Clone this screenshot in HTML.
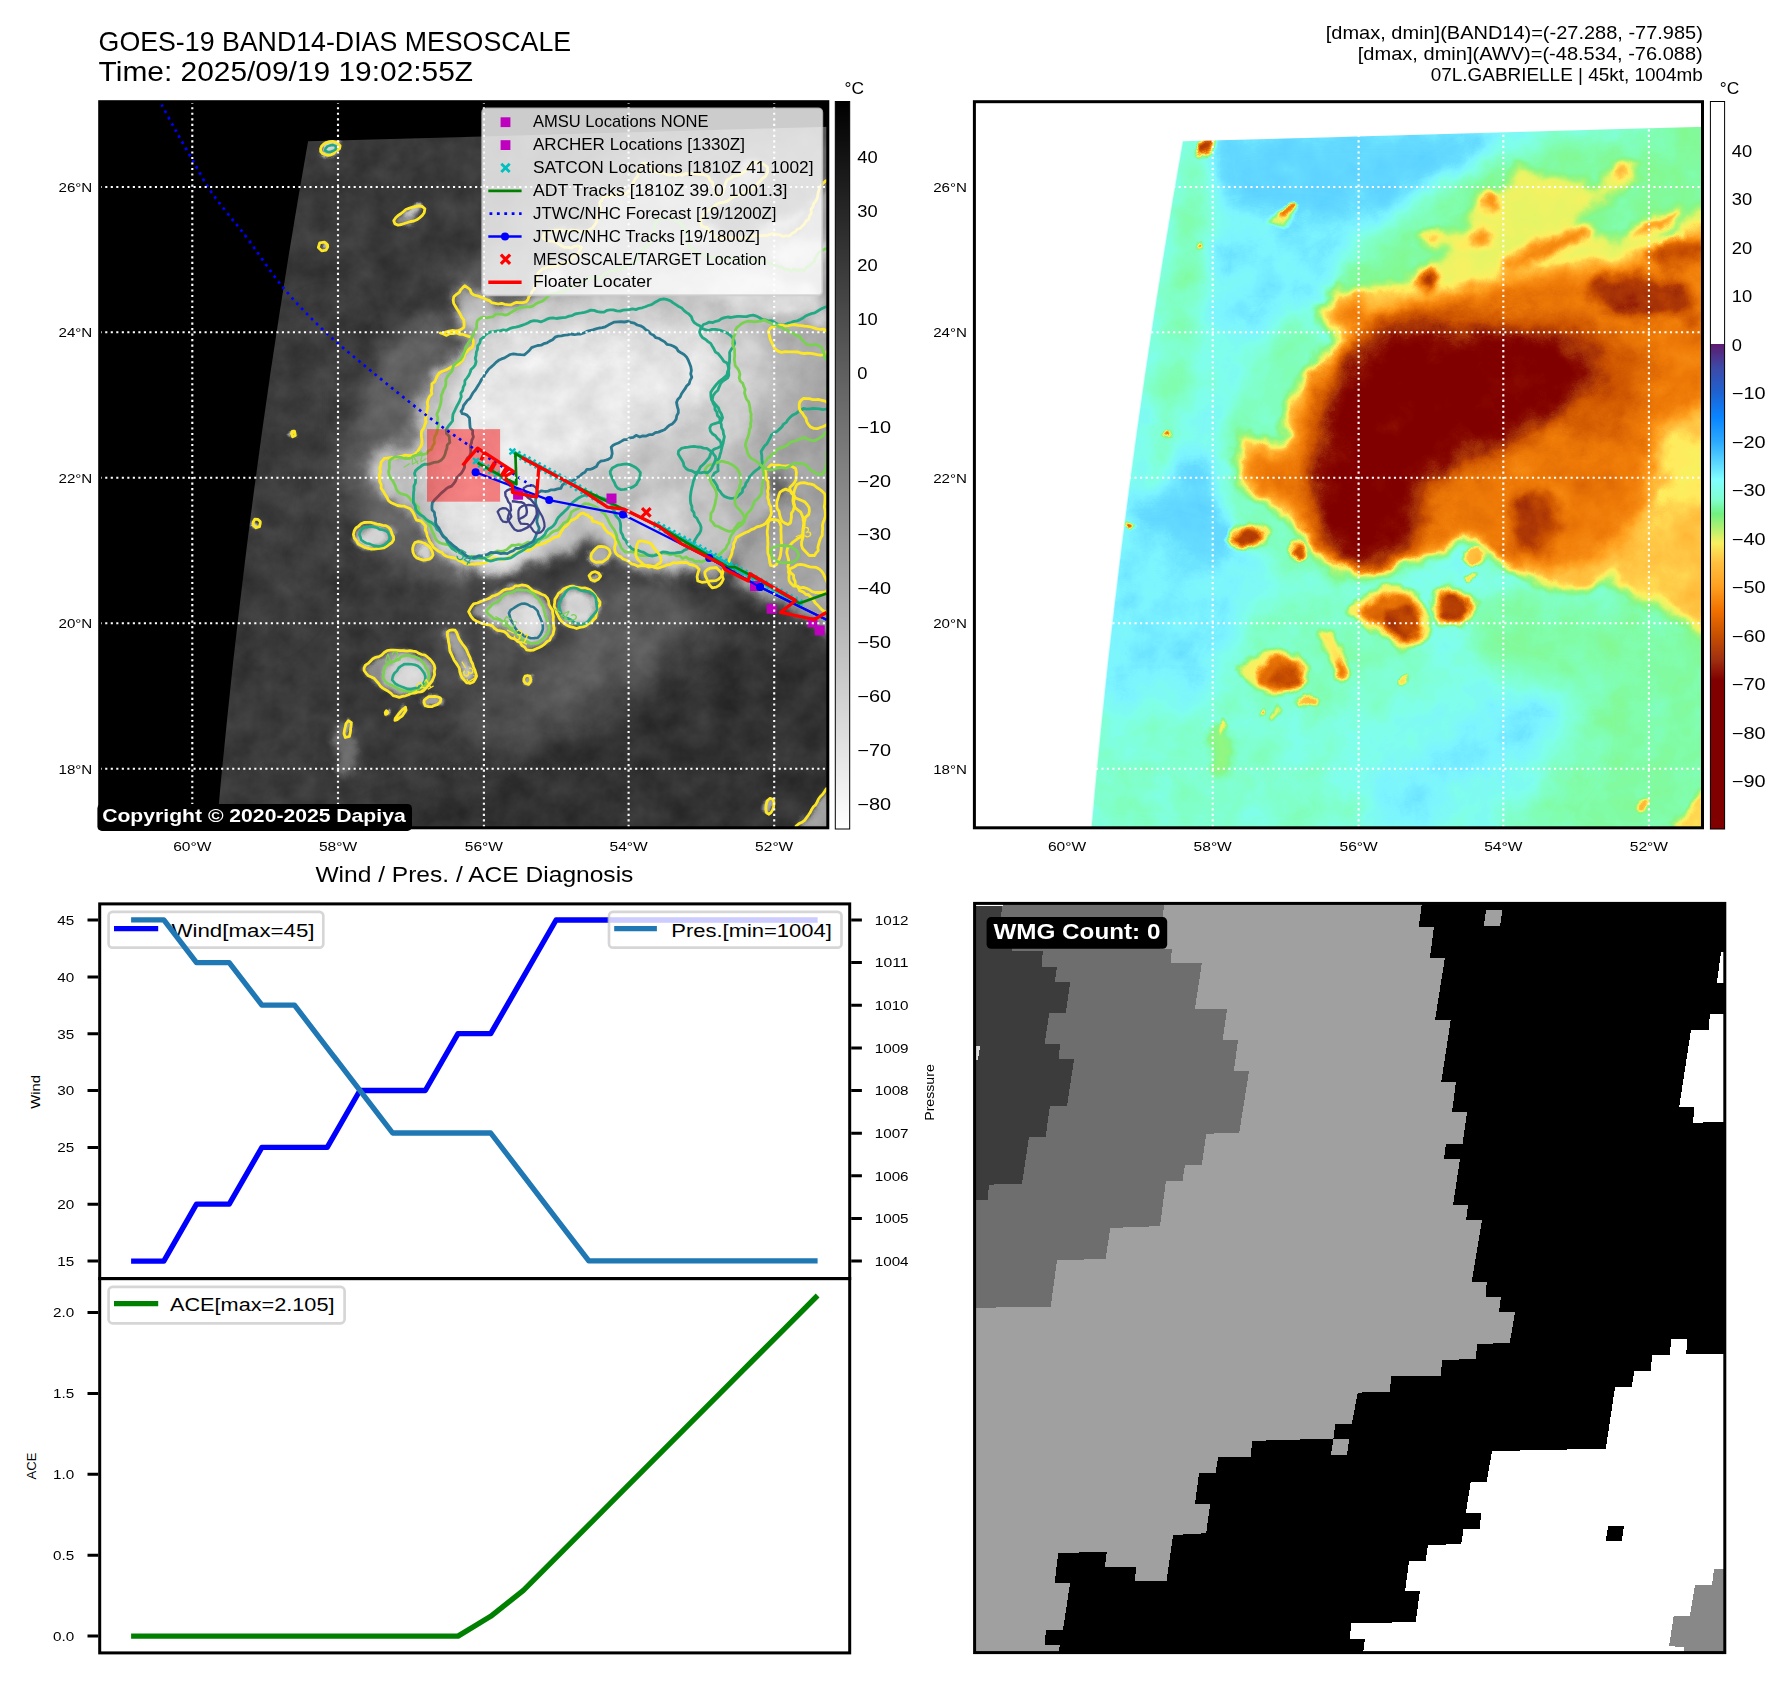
<!DOCTYPE html>
<html><head><meta charset="utf-8"><title>GOES-19 BAND14-DIAS MESOSCALE</title>
<style>html,body{margin:0;padding:0;background:#fff;}svg{display:block}text{font-family:"Liberation Sans",sans-serif;}</style></head>
<body>
<svg width="1792" height="1690" viewBox="0 0 1792 1690">
<defs>
<clipPath id="cpL"><rect x="99.7" y="101.7" width="728.1" height="726.1"/></clipPath>
<clipPath id="sw"><polygon points="308.1,141.3 298.0,199.3 288.4,257.3 279.2,315.3 270.4,373.3 262.1,431.3 254.2,489.3 246.7,547.3 239.7,605.3 233.0,663.3 226.9,721.3 221.1,779.3 215.8,837.3 212.8,840.0 840.0,840.0 840.0,126.4"/></clipPath>
<filter id="b08" filterUnits="userSpaceOnUse" x="0" y="0" width="950" height="950" color-interpolation-filters="sRGB"><feGaussianBlur stdDeviation="0.8"/></filter>
<filter id="b1" filterUnits="userSpaceOnUse" x="0" y="0" width="950" height="950" color-interpolation-filters="sRGB"><feGaussianBlur stdDeviation="1"/></filter>
<filter id="b15" filterUnits="userSpaceOnUse" x="0" y="0" width="950" height="950" color-interpolation-filters="sRGB"><feGaussianBlur stdDeviation="1.5"/></filter>
<filter id="b2" filterUnits="userSpaceOnUse" x="0" y="0" width="950" height="950" color-interpolation-filters="sRGB"><feGaussianBlur stdDeviation="2"/></filter>
<filter id="b25" filterUnits="userSpaceOnUse" x="0" y="0" width="950" height="950" color-interpolation-filters="sRGB"><feGaussianBlur stdDeviation="2.5"/></filter>
<filter id="b3" filterUnits="userSpaceOnUse" x="0" y="0" width="950" height="950" color-interpolation-filters="sRGB"><feGaussianBlur stdDeviation="3"/></filter>
<filter id="b4" filterUnits="userSpaceOnUse" x="0" y="0" width="950" height="950" color-interpolation-filters="sRGB"><feGaussianBlur stdDeviation="4"/></filter>
<filter id="b5" filterUnits="userSpaceOnUse" x="0" y="0" width="950" height="950" color-interpolation-filters="sRGB"><feGaussianBlur stdDeviation="5"/></filter>
<filter id="b6" filterUnits="userSpaceOnUse" x="0" y="0" width="950" height="950" color-interpolation-filters="sRGB"><feGaussianBlur stdDeviation="6"/></filter>
<filter id="b8" filterUnits="userSpaceOnUse" x="0" y="0" width="950" height="950" color-interpolation-filters="sRGB"><feGaussianBlur stdDeviation="8"/></filter>
<filter id="b10" filterUnits="userSpaceOnUse" x="0" y="0" width="950" height="950" color-interpolation-filters="sRGB"><feGaussianBlur stdDeviation="10"/></filter>
<filter id="b12" filterUnits="userSpaceOnUse" x="0" y="0" width="950" height="950" color-interpolation-filters="sRGB"><feGaussianBlur stdDeviation="12"/></filter>
<filter id="b14" filterUnits="userSpaceOnUse" x="0" y="0" width="950" height="950" color-interpolation-filters="sRGB"><feGaussianBlur stdDeviation="14"/></filter>
<filter id="b16" filterUnits="userSpaceOnUse" x="0" y="0" width="950" height="950" color-interpolation-filters="sRGB"><feGaussianBlur stdDeviation="16"/></filter>
<filter id="b20" filterUnits="userSpaceOnUse" x="0" y="0" width="950" height="950" color-interpolation-filters="sRGB"><feGaussianBlur stdDeviation="20"/></filter>
<filter id="b25x" filterUnits="userSpaceOnUse" x="0" y="0" width="950" height="950" color-interpolation-filters="sRGB"><feGaussianBlur stdDeviation="25"/></filter>
<filter id="b30" filterUnits="userSpaceOnUse" x="0" y="0" width="950" height="950" color-interpolation-filters="sRGB"><feGaussianBlur stdDeviation="30"/></filter>
<filter id="b40" filterUnits="userSpaceOnUse" x="0" y="0" width="950" height="950" color-interpolation-filters="sRGB"><feGaussianBlur stdDeviation="40"/></filter>
<filter id="cmap" filterUnits="userSpaceOnUse" x="0" y="0" width="950" height="950" color-interpolation-filters="sRGB"><feComponentTransfer><feFuncR type="table" tableValues="0.345 0.346 0.347 0.348 0.349 0.349 0.350 0.351 0.352 0.353 0.376 0.400 0.445 0.490 0.496 0.502 0.502 0.502 0.505 0.511 0.518 0.558 0.598 0.639 0.692 0.760 0.827 0.894 0.933 0.971 1.000 1.000 1.000 1.000 1.000 1.000 0.980 0.961 0.941 0.894 0.847 0.800 0.714 0.627 0.540 0.502 0.502 0.502 0.502 0.502 0.502"/><feFuncG type="table" tableValues="0.800 0.802 0.803 0.805 0.807 0.809 0.810 0.812 0.814 0.816 0.839 0.863 0.912 0.961 0.980 1.000 1.000 1.000 0.995 0.984 0.973 0.970 0.968 0.966 0.964 0.963 0.962 0.961 0.954 0.947 0.924 0.854 0.784 0.732 0.680 0.627 0.580 0.533 0.486 0.434 0.382 0.329 0.251 0.173 0.047 0.000 0.000 0.000 0.000 0.000 0.000"/><feFuncB type="table" tableValues="1.000 1.000 1.000 1.000 1.000 1.000 1.000 1.000 1.000 1.000 1.000 1.000 1.000 1.000 0.959 0.918 0.839 0.761 0.685 0.613 0.541 0.519 0.496 0.474 0.454 0.436 0.418 0.400 0.391 0.383 0.365 0.320 0.275 0.225 0.175 0.125 0.094 0.063 0.031 0.021 0.010 0.000 0.016 0.031 0.006 0.000 0.000 0.000 0.000 0.000 0.000"/></feComponentTransfer></filter>
<filter id="rough" filterUnits="userSpaceOnUse" x="0" y="0" width="950" height="950" color-interpolation-filters="sRGB"><feTurbulence type="fractalNoise" baseFrequency="0.045" numOctaves="3" seed="7" result="n"/><feDisplacementMap in="SourceGraphic" in2="n" scale="14" xChannelSelector="R" yChannelSelector="G"/></filter>
<filter id="noise" filterUnits="userSpaceOnUse" x="0" y="0" width="950" height="950" color-interpolation-filters="sRGB"><feTurbulence type="fractalNoise" baseFrequency="0.035" numOctaves="4" seed="11" result="t"/><feColorMatrix in="t" type="matrix" values="1 0 0 0 0  1 0 0 0 0  1 0 0 0 0  0 0 0 0 1" result="g"/><feComposite in="SourceGraphic" in2="g" operator="arithmetic" k1="0" k2="1" k3="0.13" k4="-0.065"/></filter>
<filter id="noiseR" filterUnits="userSpaceOnUse" x="0" y="0" width="950" height="950" color-interpolation-filters="sRGB"><feTurbulence type="fractalNoise" baseFrequency="0.03" numOctaves="4" seed="5" result="t"/><feColorMatrix in="t" type="matrix" values="1 0 0 0 0  1 0 0 0 0  1 0 0 0 0  0 0 0 0 1" result="g"/><feComposite in="SourceGraphic" in2="g" operator="arithmetic" k1="0" k2="1" k3="0.07" k4="-0.035"/></filter>
<linearGradient id="cbL" x1="0" y1="0" x2="0" y2="1"><stop offset="0" stop-color="#000"/><stop offset="1" stop-color="#fff"/></linearGradient>
<linearGradient id="cbR" x1="0" y1="0" x2="0" y2="1"><stop offset="0" stop-color="#ffffff"/><stop offset="0.3327" stop-color="#ffffff"/><stop offset="0.3328" stop-color="#5e1a6e"/><stop offset="0.3667" stop-color="#3c4aa8"/><stop offset="0.4" stop-color="#1e62d0"/><stop offset="0.4333" stop-color="#0a84ff"/><stop offset="0.4667" stop-color="#2aa8ff"/><stop offset="0.5" stop-color="#60dcff"/><stop offset="0.52" stop-color="#80ffff"/><stop offset="0.5467" stop-color="#80ffd0"/><stop offset="0.5667" stop-color="#70f080"/><stop offset="0.5867" stop-color="#b0f070"/><stop offset="0.6067" stop-color="#f8f060"/><stop offset="0.6333" stop-color="#ffc040"/><stop offset="0.6667" stop-color="#ffa020"/><stop offset="0.7" stop-color="#f07000"/><stop offset="0.7333" stop-color="#c85000"/><stop offset="0.7667" stop-color="#a03010"/><stop offset="0.795" stop-color="#800000"/><stop offset="1" stop-color="#800000"/></linearGradient>
<g id="cloudsL">
<path d="M405.0 325.0C392.5 332.0 384.2 354.5 375.0 372.0C365.8 389.5 355.0 410.3 350.0 430.0C345.0 449.7 342.5 472.0 345.0 490.0C347.5 508.0 355.8 525.0 365.0 538.0C374.2 551.0 386.7 561.0 400.0 568.0C413.3 575.0 433.3 581.3 445.0 580.0C456.7 578.7 469.2 601.7 470.0 560.0C470.8 518.3 460.8 369.2 450.0 330.0C439.2 290.8 417.5 318.0 405.0 325.0Z" fill="#616161" filter="url(#b10)"/>
<path d="M470.0 305.0C412.5 294.2 485.0 259.2 500.0 240.0C515.0 220.8 536.7 205.0 560.0 190.0C583.3 175.0 610.0 159.2 640.0 150.0C670.0 140.8 705.8 139.2 740.0 135.0C774.2 130.8 827.5 96.7 845.0 125.0C862.5 153.3 907.5 275.0 845.0 305.0C782.5 335.0 527.5 315.8 470.0 305.0Z" fill="#616161" filter="url(#b14)"/>
<path d="M732.0 565.0C734.2 554.0 748.3 534.5 758.0 522.0C767.7 509.5 776.3 497.8 790.0 490.0C803.7 482.2 831.7 452.0 840.0 475.0C848.3 498.0 846.7 604.8 840.0 628.0C833.3 651.2 811.7 618.7 800.0 614.0C788.3 609.3 779.2 604.3 770.0 600.0C760.8 595.7 751.3 593.8 745.0 588.0C738.7 582.2 729.8 576.0 732.0 565.0Z" fill="#a3a3a3" filter="url(#b6)"/>
<path d="M776.0 420.0C787.3 412.3 829.3 402.7 840.0 416.0C850.7 429.3 848.0 487.0 840.0 500.0C832.0 513.0 803.3 500.3 792.0 494.0C780.7 487.7 774.7 474.3 772.0 462.0C769.3 449.7 764.7 427.7 776.0 420.0Z" fill="#999999" filter="url(#b6)"/>
<path d="M534.0 280.0C535.0 275.2 534.5 274.2 540.0 271.0C545.5 267.8 560.3 265.0 567.0 261.0C573.7 257.0 580.8 249.7 580.0 247.0C579.2 244.3 568.0 246.8 562.0 245.0C556.0 243.2 542.5 238.2 544.0 236.0C545.5 233.8 563.2 233.3 571.0 232.0C578.8 230.7 585.8 233.5 591.0 228.0C596.2 222.5 595.8 204.8 602.0 199.0C608.2 193.2 621.2 198.8 628.0 193.0C634.8 187.2 638.7 167.3 643.0 164.0C647.3 160.7 646.2 170.8 654.0 173.0C661.8 175.2 680.8 176.0 690.0 177.0C699.2 178.0 704.3 176.0 709.0 179.0C713.7 182.0 713.5 195.3 718.0 195.0C722.5 194.7 729.8 182.2 736.0 177.0C742.2 171.8 750.3 164.7 755.0 164.0C759.7 163.3 765.7 168.3 764.0 173.0C762.3 177.7 754.2 185.8 745.0 192.0C735.8 198.2 716.5 204.0 709.0 210.0C701.5 216.0 697.0 223.2 700.0 228.0C703.0 232.8 716.3 237.7 727.0 239.0C737.7 240.3 751.8 237.2 764.0 236.0C776.2 234.8 788.2 237.5 800.0 232.0C811.8 226.5 829.2 198.3 835.0 203.0C840.8 207.7 840.8 250.2 835.0 260.0C829.2 269.8 812.5 260.0 800.0 262.0C787.5 264.0 773.3 269.3 760.0 272.0C746.7 274.7 733.3 276.3 720.0 278.0C706.7 279.7 693.3 280.3 680.0 282.0C666.7 283.7 653.5 285.3 640.0 288.0C626.5 290.7 611.8 294.7 599.0 298.0C586.2 301.3 573.8 307.7 563.0 308.0C552.2 308.3 538.8 304.7 534.0 300.0C529.2 295.3 533.0 284.8 534.0 280.0Z" fill="#8f8f8f" filter="url(#b4)"/>
<path d="M382.0 459.0C379.5 465.0 380.5 482.7 385.0 491.0C389.5 499.3 403.0 503.7 409.0 509.0C415.0 514.3 417.0 516.8 421.0 523.0C425.0 529.2 427.8 540.5 433.0 546.0C438.2 551.5 444.5 552.8 452.0 556.0C459.5 559.2 468.2 565.0 478.0 565.0C487.8 565.0 500.0 559.5 511.0 556.0C522.0 552.5 535.3 548.3 544.0 544.0C552.7 539.7 556.7 535.5 563.0 530.0C569.3 524.5 576.5 513.3 582.0 511.0C587.5 508.7 591.3 512.0 596.0 516.0C600.7 520.0 606.7 528.7 610.0 535.0C613.3 541.3 612.8 549.7 616.0 554.0C619.2 558.3 622.8 559.2 629.0 561.0C635.2 562.8 645.0 564.3 653.0 565.0C661.0 565.7 669.8 564.5 677.0 565.0C684.2 565.5 692.2 565.5 696.0 568.0C699.8 570.5 696.2 578.5 700.0 580.0C703.8 581.5 714.7 579.0 719.0 577.0C723.3 575.0 722.8 574.3 726.0 568.0C729.2 561.7 733.2 545.3 738.0 539.0C742.8 532.7 749.5 533.5 755.0 530.0C760.5 526.5 769.0 524.3 771.0 518.0C773.0 511.7 767.0 500.3 767.0 492.0C767.0 483.7 766.3 471.5 771.0 468.0C775.7 464.5 791.8 467.0 795.0 471.0C798.2 475.0 787.7 485.3 790.0 492.0C792.3 498.7 806.7 503.8 809.0 511.0C811.3 518.2 807.2 527.8 804.0 535.0C800.8 542.2 791.5 546.2 790.0 554.0C788.5 561.8 791.8 575.8 795.0 582.0C798.2 588.2 802.3 591.0 809.0 591.0C815.7 591.0 830.7 647.2 835.0 582.0C839.3 516.8 840.8 258.7 835.0 200.0C829.2 141.3 811.8 224.0 800.0 230.0C788.2 236.0 776.2 234.5 764.0 236.0C751.8 237.5 737.7 240.3 727.0 239.0C716.3 237.7 703.0 232.8 700.0 228.0C697.0 223.2 701.5 216.0 709.0 210.0C716.5 204.0 735.8 198.2 745.0 192.0C754.2 185.8 762.3 177.7 764.0 173.0C765.7 168.3 759.7 163.3 755.0 164.0C750.3 164.7 742.2 171.8 736.0 177.0C729.8 182.2 722.5 194.7 718.0 195.0C713.5 195.3 713.7 182.0 709.0 179.0C704.3 176.0 699.2 178.0 690.0 177.0C680.8 176.0 661.8 175.2 654.0 173.0C646.2 170.8 647.3 160.7 643.0 164.0C638.7 167.3 634.8 187.2 628.0 193.0C621.2 198.8 608.2 193.2 602.0 199.0C595.8 204.8 596.2 222.5 591.0 228.0C585.8 233.5 578.8 230.7 571.0 232.0C563.2 233.3 545.5 233.8 544.0 236.0C542.5 238.2 556.0 243.2 562.0 245.0C568.0 246.8 579.2 244.3 580.0 247.0C580.8 249.7 573.7 257.0 567.0 261.0C560.3 265.0 546.2 264.7 540.0 271.0C533.8 277.3 535.5 293.2 530.0 299.0C524.5 304.8 514.5 306.0 507.0 306.0C499.5 306.0 492.3 302.3 485.0 299.0C477.7 295.7 468.2 285.2 463.0 286.0C457.8 286.8 454.0 297.0 454.0 304.0C454.0 311.0 465.3 323.2 463.0 328.0C460.7 332.8 438.5 331.5 440.0 333.0C441.5 334.5 468.8 332.5 472.0 337.0C475.2 341.5 465.3 352.5 459.0 360.0C452.7 367.5 439.3 370.8 434.0 382.0C428.7 393.2 429.2 415.8 427.0 427.0C424.8 438.2 425.5 444.3 421.0 449.0C416.5 453.7 406.5 453.3 400.0 455.0C393.5 456.7 384.5 453.0 382.0 459.0Z" fill="#a4a4a4" filter="url(#b4)"/>
<path d="M374.0 480.0C380.5 487.2 401.8 497.7 410.0 504.0C418.2 510.3 417.0 510.3 423.0 518.0C429.0 525.7 439.5 543.0 446.0 550.0C452.5 557.0 456.5 557.3 462.0 560.0C467.5 562.7 471.7 565.5 479.0 566.0C486.3 566.5 494.2 565.2 506.0 563.0C517.8 560.8 539.0 555.8 550.0 553.0C561.0 550.2 565.3 548.8 572.0 546.0C578.7 543.2 584.5 536.7 590.0 536.0C595.5 535.3 599.2 538.0 605.0 542.0C610.8 546.0 616.8 555.7 625.0 560.0C633.2 564.3 642.3 567.2 654.0 568.0C665.7 568.8 681.5 568.3 695.0 565.0C708.5 561.7 723.8 555.8 735.0 548.0C746.2 540.2 756.0 527.3 762.0 518.0C768.0 508.7 769.9 500.4 771.2 492.4C772.5 484.4 768.8 475.7 770.0 470.0C771.2 464.3 776.5 462.5 778.2 458.3C779.9 454.1 778.0 451.7 780.0 445.0C782.0 438.3 786.8 423.5 790.0 418.0C793.2 412.5 796.1 440.3 799.2 412.2C802.3 384.1 815.0 274.3 808.5 249.6C802.0 224.9 788.1 258.8 760.0 264.0C731.9 269.2 666.8 276.7 640.0 281.0C613.2 285.3 611.8 286.5 599.0 290.0C586.2 293.5 578.7 297.7 563.0 302.0C547.3 306.3 517.2 314.8 505.0 316.0C492.8 317.2 493.7 311.8 490.0 309.0C486.3 306.2 486.5 300.2 483.0 299.0C479.5 297.8 472.8 299.7 469.0 302.0C465.2 304.3 460.8 309.5 460.0 313.0C459.2 316.5 461.3 320.8 464.0 323.0C466.7 325.2 472.7 324.0 476.0 326.0C479.3 328.0 491.3 324.8 484.0 335.0C476.7 345.2 443.0 372.0 432.0 387.0C421.0 402.0 420.0 415.5 418.0 425.0C416.0 434.5 422.5 439.2 420.0 444.0C417.5 448.8 409.3 452.8 403.0 454.0C396.7 455.2 387.3 449.8 382.0 451.0C376.7 452.2 372.3 456.2 371.0 461.0C369.7 465.8 367.5 472.8 374.0 480.0Z" fill="#b2b2b2" filter="url(#b8)"/>
<path d="M374.0 480.0C380.5 487.2 401.8 497.7 410.0 504.0C418.2 510.3 417.0 510.3 423.0 518.0C429.0 525.7 439.5 543.0 446.0 550.0C452.5 557.0 456.5 557.3 462.0 560.0C467.5 562.7 471.7 565.5 479.0 566.0C486.3 566.5 494.2 565.2 506.0 563.0C517.8 560.8 539.0 555.8 550.0 553.0C561.0 550.2 565.3 548.8 572.0 546.0C578.7 543.2 584.5 536.7 590.0 536.0C595.5 535.3 599.2 538.0 605.0 542.0C610.8 546.0 616.8 555.7 625.0 560.0C633.2 564.3 642.3 567.2 654.0 568.0C665.7 568.8 681.5 568.3 695.0 565.0C708.5 561.7 727.6 551.7 735.0 548.0C742.4 544.3 741.0 559.0 739.5 543.0C738.0 527.0 724.2 472.5 726.0 452.0C727.8 431.5 744.0 440.3 750.0 420.0C756.0 399.7 759.5 356.2 762.0 330.0C764.5 303.8 785.2 270.7 764.9 262.5C744.6 254.3 667.6 276.4 640.0 281.0C612.4 285.6 611.8 286.5 599.0 290.0C586.2 293.5 578.7 297.7 563.0 302.0C547.3 306.3 517.2 314.8 505.0 316.0C492.8 317.2 493.7 311.8 490.0 309.0C486.3 306.2 486.5 300.2 483.0 299.0C479.5 297.8 472.8 299.7 469.0 302.0C465.2 304.3 460.8 309.5 460.0 313.0C459.2 316.5 461.3 320.8 464.0 323.0C466.7 325.2 472.7 324.0 476.0 326.0C479.3 328.0 491.3 324.8 484.0 335.0C476.7 345.2 443.0 372.0 432.0 387.0C421.0 402.0 420.0 415.5 418.0 425.0C416.0 434.5 422.5 439.2 420.0 444.0C417.5 448.8 409.3 452.8 403.0 454.0C396.7 455.2 387.3 449.8 382.0 451.0C376.7 452.2 372.3 456.2 371.0 461.0C369.7 465.8 367.5 472.8 374.0 480.0Z" fill="#c3c3c3" filter="url(#b8)"/>
<path d="M700.0 442.0C706.5 445.0 722.5 437.0 732.0 432.0C741.5 427.0 750.7 419.8 757.0 412.0C763.3 404.2 768.5 395.3 770.0 385.0C771.5 374.7 770.2 358.7 766.0 350.0C761.8 341.3 751.0 335.6 745.0 333.0C739.0 330.4 736.2 336.0 730.2 334.3C724.2 332.6 717.9 326.5 708.9 322.8C699.9 319.1 688.1 314.6 676.1 312.2C664.1 309.8 660.9 308.6 637.0 308.1C613.1 307.6 554.8 307.6 532.7 309.0C510.6 310.4 512.6 312.5 504.3 316.7C496.0 320.9 489.8 326.7 482.8 334.1C475.8 341.5 467.2 353.8 462.4 360.9C457.6 368.0 457.1 368.8 453.9 376.9C450.7 385.0 446.7 398.4 443.4 409.3C440.1 420.2 436.3 431.2 434.2 442.2C432.1 453.1 431.0 464.2 431.0 475.0C431.0 485.8 432.4 497.1 434.0 507.0C435.6 516.9 437.5 525.9 440.5 534.1C443.5 542.3 447.2 550.3 452.1 556.2C457.0 562.1 462.3 567.1 469.9 569.6C477.4 572.1 488.4 572.7 497.4 571.4C506.4 570.1 516.0 566.4 524.0 561.7C532.0 557.0 539.5 552.4 545.7 543.3C552.0 534.2 558.5 517.2 561.5 507.2C564.5 497.2 545.5 495.8 563.6 483.1C581.8 470.4 648.8 442.6 670.4 431.0C692.0 419.4 688.4 412.0 693.3 413.8C698.2 415.6 693.5 439.0 700.0 442.0Z" fill="#d1d1d1" filter="url(#b10)"/>
<path d="M686.0 522.0C686.0 526.6 685.1 531.7 683.4 535.9C681.8 540.1 679.2 544.1 676.2 547.0C673.3 549.9 669.5 552.2 665.8 553.2C662.1 554.2 657.9 554.2 654.2 553.2C650.5 552.2 646.7 549.9 643.8 547.0C640.8 544.1 638.2 540.1 636.6 535.9C634.9 531.7 634.0 526.6 634.0 522.0C634.0 517.4 634.9 512.3 636.6 508.1C638.2 503.9 640.8 499.9 643.8 497.0C646.7 494.1 650.5 491.8 654.2 490.8C657.9 489.8 662.1 489.8 665.8 490.8C669.5 491.8 673.3 494.1 676.2 497.0C679.2 499.9 681.8 503.9 683.4 508.1C685.1 512.3 686.0 517.4 686.0 522.0Z" fill="#d5d5d5" filter="url(#b5)"/>
<path d="M821.7 301.9C821.4 304.9 819.0 308.0 815.2 310.3C811.4 312.7 805.5 314.8 799.0 316.0C792.5 317.2 784.2 317.8 776.3 317.7C768.3 317.5 759.2 316.6 751.5 315.1C743.7 313.6 735.7 311.2 729.6 308.7C723.5 306.1 718.1 302.9 714.9 299.8C711.7 296.7 710.0 293.2 710.3 290.1C710.6 287.1 713.0 284.0 716.8 281.7C720.6 279.3 726.5 277.2 733.0 276.0C739.5 274.8 747.8 274.2 755.7 274.3C763.7 274.5 772.8 275.4 780.5 276.9C788.3 278.4 796.3 280.8 802.4 283.3C808.5 285.9 813.9 289.1 817.1 292.2C820.3 295.3 822.0 298.8 821.7 301.9Z" fill="#d9d9d9" filter="url(#b5)"/>
<path d="M829.7 248.1C830.0 250.0 829.3 252.2 827.8 254.1C826.3 256.0 823.7 258.0 820.7 259.6C817.7 261.2 813.8 262.7 809.9 263.7C806.1 264.6 801.6 265.3 797.6 265.4C793.6 265.6 789.4 265.2 786.1 264.5C782.8 263.8 779.8 262.5 777.8 261.1C775.8 259.7 774.5 257.8 774.3 255.9C774.0 254.0 774.7 251.8 776.2 249.9C777.7 248.0 780.3 246.0 783.3 244.4C786.3 242.8 790.2 241.3 794.1 240.3C797.9 239.4 802.4 238.7 806.4 238.6C810.4 238.4 814.6 238.8 817.9 239.5C821.2 240.2 824.2 241.5 826.2 242.9C828.2 244.3 829.5 246.2 829.7 248.1Z" fill="#d5d5d5" filter="url(#b5)"/>
<path d="M565.7 279.8C565.7 281.6 565.3 283.6 564.5 285.2C563.8 286.9 562.5 288.4 561.2 289.6C559.8 290.7 558.1 291.6 556.4 292.0C554.7 292.4 552.7 292.4 551.0 292.0C549.3 291.6 547.6 290.7 546.2 289.6C544.9 288.4 543.6 286.9 542.9 285.2C542.1 283.6 541.7 281.6 541.7 279.8C541.7 278.0 542.1 276.0 542.9 274.4C543.6 272.7 544.9 271.2 546.2 270.0C547.6 268.9 549.3 268.0 551.0 267.6C552.7 267.2 554.7 267.2 556.4 267.6C558.1 268.0 559.8 268.9 561.2 270.0C562.5 271.2 563.8 272.7 564.5 274.4C565.3 276.0 565.7 278.0 565.7 279.8Z" fill="#dcdcdc" filter="url(#b5)"/>
<path d="M830.0 317.0C830.0 318.0 829.6 319.1 829.0 320.0C828.4 320.9 827.4 321.8 826.2 322.5C825.1 323.1 823.6 323.6 822.2 323.8C820.8 324.0 819.2 324.0 817.8 323.8C816.4 323.6 814.9 323.1 813.8 322.5C812.6 321.8 811.6 320.9 811.0 320.0C810.4 319.1 810.0 318.0 810.0 317.0C810.0 316.0 810.4 314.9 811.0 314.0C811.6 313.1 812.6 312.2 813.8 311.5C814.9 310.9 816.4 310.4 817.8 310.2C819.2 310.0 820.8 310.0 822.2 310.2C823.6 310.4 825.1 310.9 826.2 311.5C827.4 312.2 828.4 313.1 829.0 314.0C829.6 314.9 830.0 316.0 830.0 317.0Z" fill="#d5d5d5" filter="url(#b5)"/>
<path d="M626.0 203.0C626.0 204.2 625.6 205.4 625.0 206.5C624.4 207.5 623.4 208.5 622.2 209.3C621.1 210.0 619.6 210.5 618.2 210.8C616.8 211.1 615.2 211.1 613.8 210.8C612.4 210.5 610.9 210.0 609.8 209.3C608.6 208.5 607.6 207.5 607.0 206.5C606.4 205.4 606.0 204.2 606.0 203.0C606.0 201.8 606.4 200.6 607.0 199.5C607.6 198.5 608.6 197.5 609.8 196.7C610.9 196.0 612.4 195.5 613.8 195.2C615.2 194.9 616.8 194.9 618.2 195.2C619.6 195.5 621.1 196.0 622.2 196.7C623.4 197.5 624.4 198.5 625.0 199.5C625.6 200.6 626.0 201.8 626.0 203.0Z" fill="#bdbdbd" filter="url(#b5)"/>
<path d="M618.6 234.6C618.9 235.8 618.7 237.1 618.2 238.3C617.7 239.5 616.7 240.9 615.4 241.9C614.2 243.0 612.5 244.1 610.8 244.8C609.1 245.5 607.1 246.1 605.2 246.3C603.4 246.5 601.4 246.5 599.8 246.1C598.2 245.8 596.6 245.2 595.6 244.4C594.5 243.6 593.7 242.5 593.4 241.4C593.1 240.2 593.3 238.9 593.8 237.7C594.3 236.5 595.3 235.1 596.6 234.1C597.8 233.0 599.5 231.9 601.2 231.2C602.9 230.5 604.9 229.9 606.8 229.7C608.6 229.5 610.6 229.5 612.2 229.9C613.8 230.2 615.4 230.8 616.4 231.6C617.5 232.4 618.3 233.5 618.6 234.6Z" fill="#bdbdbd" filter="url(#b5)"/>
<path d="M563.0 238.0C563.0 238.7 562.7 239.5 562.3 240.2C561.9 240.8 561.2 241.5 560.4 241.9C559.6 242.4 558.5 242.7 557.6 242.9C556.6 243.0 555.4 243.0 554.4 242.9C553.5 242.7 552.4 242.4 551.6 241.9C550.8 241.5 550.1 240.8 549.7 240.2C549.3 239.5 549.0 238.7 549.0 238.0C549.0 237.3 549.3 236.5 549.7 235.8C550.1 235.2 550.8 234.5 551.6 234.1C552.4 233.6 553.5 233.3 554.4 233.1C555.4 233.0 556.6 233.0 557.6 233.1C558.5 233.3 559.6 233.6 560.4 234.1C561.2 234.5 561.9 235.2 562.3 235.8C562.7 236.5 563.0 237.3 563.0 238.0Z" fill="#b8b8b8" filter="url(#b5)"/>
<path d="M758.5 167.2C758.8 167.8 758.6 168.7 757.9 169.7C757.2 170.6 756.0 171.8 754.5 173.0C753.1 174.1 751.1 175.4 749.1 176.5C747.1 177.6 744.7 178.7 742.6 179.5C740.5 180.3 738.3 181.0 736.4 181.4C734.6 181.8 732.9 182.0 731.8 181.9C730.6 181.8 729.8 181.4 729.5 180.8C729.2 180.2 729.4 179.3 730.1 178.3C730.8 177.4 732.0 176.2 733.5 175.0C734.9 173.9 736.9 172.6 738.9 171.5C740.9 170.4 743.3 169.3 745.4 168.5C747.5 167.7 749.7 167.0 751.6 166.6C753.4 166.2 755.1 166.0 756.2 166.1C757.4 166.2 758.2 166.6 758.5 167.2Z" fill="#bdbdbd" filter="url(#b5)"/>
<path d="M717.2 227.3C717.7 228.5 717.4 230.3 716.1 232.1C714.9 234.0 712.7 236.3 709.9 238.5C707.2 240.6 703.5 243.1 699.8 245.1C696.0 247.2 691.6 249.2 687.7 250.8C683.7 252.3 679.4 253.6 676.0 254.3C672.6 255.0 669.4 255.2 667.2 255.0C665.0 254.7 663.4 253.9 662.8 252.7C662.3 251.5 662.6 249.7 663.9 247.9C665.1 246.0 667.3 243.7 670.1 241.5C672.8 239.4 676.5 236.9 680.2 234.9C684.0 232.8 688.4 230.8 692.3 229.2C696.3 227.7 700.6 226.4 704.0 225.7C707.4 225.0 710.6 224.8 712.8 225.0C715.0 225.3 716.6 226.1 717.2 227.3Z" fill="#bdbdbd" filter="url(#b5)"/>
<path d="M672.5 245.0C673.1 246.0 672.9 247.6 672.0 249.3C671.1 251.0 669.4 253.2 667.2 255.3C665.0 257.4 662.0 259.8 658.9 261.9C655.9 263.9 652.2 266.0 648.9 267.6C645.6 269.3 642.0 270.7 639.1 271.5C636.2 272.4 633.4 272.8 631.4 272.7C629.5 272.6 628.1 272.0 627.5 271.0C626.9 270.0 627.1 268.4 628.0 266.7C628.9 265.0 630.6 262.8 632.8 260.7C635.0 258.6 638.0 256.2 641.1 254.1C644.1 252.1 647.8 250.0 651.1 248.4C654.4 246.7 658.0 245.3 660.9 244.5C663.8 243.6 666.6 243.2 668.6 243.3C670.5 243.4 671.9 244.0 672.5 245.0Z" fill="#bdbdbd" filter="url(#b5)"/>
<path d="M807.2 212.3C807.6 213.2 807.1 214.7 805.8 216.3C804.5 218.0 802.1 220.0 799.3 222.1C796.5 224.1 792.7 226.4 788.9 228.4C785.2 230.4 780.8 232.4 776.8 234.0C772.9 235.6 768.7 237.0 765.4 237.9C762.0 238.7 758.9 239.2 756.8 239.2C754.7 239.1 753.2 238.6 752.8 237.7C752.4 236.8 752.9 235.3 754.2 233.7C755.5 232.0 757.9 230.0 760.7 227.9C763.5 225.9 767.3 223.6 771.1 221.6C774.8 219.6 779.2 217.6 783.2 216.0C787.1 214.4 791.3 213.0 794.6 212.1C798.0 211.3 801.1 210.8 803.2 210.8C805.3 210.9 806.8 211.4 807.2 212.3Z" fill="#b8b8b8" filter="url(#b5)"/>
<path d="M540.8 539.8C545.9 532.6 550.0 521.3 551.9 512.9C553.8 504.5 550.7 495.2 552.0 489.4C553.3 483.6 540.3 488.8 559.6 478.2C578.9 467.6 645.4 437.6 667.7 425.6C690.0 413.6 684.6 414.5 693.4 406.2C702.2 397.9 715.2 385.3 720.6 375.8C726.0 366.3 728.8 355.8 725.8 349.2C722.8 342.6 711.8 340.1 702.6 336.3C693.4 332.5 689.2 328.7 670.8 326.1C652.4 323.6 615.9 321.5 592.1 321.0C568.3 320.5 542.9 321.5 527.9 323.1C512.9 324.7 509.6 326.6 502.1 330.5C494.6 334.4 490.2 338.1 483.1 346.2C476.0 354.3 466.6 363.2 459.4 379.4C452.2 395.6 443.8 427.3 440.1 443.3C436.4 459.3 436.0 460.6 437.0 475.4C438.0 490.2 442.9 519.4 446.2 532.3C449.5 545.1 452.5 547.2 456.9 552.5C461.3 557.8 466.5 562.0 472.6 564.2C478.8 566.5 485.7 567.3 493.8 566.0C501.9 564.7 513.5 560.7 521.3 556.3C529.1 551.9 535.7 547.0 540.8 539.8Z" fill="#dbdbdb" filter="url(#b8)"/>
<path d="M465.7 382.4C459.5 396.8 450.6 429.2 447.0 444.6C443.4 460.0 443.0 460.8 444.0 475.0C445.0 489.2 449.8 517.7 452.8 529.9C455.9 542.1 458.4 543.3 462.3 548.0C466.2 552.7 470.9 556.3 476.1 558.1C481.3 559.9 486.7 560.3 493.6 559.0C500.5 557.7 510.5 554.4 517.5 550.4C524.5 546.4 531.5 540.5 535.4 535.2C539.3 529.9 540.0 525.5 541.0 518.5C542.0 511.5 538.8 500.7 541.1 493.1C543.5 485.5 534.6 485.0 555.1 472.7C575.6 460.4 642.1 431.4 664.4 419.4C686.7 407.4 681.4 407.4 689.0 400.7C696.6 394.0 705.9 386.1 710.3 379.4C714.7 372.7 717.9 365.4 715.5 360.5C713.1 355.6 704.1 353.2 695.8 349.8C687.4 346.4 683.4 342.5 665.4 340.0C647.4 337.5 611.3 335.5 588.0 335.0C564.7 334.5 539.9 335.6 525.5 337.0C511.1 338.4 508.3 340.2 501.4 343.7C494.5 347.2 490.1 351.7 484.2 358.1C478.2 364.6 471.9 368.0 465.7 382.4Z" fill="#e2e2e2" filter="url(#b8)"/>
<path d="M479.2 389.4C473.6 402.5 465.1 433.0 461.8 447.3C458.5 461.6 459.1 465.7 459.1 475.0C459.1 484.3 460.5 494.7 461.8 503.0C463.1 511.3 465.0 518.8 467.0 524.6C469.0 530.4 471.6 534.8 474.0 537.9C476.4 541.0 478.4 542.3 481.3 543.3C484.2 544.3 486.5 544.8 491.3 543.8C496.1 542.8 504.7 540.1 509.9 537.2C515.1 534.3 519.8 530.0 522.5 526.5C525.2 523.0 525.3 522.4 526.0 516.1C526.7 509.8 523.5 497.9 526.8 488.7C530.1 479.5 524.0 474.7 545.6 461.0C567.2 447.3 634.2 418.5 656.5 406.6C678.8 394.7 672.2 395.8 679.1 389.4C686.0 383.0 700.7 373.8 697.9 368.0C695.1 362.2 674.1 357.5 662.3 354.7C650.4 351.9 649.2 351.5 626.8 351.0C604.4 350.5 547.4 350.8 527.7 351.9C508.0 352.9 514.0 354.5 508.6 357.3C503.2 360.1 500.0 363.1 495.1 368.5C490.2 373.9 484.8 376.3 479.2 389.4Z" fill="#e7e7e7" filter="url(#b8)"/>
<path d="M473.0 612.0C473.0 608.5 479.5 604.3 484.0 601.0C488.5 597.7 494.7 594.7 500.0 592.0C505.3 589.3 510.5 585.7 516.0 585.0C521.5 584.3 528.0 585.7 533.0 588.0C538.0 590.3 543.0 595.0 546.0 599.0C549.0 603.0 549.3 607.2 551.0 612.0C552.7 616.8 556.8 622.8 556.0 628.0C555.2 633.2 550.3 639.3 546.0 643.0C541.7 646.7 535.2 650.3 530.0 650.0C524.8 649.7 520.0 644.3 515.0 641.0C510.0 637.7 505.2 633.2 500.0 630.0C494.8 626.8 488.5 625.0 484.0 622.0C479.5 619.0 473.0 615.5 473.0 612.0Z" fill="#999999" filter="url(#b2)"/>
<path d="M486.0 612.0C485.7 608.0 495.0 603.3 500.0 600.0C505.0 596.7 510.8 593.0 516.0 592.0C521.2 591.0 526.8 592.0 531.0 594.0C535.2 596.0 538.5 599.7 541.0 604.0C543.5 608.3 545.3 615.0 546.0 620.0C546.7 625.0 547.3 630.2 545.0 634.0C542.7 637.8 536.7 642.7 532.0 643.0C527.3 643.3 522.0 639.2 517.0 636.0C512.0 632.8 507.2 628.0 502.0 624.0C496.8 620.0 486.3 616.0 486.0 612.0Z" fill="#c7c7c7" filter="url(#b2)"/>
<path d="M508.0 612.0C509.3 608.3 517.3 604.7 522.0 604.0C526.7 603.3 532.5 605.0 536.0 608.0C539.5 611.0 542.7 617.3 543.0 622.0C543.3 626.7 540.8 633.7 538.0 636.0C535.2 638.3 530.0 637.7 526.0 636.0C522.0 634.3 517.0 630.0 514.0 626.0C511.0 622.0 506.7 615.7 508.0 612.0Z" fill="#d5d5d5" filter="url(#b2)"/>
<path d="M364.0 668.0C364.2 664.7 370.7 662.7 375.0 660.0C379.3 657.3 384.5 653.7 390.0 652.0C395.5 650.3 402.3 649.5 408.0 650.0C413.7 650.5 419.7 652.0 424.0 655.0C428.3 658.0 433.0 663.2 434.0 668.0C435.0 672.8 433.0 679.7 430.0 684.0C427.0 688.3 421.3 691.8 416.0 694.0C410.7 696.2 403.3 697.7 398.0 697.0C392.7 696.3 388.0 692.8 384.0 690.0C380.0 687.2 377.3 683.7 374.0 680.0C370.7 676.3 363.8 671.3 364.0 668.0Z" fill="#949494" filter="url(#b2)"/>
<path d="M382.0 676.0C381.8 671.7 387.7 665.3 392.0 662.0C396.3 658.7 403.0 656.0 408.0 656.0C413.0 656.0 418.5 659.0 422.0 662.0C425.5 665.0 428.7 670.0 429.0 674.0C429.3 678.0 427.5 683.0 424.0 686.0C420.5 689.0 413.2 691.7 408.0 692.0C402.8 692.3 397.3 690.7 393.0 688.0C388.7 685.3 382.2 680.3 382.0 676.0Z" fill="#c7c7c7" filter="url(#b2)"/>
<path d="M394.0 680.0C392.7 676.3 399.7 668.0 404.0 666.0C408.3 664.0 416.7 665.7 420.0 668.0C423.3 670.3 425.3 676.7 424.0 680.0C422.7 683.3 417.0 688.0 412.0 688.0C407.0 688.0 395.3 683.7 394.0 680.0Z" fill="#d5d5d5" filter="url(#b2)"/>
<path d="M341.1 145.7C341.4 146.7 341.3 148.0 340.9 149.1C340.5 150.2 339.7 151.4 338.6 152.4C337.6 153.4 336.2 154.3 334.8 154.9C333.3 155.6 331.6 156.0 330.0 156.2C328.5 156.4 326.8 156.3 325.4 155.9C324.0 155.6 322.7 155.0 321.8 154.2C320.8 153.4 320.2 152.4 319.9 151.3C319.6 150.3 319.7 149.0 320.1 147.9C320.5 146.8 321.3 145.6 322.4 144.6C323.4 143.6 324.8 142.7 326.2 142.1C327.7 141.4 329.4 141.0 331.0 140.8C332.5 140.6 334.2 140.7 335.6 141.1C337.0 141.4 338.3 142.0 339.2 142.8C340.2 143.6 340.8 144.6 341.1 145.7Z" fill="#9e9e9e" filter="url(#b15)"/>
<path d="M338.7 146.3C338.9 147.1 338.8 148.0 338.5 148.8C338.2 149.7 337.5 150.6 336.7 151.3C335.9 152.0 334.8 152.7 333.7 153.2C332.6 153.7 331.3 154.0 330.1 154.2C328.9 154.3 327.6 154.3 326.5 154.0C325.4 153.8 324.4 153.3 323.7 152.8C323.0 152.2 322.5 151.5 322.3 150.7C322.1 149.9 322.2 149.0 322.5 148.2C322.8 147.3 323.5 146.4 324.3 145.7C325.1 145.0 326.2 144.3 327.3 143.8C328.4 143.3 329.7 143.0 330.9 142.8C332.1 142.7 333.4 142.7 334.5 143.0C335.6 143.2 336.6 143.7 337.3 144.2C338.0 144.8 338.5 145.5 338.7 146.3Z" fill="#d5d5d5" filter="url(#b15)"/>
<path d="M423.5 209.2C423.9 210.0 423.7 211.1 423.2 212.3C422.6 213.4 421.4 214.8 420.0 216.0C418.6 217.3 416.7 218.7 414.7 219.8C412.7 220.9 410.4 222.0 408.2 222.8C406.1 223.6 403.8 224.2 401.9 224.5C400.1 224.7 398.3 224.7 397.0 224.5C395.8 224.2 394.9 223.5 394.5 222.8C394.1 222.0 394.3 220.9 394.8 219.7C395.4 218.6 396.6 217.2 398.0 216.0C399.4 214.7 401.3 213.3 403.3 212.2C405.3 211.1 407.6 210.0 409.8 209.2C411.9 208.4 414.2 207.8 416.1 207.5C417.9 207.3 419.7 207.3 421.0 207.5C422.2 207.8 423.1 208.5 423.5 209.2Z" fill="#8c8c8c" filter="url(#b2)"/>
<path d="M423.0 206.4C423.2 206.9 423.1 207.6 422.7 208.4C422.3 209.1 421.5 210.1 420.5 210.9C419.6 211.8 418.2 212.7 416.9 213.5C415.5 214.3 413.9 215.0 412.4 215.6C411.0 216.1 409.4 216.5 408.1 216.7C406.8 216.9 405.6 216.9 404.8 216.8C403.9 216.6 403.3 216.2 403.0 215.6C402.8 215.1 402.9 214.4 403.3 213.6C403.7 212.9 404.5 211.9 405.5 211.1C406.4 210.2 407.8 209.3 409.1 208.5C410.5 207.7 412.1 207.0 413.6 206.4C415.0 205.9 416.6 205.5 417.9 205.3C419.2 205.1 420.4 205.1 421.2 205.2C422.1 205.4 422.7 205.8 423.0 206.4Z" fill="#c2c2c2" filter="url(#b15)"/>
<path d="M327.0 246.5C327.0 246.9 326.9 247.4 326.7 247.8C326.4 248.2 326.1 248.6 325.7 248.8C325.3 249.1 324.8 249.3 324.3 249.4C323.8 249.5 323.2 249.5 322.7 249.4C322.2 249.3 321.7 249.1 321.3 248.8C320.9 248.6 320.6 248.2 320.3 247.8C320.1 247.4 320.0 246.9 320.0 246.5C320.0 246.1 320.1 245.6 320.3 245.2C320.6 244.8 320.9 244.4 321.3 244.2C321.7 243.9 322.2 243.7 322.7 243.6C323.2 243.5 323.8 243.5 324.3 243.6C324.8 243.7 325.3 243.9 325.7 244.2C326.1 244.4 326.4 244.8 326.7 245.2C326.9 245.6 327.0 246.1 327.0 246.5Z" fill="#b8b8b8" filter="url(#b1)"/>
<path d="M296.5 432.8C296.5 433.4 296.4 434.0 296.2 434.5C296.0 435.1 295.7 435.6 295.4 435.9C295.0 436.3 294.6 436.6 294.2 436.7C293.7 436.8 293.3 436.8 292.8 436.7C292.4 436.6 292.0 436.3 291.6 435.9C291.3 435.6 291.0 435.1 290.8 434.5C290.6 434.0 290.5 433.4 290.5 432.8C290.5 432.2 290.6 431.6 290.8 431.1C291.0 430.5 291.3 430.0 291.6 429.7C292.0 429.3 292.4 429.0 292.8 428.9C293.3 428.8 293.7 428.8 294.2 428.9C294.6 429.0 295.0 429.3 295.4 429.7C295.7 430.0 296.0 430.5 296.2 431.1C296.4 431.6 296.5 432.2 296.5 432.8Z" fill="#c7c7c7" filter="url(#b1)"/>
<path d="M260.0 523.0C260.0 523.6 259.9 524.2 259.7 524.7C259.4 525.3 259.1 525.8 258.7 526.1C258.3 526.5 257.8 526.8 257.3 526.9C256.8 527.0 256.2 527.0 255.7 526.9C255.2 526.8 254.7 526.5 254.3 526.1C253.9 525.8 253.6 525.3 253.3 524.7C253.1 524.2 253.0 523.6 253.0 523.0C253.0 522.4 253.1 521.8 253.3 521.3C253.6 520.7 253.9 520.2 254.3 519.9C254.7 519.5 255.2 519.2 255.7 519.1C256.2 519.0 256.8 519.0 257.3 519.1C257.8 519.2 258.3 519.5 258.7 519.9C259.1 520.2 259.4 520.7 259.7 521.3C259.9 521.8 260.0 522.4 260.0 523.0Z" fill="#cccccc" filter="url(#b1)"/>
<path d="M394.4 536.7C394.3 538.6 393.4 540.6 392.0 542.2C390.6 543.8 388.4 545.2 386.0 546.2C383.7 547.2 380.7 547.8 377.8 548.0C375.0 548.2 371.7 547.9 369.0 547.2C366.2 546.6 363.3 545.4 361.2 544.0C359.0 542.7 357.2 540.8 356.1 539.0C355.0 537.3 354.4 535.1 354.6 533.3C354.7 531.4 355.6 529.4 357.0 527.8C358.4 526.2 360.6 524.8 363.0 523.8C365.3 522.8 368.3 522.2 371.2 522.0C374.0 521.8 377.3 522.1 380.0 522.8C382.8 523.4 385.7 524.6 387.8 526.0C390.0 527.3 391.8 529.2 392.9 531.0C394.0 532.7 394.6 534.9 394.4 536.7Z" fill="#9e9e9e" filter="url(#b2)"/>
<path d="M389.4 537.3C389.3 538.6 388.7 540.0 387.6 541.1C386.6 542.2 385.0 543.2 383.2 543.8C381.4 544.5 379.2 544.9 377.1 545.0C374.9 545.1 372.5 544.9 370.4 544.5C368.3 544.0 366.2 543.2 364.6 542.2C363.0 541.2 361.5 540.0 360.7 538.7C359.9 537.5 359.4 536.0 359.6 534.7C359.7 533.4 360.3 532.0 361.4 530.9C362.4 529.8 364.0 528.8 365.8 528.2C367.6 527.5 369.8 527.1 371.9 527.0C374.1 526.9 376.5 527.1 378.6 527.5C380.7 528.0 382.8 528.8 384.4 529.8C386.0 530.8 387.5 532.0 388.3 533.3C389.1 534.5 389.6 536.0 389.4 537.3Z" fill="#d5d5d5" filter="url(#b2)"/>
<path d="M432.0 557.3C431.3 558.3 430.3 559.1 429.1 559.5C428.0 560.0 426.5 560.2 425.0 560.1C423.6 559.9 421.9 559.5 420.5 558.8C419.1 558.1 417.6 557.1 416.5 556.0C415.4 554.9 414.4 553.5 413.8 552.2C413.2 550.9 412.9 549.4 412.9 548.2C412.9 546.9 413.3 545.6 414.0 544.7C414.7 543.7 415.7 542.9 416.9 542.5C418.0 542.0 419.5 541.8 421.0 541.9C422.4 542.1 424.1 542.5 425.5 543.2C426.9 543.9 428.4 544.9 429.5 546.0C430.6 547.1 431.6 548.5 432.2 549.8C432.8 551.1 433.1 552.6 433.1 553.8C433.1 555.1 432.7 556.4 432.0 557.3Z" fill="#9e9e9e" filter="url(#b15)"/>
<path d="M429.7 556.0C429.3 556.6 428.7 557.1 427.9 557.4C427.2 557.7 426.2 557.8 425.3 557.7C424.4 557.6 423.4 557.3 422.5 556.9C421.6 556.5 420.6 555.8 419.9 555.1C419.2 554.4 418.6 553.5 418.2 552.7C417.8 551.9 417.6 550.9 417.6 550.2C417.6 549.4 417.9 548.6 418.3 548.0C418.7 547.4 419.3 546.9 420.1 546.6C420.8 546.3 421.8 546.2 422.7 546.3C423.6 546.4 424.6 546.7 425.5 547.1C426.4 547.5 427.4 548.2 428.1 548.9C428.8 549.6 429.4 550.5 429.8 551.3C430.2 552.1 430.4 553.1 430.4 553.8C430.4 554.6 430.1 555.4 429.7 556.0Z" fill="#d2d2d2" filter="url(#b15)"/>
<path d="M600.0 606.0C600.0 609.0 599.2 612.4 597.8 615.1C596.4 617.8 594.2 620.5 591.7 622.4C589.2 624.3 586.0 625.8 582.9 626.5C579.8 627.1 576.2 627.1 573.1 626.5C570.0 625.8 566.8 624.3 564.3 622.4C561.8 620.5 559.6 617.8 558.2 615.1C556.8 612.4 556.0 609.0 556.0 606.0C556.0 603.0 556.8 599.6 558.2 596.9C559.6 594.2 561.8 591.5 564.3 589.6C566.8 587.7 570.0 586.2 573.1 585.5C576.2 584.9 579.8 584.9 582.9 585.5C586.0 586.2 589.2 587.7 591.7 589.6C594.2 591.5 596.4 594.2 597.8 596.9C599.2 599.6 600.0 603.0 600.0 606.0Z" fill="#9e9e9e" filter="url(#b2)"/>
<path d="M594.5 606.0C594.5 608.2 593.9 610.7 592.9 612.7C591.9 614.7 590.3 616.7 588.5 618.1C586.7 619.5 584.3 620.6 582.1 621.1C579.8 621.6 577.2 621.6 574.9 621.1C572.7 620.6 570.3 619.5 568.5 618.1C566.7 616.7 565.1 614.7 564.1 612.7C563.1 610.7 562.5 608.2 562.5 606.0C562.5 603.8 563.1 601.3 564.1 599.3C565.1 597.3 566.7 595.3 568.5 593.9C570.3 592.5 572.7 591.4 574.9 590.9C577.2 590.4 579.8 590.4 582.1 590.9C584.3 591.4 586.7 592.5 588.5 593.9C590.3 595.3 591.9 597.3 592.9 599.3C593.9 601.3 594.5 603.8 594.5 606.0Z" fill="#d5d5d5" filter="url(#b25)"/>
<path d="M609.0 550.0C609.6 551.0 609.9 552.3 609.8 553.6C609.7 554.8 609.3 556.2 608.6 557.5C607.9 558.7 606.7 560.0 605.5 561.0C604.3 562.0 602.8 562.9 601.3 563.5C599.8 564.0 598.1 564.3 596.7 564.3C595.2 564.3 593.8 564.0 592.7 563.5C591.5 562.9 590.6 562.0 590.0 561.0C589.4 560.0 589.1 558.7 589.2 557.4C589.3 556.2 589.7 554.8 590.4 553.5C591.1 552.3 592.3 551.0 593.5 550.0C594.7 549.0 596.2 548.1 597.7 547.5C599.2 547.0 600.9 546.7 602.3 546.7C603.8 546.7 605.2 547.0 606.3 547.5C607.5 548.1 608.4 549.0 609.0 550.0Z" fill="#a8a8a8" filter="url(#b15)"/>
<path d="M599.5 576.0C599.5 576.5 599.3 577.1 599.1 577.5C598.8 578.0 598.3 578.4 597.8 578.7C597.3 579.1 596.6 579.3 596.0 579.4C595.4 579.5 594.6 579.5 594.0 579.4C593.4 579.3 592.7 579.1 592.2 578.7C591.7 578.4 591.2 578.0 590.9 577.5C590.7 577.1 590.5 576.5 590.5 576.0C590.5 575.5 590.7 574.9 590.9 574.5C591.2 574.0 591.7 573.6 592.2 573.3C592.7 572.9 593.4 572.7 594.0 572.6C594.6 572.5 595.4 572.5 596.0 572.6C596.6 572.7 597.3 572.9 597.8 573.3C598.3 573.6 598.8 574.0 599.1 574.5C599.3 574.9 599.5 575.5 599.5 576.0Z" fill="#9e9e9e" filter="url(#b1)"/>
<path d="M447.0 632.0C448.2 629.5 453.2 627.7 456.0 630.0C458.8 632.3 461.7 640.7 464.0 646.0C466.3 651.3 468.0 657.0 470.0 662.0C472.0 667.0 476.0 672.5 476.0 676.0C476.0 679.5 472.3 683.0 470.0 683.0C467.7 683.0 464.5 679.8 462.0 676.0C459.5 672.2 457.2 665.2 455.0 660.0C452.8 654.8 450.3 649.7 449.0 645.0C447.7 640.3 445.8 634.5 447.0 632.0Z" fill="#999999" filter="url(#b2)"/>
<path d="M462.0 660.0C463.3 659.7 468.2 665.0 470.0 668.0C471.8 671.0 473.5 676.3 473.0 678.0C472.5 679.7 468.8 679.3 467.0 678.0C465.2 676.7 462.8 673.0 462.0 670.0C461.2 667.0 460.7 660.3 462.0 660.0Z" fill="#c7c7c7" filter="url(#b2)"/>
<path d="M440.9 698.9C441.0 699.7 440.8 700.6 440.4 701.4C440.0 702.2 439.2 703.1 438.3 703.8C437.4 704.4 436.1 705.0 434.9 705.4C433.7 705.8 432.2 706.1 431.0 706.1C429.7 706.2 428.3 706.0 427.2 705.7C426.1 705.4 425.1 704.9 424.4 704.3C423.7 703.7 423.3 702.8 423.1 702.1C423.0 701.3 423.2 700.4 423.6 699.6C424.0 698.8 424.8 697.9 425.7 697.2C426.6 696.6 427.9 696.0 429.1 695.6C430.3 695.2 431.8 694.9 433.0 694.9C434.3 694.8 435.7 695.0 436.8 695.3C437.9 695.6 438.9 696.1 439.6 696.7C440.3 697.3 440.7 698.2 440.9 698.9Z" fill="#a8a8a8" filter="url(#b15)"/>
<path d="M405.8 707.1C406.1 707.3 406.2 707.8 406.0 708.5C405.9 709.1 405.6 710.0 405.1 711.0C404.6 711.9 403.9 713.0 403.2 714.0C402.4 715.1 401.5 716.2 400.6 717.1C399.7 718.0 398.7 718.9 397.9 719.6C397.1 720.2 396.2 720.7 395.6 720.9C395.0 721.1 394.5 721.1 394.2 720.9C393.9 720.7 393.8 720.2 394.0 719.5C394.1 718.9 394.4 718.0 394.9 717.0C395.4 716.1 396.1 715.0 396.8 714.0C397.6 712.9 398.5 711.8 399.4 710.9C400.3 710.0 401.3 709.1 402.1 708.4C402.9 707.8 403.8 707.3 404.4 707.1C405.0 706.9 405.5 706.9 405.8 707.1Z" fill="#8f8f8f" filter="url(#b1)"/>
<path d="M388.9 713.0C388.9 713.4 388.8 713.9 388.7 714.3C388.5 714.7 388.2 715.1 388.0 715.3C387.7 715.6 387.3 715.8 387.0 715.9C386.6 716.0 386.2 716.0 385.8 715.9C385.5 715.8 385.1 715.6 384.8 715.3C384.6 715.1 384.3 714.7 384.1 714.3C384.0 713.9 383.9 713.4 383.9 713.0C383.9 712.6 384.0 712.1 384.1 711.7C384.3 711.3 384.6 710.9 384.8 710.7C385.1 710.4 385.5 710.2 385.8 710.1C386.2 710.0 386.6 710.0 387.0 710.1C387.3 710.2 387.7 710.4 388.0 710.7C388.2 710.9 388.5 711.3 388.7 711.7C388.8 712.1 388.9 712.6 388.9 713.0Z" fill="#b2b2b2" filter="url(#b08)"/>
<path d="M532.0 679.5C532.0 680.2 531.8 681.0 531.6 681.7C531.3 682.3 530.8 683.0 530.3 683.4C529.8 683.9 529.1 684.2 528.5 684.4C527.9 684.5 527.1 684.5 526.5 684.4C525.9 684.2 525.2 683.9 524.7 683.4C524.2 683.0 523.7 682.3 523.4 681.7C523.2 681.0 523.0 680.2 523.0 679.5C523.0 678.8 523.2 678.0 523.4 677.3C523.7 676.7 524.2 676.0 524.7 675.6C525.2 675.1 525.9 674.8 526.5 674.6C527.1 674.5 527.9 674.5 528.5 674.6C529.1 674.8 529.8 675.1 530.3 675.6C530.8 676.0 531.3 676.7 531.6 677.3C531.8 678.0 532.0 678.8 532.0 679.5Z" fill="#9e9e9e" filter="url(#b1)"/>
<path d="M340.0 728.0C343.0 726.7 347.2 727.2 350.0 730.0C352.8 732.8 356.0 739.2 357.0 745.0C358.0 750.8 357.3 759.5 356.0 765.0C354.7 770.5 351.7 777.2 349.0 778.0C346.3 778.8 342.2 774.7 340.0 770.0C337.8 765.3 337.3 755.3 336.0 750.0C334.7 744.7 331.3 741.7 332.0 738.0C332.7 734.3 337.0 729.3 340.0 728.0Z" fill="#6b6b6b" filter="url(#b3)"/>
<path d="M350.5 729.4C350.3 730.6 350.0 731.8 349.6 732.8C349.3 733.8 348.9 734.8 348.4 735.4C348.0 736.1 347.6 736.6 347.2 736.8C346.8 737.0 346.4 736.9 346.1 736.6C345.8 736.3 345.5 735.6 345.4 734.9C345.2 734.1 345.2 733.1 345.2 732.0C345.2 731.0 345.3 729.7 345.5 728.6C345.7 727.4 346.0 726.2 346.4 725.2C346.7 724.2 347.1 723.2 347.6 722.6C348.0 721.9 348.4 721.4 348.8 721.2C349.2 721.0 349.6 721.1 349.9 721.4C350.2 721.7 350.5 722.4 350.6 723.1C350.8 723.9 350.8 724.9 350.8 726.0C350.8 727.0 350.7 728.3 350.5 729.4Z" fill="#999999" filter="url(#b1)"/>
<path d="M774.4 807.3C774.2 808.4 773.8 809.6 773.4 810.6C772.9 811.6 772.3 812.5 771.7 813.1C771.1 813.8 770.3 814.2 769.6 814.4C769.0 814.5 768.2 814.4 767.7 814.0C767.1 813.6 766.5 813.0 766.2 812.2C765.8 811.4 765.5 810.3 765.4 809.2C765.3 808.1 765.4 806.9 765.6 805.7C765.8 804.6 766.2 803.4 766.6 802.4C767.1 801.4 767.7 800.5 768.3 799.9C768.9 799.2 769.7 798.8 770.4 798.6C771.0 798.5 771.8 798.6 772.3 799.0C772.9 799.4 773.5 800.0 773.8 800.8C774.2 801.6 774.5 802.7 774.6 803.8C774.7 804.9 774.6 806.1 774.4 807.3Z" fill="#a8a8a8" filter="url(#b15)"/>
<path d="M798.0 829.0C793.7 826.7 803.2 821.5 806.0 818.0C808.8 814.5 812.3 811.8 815.0 808.0C817.7 804.2 819.8 798.3 822.0 795.0C824.2 791.7 826.3 787.2 828.0 788.0C829.7 788.8 831.3 792.7 832.0 800.0C832.7 807.3 837.7 827.2 832.0 832.0C826.3 836.8 802.3 831.3 798.0 829.0Z" fill="#9e9e9e" filter="url(#b25)"/>
</g>
<g id="cloudsR">
<path d="M405.0 325.0C392.5 332.0 384.2 354.5 375.0 372.0C365.8 389.5 355.0 410.3 350.0 430.0C345.0 449.7 342.5 472.0 345.0 490.0C347.5 508.0 355.8 525.0 365.0 538.0C374.2 551.0 386.7 561.0 400.0 568.0C413.3 575.0 433.3 581.3 445.0 580.0C456.7 578.7 469.2 601.7 470.0 560.0C470.8 518.3 460.8 369.2 450.0 330.0C439.2 290.8 417.5 318.0 405.0 325.0Z" fill="#585858" filter="url(#b10)"/>
<path d="M470.0 305.0C412.5 294.2 485.0 259.2 500.0 240.0C515.0 220.8 536.7 205.0 560.0 190.0C583.3 175.0 610.0 159.2 640.0 150.0C670.0 140.8 705.8 139.2 740.0 135.0C774.2 130.8 827.5 96.7 845.0 125.0C862.5 153.3 907.5 275.0 845.0 305.0C782.5 335.0 527.5 315.8 470.0 305.0Z" fill="#616161" filter="url(#b14)"/>
<path d="M732.0 565.0C734.2 554.0 748.3 534.5 758.0 522.0C767.7 509.5 776.3 497.8 790.0 490.0C803.7 482.2 831.7 452.0 840.0 475.0C848.3 498.0 846.7 604.8 840.0 628.0C833.3 651.2 811.7 618.7 800.0 614.0C788.3 609.3 779.2 604.3 770.0 600.0C760.8 595.7 751.3 593.8 745.0 588.0C738.7 582.2 729.8 576.0 732.0 565.0Z" fill="#a3a3a3" filter="url(#b6)"/>
<path d="M776.0 420.0C787.3 412.3 829.3 402.7 840.0 416.0C850.7 429.3 848.0 487.0 840.0 500.0C832.0 513.0 803.3 500.3 792.0 494.0C780.7 487.7 774.7 474.3 772.0 462.0C769.3 449.7 764.7 427.7 776.0 420.0Z" fill="#999999" filter="url(#b6)"/>
<path d="M534.0 280.0C535.0 275.2 534.5 274.2 540.0 271.0C545.5 267.8 560.3 265.0 567.0 261.0C573.7 257.0 580.8 249.7 580.0 247.0C579.2 244.3 568.0 246.8 562.0 245.0C556.0 243.2 542.5 238.2 544.0 236.0C545.5 233.8 563.2 233.3 571.0 232.0C578.8 230.7 585.8 233.5 591.0 228.0C596.2 222.5 595.8 204.8 602.0 199.0C608.2 193.2 621.2 198.8 628.0 193.0C634.8 187.2 638.7 167.3 643.0 164.0C647.3 160.7 646.2 170.8 654.0 173.0C661.8 175.2 680.8 176.0 690.0 177.0C699.2 178.0 704.3 176.0 709.0 179.0C713.7 182.0 713.5 195.3 718.0 195.0C722.5 194.7 729.8 182.2 736.0 177.0C742.2 171.8 750.3 164.7 755.0 164.0C759.7 163.3 765.7 168.3 764.0 173.0C762.3 177.7 754.2 185.8 745.0 192.0C735.8 198.2 716.5 204.0 709.0 210.0C701.5 216.0 697.0 223.2 700.0 228.0C703.0 232.8 716.3 237.7 727.0 239.0C737.7 240.3 751.8 237.2 764.0 236.0C776.2 234.8 788.2 237.5 800.0 232.0C811.8 226.5 829.2 198.3 835.0 203.0C840.8 207.7 840.8 250.2 835.0 260.0C829.2 269.8 812.5 260.0 800.0 262.0C787.5 264.0 773.3 269.3 760.0 272.0C746.7 274.7 733.3 276.3 720.0 278.0C706.7 279.7 693.3 280.3 680.0 282.0C666.7 283.7 653.5 285.3 640.0 288.0C626.5 290.7 611.8 294.7 599.0 298.0C586.2 301.3 573.8 307.7 563.0 308.0C552.2 308.3 538.8 304.7 534.0 300.0C529.2 295.3 533.0 284.8 534.0 280.0Z" fill="#8f8f8f" filter="url(#b4)"/>
<path d="M363.0 480.0C361.2 473.7 360.8 460.7 361.0 454.0C361.2 447.3 361.8 443.2 364.0 440.0C366.2 436.8 369.8 434.7 374.0 435.0C378.2 435.3 384.2 440.2 389.0 442.0C393.8 443.8 399.2 446.2 403.0 446.0C406.8 445.8 411.0 444.5 412.0 441.0C413.0 437.5 409.7 429.7 409.0 425.0C408.3 420.3 407.0 416.7 408.0 413.0C409.0 409.3 412.8 406.8 415.0 403.0C417.2 399.2 419.0 393.8 421.0 390.0C423.0 386.2 424.2 383.3 427.0 380.0C429.8 376.7 434.7 374.2 438.0 370.0C441.3 365.8 443.7 359.2 447.0 355.0C450.3 350.8 455.0 347.5 458.0 345.0C461.0 342.5 464.5 342.2 465.0 340.0C465.5 337.8 462.7 334.0 461.0 332.0C459.3 330.0 457.8 330.2 455.0 328.0C452.2 325.8 446.2 322.3 444.0 319.0C441.8 315.7 440.7 310.0 442.0 308.0C443.3 306.0 449.2 308.8 452.0 307.0C454.8 305.2 458.0 300.0 459.0 297.0C460.0 294.0 457.0 290.8 458.0 289.0C459.0 287.2 463.2 285.2 465.0 286.0C466.8 286.8 466.0 293.5 469.0 294.0C472.0 294.5 477.5 290.7 483.0 289.0C488.5 287.3 495.5 284.2 502.0 284.0C508.5 283.8 516.7 287.8 522.0 288.0C527.3 288.2 527.2 284.3 534.0 285.0C540.8 285.7 552.2 292.8 563.0 292.0C573.8 291.2 586.2 283.7 599.0 280.0C611.8 276.3 626.5 272.8 640.0 270.0C653.5 267.2 666.7 264.8 680.0 263.0C693.3 261.2 706.7 260.7 720.0 259.0C733.3 257.3 746.7 256.0 760.0 253.0C773.3 250.0 787.5 244.7 800.0 241.0C812.5 237.3 829.2 200.3 835.0 231.0C840.8 261.7 841.7 391.8 835.0 425.0C828.3 458.2 804.2 426.7 795.0 430.0C785.8 433.3 781.7 438.3 780.0 445.0C778.3 451.7 781.7 463.8 785.0 470.0C788.3 476.2 800.5 477.0 800.0 482.0C799.5 487.0 788.0 490.8 782.0 500.0C776.0 509.2 771.7 524.8 764.0 537.0C756.3 549.2 745.2 563.8 736.0 573.0C726.8 582.2 719.7 590.3 709.0 592.0C698.3 593.7 682.8 586.2 672.0 583.0C661.2 579.8 652.0 576.7 644.0 573.0C636.0 569.3 629.2 567.0 624.0 561.0C618.8 555.0 619.3 540.5 613.0 537.0C606.7 533.5 592.3 539.0 586.0 540.0C579.7 541.0 579.0 540.8 575.0 543.0C571.0 545.2 568.5 551.5 562.0 553.0C555.5 554.5 541.2 551.0 536.0 552.0C530.8 553.0 536.0 556.7 531.0 559.0C526.0 561.3 514.7 564.5 506.0 566.0C497.3 567.5 486.2 568.2 479.0 568.0C471.8 567.8 468.0 566.8 463.0 565.0C458.0 563.2 453.5 560.5 449.0 557.0C444.5 553.5 440.8 549.3 436.0 544.0C431.2 538.7 425.3 530.5 420.0 525.0C414.7 519.5 409.3 515.2 404.0 511.0C398.7 506.8 393.3 503.2 388.0 500.0C382.7 496.8 376.2 495.3 372.0 492.0C367.8 488.7 364.8 486.3 363.0 480.0Z" fill="#a4a4a4" filter="url(#b4)"/>
<path d="M374.0 480.0C370.7 474.7 369.7 465.8 371.0 461.0C372.3 456.2 376.7 452.2 382.0 451.0C387.3 449.8 396.7 455.2 403.0 454.0C409.3 452.8 417.5 448.8 420.0 444.0C422.5 439.2 416.8 431.8 418.0 425.0C419.2 418.2 424.7 409.3 427.0 403.0C429.3 396.7 428.7 392.0 432.0 387.0C435.3 382.0 442.2 377.8 447.0 373.0C451.8 368.2 456.2 362.8 461.0 358.0C465.8 353.2 472.2 347.8 476.0 344.0C479.8 340.2 484.0 338.0 484.0 335.0C484.0 332.0 479.3 328.0 476.0 326.0C472.7 324.0 466.7 325.2 464.0 323.0C461.3 320.8 459.2 316.5 460.0 313.0C460.8 309.5 465.2 304.3 469.0 302.0C472.8 299.7 479.5 297.8 483.0 299.0C486.5 300.2 486.3 306.2 490.0 309.0C493.7 311.8 497.7 316.0 505.0 316.0C512.3 316.0 524.3 311.3 534.0 309.0C543.7 306.7 552.2 305.2 563.0 302.0C573.8 298.8 586.2 293.5 599.0 290.0C611.8 286.5 626.5 283.7 640.0 281.0C653.5 278.3 666.7 275.8 680.0 274.0C693.3 272.2 706.7 271.7 720.0 270.0C733.3 268.3 746.7 267.0 760.0 264.0C773.3 261.0 787.5 255.7 800.0 252.0C812.5 248.3 829.2 219.0 835.0 242.0C840.8 265.0 842.5 360.7 835.0 390.0C827.5 419.3 799.2 408.8 790.0 418.0C780.8 427.2 782.5 434.3 780.0 445.0C777.5 455.7 778.0 469.8 775.0 482.0C772.0 494.2 768.7 507.0 762.0 518.0C755.3 529.0 746.2 540.2 735.0 548.0C723.8 555.8 708.5 561.7 695.0 565.0C681.5 568.3 665.7 568.8 654.0 568.0C642.3 567.2 633.2 564.3 625.0 560.0C616.8 555.7 610.8 546.0 605.0 542.0C599.2 538.0 595.5 535.3 590.0 536.0C584.5 536.7 578.7 543.2 572.0 546.0C565.3 548.8 557.5 551.0 550.0 553.0C542.5 555.0 534.3 556.3 527.0 558.0C519.7 559.7 514.0 561.7 506.0 563.0C498.0 564.3 486.3 566.5 479.0 566.0C471.7 565.5 467.5 562.7 462.0 560.0C456.5 557.3 450.5 554.0 446.0 550.0C441.5 546.0 438.8 541.3 435.0 536.0C431.2 530.7 427.2 523.3 423.0 518.0C418.8 512.7 415.3 508.2 410.0 504.0C404.7 499.8 397.0 497.0 391.0 493.0C385.0 489.0 377.3 485.3 374.0 480.0Z" fill="#c3c3c3" filter="url(#b8)"/>
<path d="M700.0 442.0C706.5 445.0 722.5 437.0 732.0 432.0C741.5 427.0 750.7 419.8 757.0 412.0C763.3 404.2 768.5 395.3 770.0 385.0C771.5 374.7 770.2 358.7 766.0 350.0C761.8 341.3 751.0 335.6 745.0 333.0C739.0 330.4 736.2 336.0 730.2 334.3C724.2 332.6 717.9 326.5 708.9 322.8C699.9 319.1 688.1 314.6 676.1 312.2C664.1 309.8 660.9 308.6 637.0 308.1C613.1 307.6 554.8 307.6 532.7 309.0C510.6 310.4 512.6 312.5 504.3 316.7C496.0 320.9 489.8 326.7 482.8 334.1C475.8 341.5 467.2 353.8 462.4 360.9C457.6 368.0 457.1 368.8 453.9 376.9C450.7 385.0 446.7 398.4 443.4 409.3C440.1 420.2 436.3 431.2 434.2 442.2C432.1 453.1 431.0 464.2 431.0 475.0C431.0 485.8 432.4 497.1 434.0 507.0C435.6 516.9 437.5 525.9 440.5 534.1C443.5 542.3 447.2 550.3 452.1 556.2C457.0 562.1 462.3 567.1 469.9 569.6C477.4 572.1 488.4 572.7 497.4 571.4C506.4 570.1 516.0 566.4 524.0 561.7C532.0 557.0 539.5 552.4 545.7 543.3C552.0 534.2 558.5 517.2 561.5 507.2C564.5 497.2 545.5 495.8 563.6 483.1C581.8 470.4 648.8 442.6 670.4 431.0C692.0 419.4 688.4 412.0 693.3 413.8C698.2 415.6 693.5 439.0 700.0 442.0Z" fill="#d1d1d1" filter="url(#b10)"/>
<path d="M686.0 522.0C686.0 526.6 685.1 531.7 683.4 535.9C681.8 540.1 679.2 544.1 676.2 547.0C673.3 549.9 669.5 552.2 665.8 553.2C662.1 554.2 657.9 554.2 654.2 553.2C650.5 552.2 646.7 549.9 643.8 547.0C640.8 544.1 638.2 540.1 636.6 535.9C634.9 531.7 634.0 526.6 634.0 522.0C634.0 517.4 634.9 512.3 636.6 508.1C638.2 503.9 640.8 499.9 643.8 497.0C646.7 494.1 650.5 491.8 654.2 490.8C657.9 489.8 662.1 489.8 665.8 490.8C669.5 491.8 673.3 494.1 676.2 497.0C679.2 499.9 681.8 503.9 683.4 508.1C685.1 512.3 686.0 517.4 686.0 522.0Z" fill="#d5d5d5" filter="url(#b5)"/>
<path d="M821.7 301.9C821.4 304.9 819.0 308.0 815.2 310.3C811.4 312.7 805.5 314.8 799.0 316.0C792.5 317.2 784.2 317.8 776.3 317.7C768.3 317.5 759.2 316.6 751.5 315.1C743.7 313.6 735.7 311.2 729.6 308.7C723.5 306.1 718.1 302.9 714.9 299.8C711.7 296.7 710.0 293.2 710.3 290.1C710.6 287.1 713.0 284.0 716.8 281.7C720.6 279.3 726.5 277.2 733.0 276.0C739.5 274.8 747.8 274.2 755.7 274.3C763.7 274.5 772.8 275.4 780.5 276.9C788.3 278.4 796.3 280.8 802.4 283.3C808.5 285.9 813.9 289.1 817.1 292.2C820.3 295.3 822.0 298.8 821.7 301.9Z" fill="#d9d9d9" filter="url(#b5)"/>
<path d="M829.7 248.1C830.0 250.0 829.3 252.2 827.8 254.1C826.3 256.0 823.7 258.0 820.7 259.6C817.7 261.2 813.8 262.7 809.9 263.7C806.1 264.6 801.6 265.3 797.6 265.4C793.6 265.6 789.4 265.2 786.1 264.5C782.8 263.8 779.8 262.5 777.8 261.1C775.8 259.7 774.5 257.8 774.3 255.9C774.0 254.0 774.7 251.8 776.2 249.9C777.7 248.0 780.3 246.0 783.3 244.4C786.3 242.8 790.2 241.3 794.1 240.3C797.9 239.4 802.4 238.7 806.4 238.6C810.4 238.4 814.6 238.8 817.9 239.5C821.2 240.2 824.2 241.5 826.2 242.9C828.2 244.3 829.5 246.2 829.7 248.1Z" fill="#d5d5d5" filter="url(#b5)"/>
<path d="M565.7 279.8C565.7 281.6 565.3 283.6 564.5 285.2C563.8 286.9 562.5 288.4 561.2 289.6C559.8 290.7 558.1 291.6 556.4 292.0C554.7 292.4 552.7 292.4 551.0 292.0C549.3 291.6 547.6 290.7 546.2 289.6C544.9 288.4 543.6 286.9 542.9 285.2C542.1 283.6 541.7 281.6 541.7 279.8C541.7 278.0 542.1 276.0 542.9 274.4C543.6 272.7 544.9 271.2 546.2 270.0C547.6 268.9 549.3 268.0 551.0 267.6C552.7 267.2 554.7 267.2 556.4 267.6C558.1 268.0 559.8 268.9 561.2 270.0C562.5 271.2 563.8 272.7 564.5 274.4C565.3 276.0 565.7 278.0 565.7 279.8Z" fill="#dcdcdc" filter="url(#b5)"/>
<path d="M830.0 317.0C830.0 318.0 829.6 319.1 829.0 320.0C828.4 320.9 827.4 321.8 826.2 322.5C825.1 323.1 823.6 323.6 822.2 323.8C820.8 324.0 819.2 324.0 817.8 323.8C816.4 323.6 814.9 323.1 813.8 322.5C812.6 321.8 811.6 320.9 811.0 320.0C810.4 319.1 810.0 318.0 810.0 317.0C810.0 316.0 810.4 314.9 811.0 314.0C811.6 313.1 812.6 312.2 813.8 311.5C814.9 310.9 816.4 310.4 817.8 310.2C819.2 310.0 820.8 310.0 822.2 310.2C823.6 310.4 825.1 310.9 826.2 311.5C827.4 312.2 828.4 313.1 829.0 314.0C829.6 314.9 830.0 316.0 830.0 317.0Z" fill="#d5d5d5" filter="url(#b5)"/>
<path d="M626.0 203.0C626.0 204.2 625.6 205.4 625.0 206.5C624.4 207.5 623.4 208.5 622.2 209.3C621.1 210.0 619.6 210.5 618.2 210.8C616.8 211.1 615.2 211.1 613.8 210.8C612.4 210.5 610.9 210.0 609.8 209.3C608.6 208.5 607.6 207.5 607.0 206.5C606.4 205.4 606.0 204.2 606.0 203.0C606.0 201.8 606.4 200.6 607.0 199.5C607.6 198.5 608.6 197.5 609.8 196.7C610.9 196.0 612.4 195.5 613.8 195.2C615.2 194.9 616.8 194.9 618.2 195.2C619.6 195.5 621.1 196.0 622.2 196.7C623.4 197.5 624.4 198.5 625.0 199.5C625.6 200.6 626.0 201.8 626.0 203.0Z" fill="#bdbdbd" filter="url(#b5)"/>
<path d="M618.6 234.6C618.9 235.8 618.7 237.1 618.2 238.3C617.7 239.5 616.7 240.9 615.4 241.9C614.2 243.0 612.5 244.1 610.8 244.8C609.1 245.5 607.1 246.1 605.2 246.3C603.4 246.5 601.4 246.5 599.8 246.1C598.2 245.8 596.6 245.2 595.6 244.4C594.5 243.6 593.7 242.5 593.4 241.4C593.1 240.2 593.3 238.9 593.8 237.7C594.3 236.5 595.3 235.1 596.6 234.1C597.8 233.0 599.5 231.9 601.2 231.2C602.9 230.5 604.9 229.9 606.8 229.7C608.6 229.5 610.6 229.5 612.2 229.9C613.8 230.2 615.4 230.8 616.4 231.6C617.5 232.4 618.3 233.5 618.6 234.6Z" fill="#bdbdbd" filter="url(#b5)"/>
<path d="M563.0 238.0C563.0 238.7 562.7 239.5 562.3 240.2C561.9 240.8 561.2 241.5 560.4 241.9C559.6 242.4 558.5 242.7 557.6 242.9C556.6 243.0 555.4 243.0 554.4 242.9C553.5 242.7 552.4 242.4 551.6 241.9C550.8 241.5 550.1 240.8 549.7 240.2C549.3 239.5 549.0 238.7 549.0 238.0C549.0 237.3 549.3 236.5 549.7 235.8C550.1 235.2 550.8 234.5 551.6 234.1C552.4 233.6 553.5 233.3 554.4 233.1C555.4 233.0 556.6 233.0 557.6 233.1C558.5 233.3 559.6 233.6 560.4 234.1C561.2 234.5 561.9 235.2 562.3 235.8C562.7 236.5 563.0 237.3 563.0 238.0Z" fill="#b8b8b8" filter="url(#b5)"/>
<path d="M758.5 167.2C758.8 167.8 758.6 168.7 757.9 169.7C757.2 170.6 756.0 171.8 754.5 173.0C753.1 174.1 751.1 175.4 749.1 176.5C747.1 177.6 744.7 178.7 742.6 179.5C740.5 180.3 738.3 181.0 736.4 181.4C734.6 181.8 732.9 182.0 731.8 181.9C730.6 181.8 729.8 181.4 729.5 180.8C729.2 180.2 729.4 179.3 730.1 178.3C730.8 177.4 732.0 176.2 733.5 175.0C734.9 173.9 736.9 172.6 738.9 171.5C740.9 170.4 743.3 169.3 745.4 168.5C747.5 167.7 749.7 167.0 751.6 166.6C753.4 166.2 755.1 166.0 756.2 166.1C757.4 166.2 758.2 166.6 758.5 167.2Z" fill="#bdbdbd" filter="url(#b5)"/>
<path d="M717.2 227.3C717.7 228.5 717.4 230.3 716.1 232.1C714.9 234.0 712.7 236.3 709.9 238.5C707.2 240.6 703.5 243.1 699.8 245.1C696.0 247.2 691.6 249.2 687.7 250.8C683.7 252.3 679.4 253.6 676.0 254.3C672.6 255.0 669.4 255.2 667.2 255.0C665.0 254.7 663.4 253.9 662.8 252.7C662.3 251.5 662.6 249.7 663.9 247.9C665.1 246.0 667.3 243.7 670.1 241.5C672.8 239.4 676.5 236.9 680.2 234.9C684.0 232.8 688.4 230.8 692.3 229.2C696.3 227.7 700.6 226.4 704.0 225.7C707.4 225.0 710.6 224.8 712.8 225.0C715.0 225.3 716.6 226.1 717.2 227.3Z" fill="#bdbdbd" filter="url(#b5)"/>
<path d="M672.5 245.0C673.1 246.0 672.9 247.6 672.0 249.3C671.1 251.0 669.4 253.2 667.2 255.3C665.0 257.4 662.0 259.8 658.9 261.9C655.9 263.9 652.2 266.0 648.9 267.6C645.6 269.3 642.0 270.7 639.1 271.5C636.2 272.4 633.4 272.8 631.4 272.7C629.5 272.6 628.1 272.0 627.5 271.0C626.9 270.0 627.1 268.4 628.0 266.7C628.9 265.0 630.6 262.8 632.8 260.7C635.0 258.6 638.0 256.2 641.1 254.1C644.1 252.1 647.8 250.0 651.1 248.4C654.4 246.7 658.0 245.3 660.9 244.5C663.8 243.6 666.6 243.2 668.6 243.3C670.5 243.4 671.9 244.0 672.5 245.0Z" fill="#bdbdbd" filter="url(#b5)"/>
<path d="M807.2 212.3C807.6 213.2 807.1 214.7 805.8 216.3C804.5 218.0 802.1 220.0 799.3 222.1C796.5 224.1 792.7 226.4 788.9 228.4C785.2 230.4 780.8 232.4 776.8 234.0C772.9 235.6 768.7 237.0 765.4 237.9C762.0 238.7 758.9 239.2 756.8 239.2C754.7 239.1 753.2 238.6 752.8 237.7C752.4 236.8 752.9 235.3 754.2 233.7C755.5 232.0 757.9 230.0 760.7 227.9C763.5 225.9 767.3 223.6 771.1 221.6C774.8 219.6 779.2 217.6 783.2 216.0C787.1 214.4 791.3 213.0 794.6 212.1C798.0 211.3 801.1 210.8 803.2 210.8C805.3 210.9 806.8 211.4 807.2 212.3Z" fill="#b8b8b8" filter="url(#b5)"/>
<path d="M540.8 539.8C545.9 532.6 550.0 521.3 551.9 512.9C553.8 504.5 550.7 495.2 552.0 489.4C553.3 483.6 540.3 488.8 559.6 478.2C578.9 467.6 645.4 437.6 667.7 425.6C690.0 413.6 684.6 414.5 693.4 406.2C702.2 397.9 715.2 385.3 720.6 375.8C726.0 366.3 728.8 355.8 725.8 349.2C722.8 342.6 711.8 340.1 702.6 336.3C693.4 332.5 689.2 328.7 670.8 326.1C652.4 323.6 615.9 321.5 592.1 321.0C568.3 320.5 542.9 321.5 527.9 323.1C512.9 324.7 509.6 326.6 502.1 330.5C494.6 334.4 490.2 338.1 483.1 346.2C476.0 354.3 466.6 363.2 459.4 379.4C452.2 395.6 443.8 427.3 440.1 443.3C436.4 459.3 436.0 460.6 437.0 475.4C438.0 490.2 442.9 519.4 446.2 532.3C449.5 545.1 452.5 547.2 456.9 552.5C461.3 557.8 466.5 562.0 472.6 564.2C478.8 566.5 485.7 567.3 493.8 566.0C501.9 564.7 513.5 560.7 521.3 556.3C529.1 551.9 535.7 547.0 540.8 539.8Z" fill="#dbdbdb" filter="url(#b8)"/>
<path d="M465.7 382.4C459.5 396.8 450.6 429.2 447.0 444.6C443.4 460.0 443.0 460.8 444.0 475.0C445.0 489.2 449.8 517.7 452.8 529.9C455.9 542.1 458.4 543.3 462.3 548.0C466.2 552.7 470.9 556.3 476.1 558.1C481.3 559.9 486.7 560.3 493.6 559.0C500.5 557.7 510.5 554.4 517.5 550.4C524.5 546.4 531.5 540.5 535.4 535.2C539.3 529.9 540.0 525.5 541.0 518.5C542.0 511.5 538.8 500.7 541.1 493.1C543.5 485.5 534.6 485.0 555.1 472.7C575.6 460.4 642.1 431.4 664.4 419.4C686.7 407.4 681.4 407.4 689.0 400.7C696.6 394.0 705.9 386.1 710.3 379.4C714.7 372.7 717.9 365.4 715.5 360.5C713.1 355.6 704.1 353.2 695.8 349.8C687.4 346.4 683.4 342.5 665.4 340.0C647.4 337.5 611.3 335.5 588.0 335.0C564.7 334.5 539.9 335.6 525.5 337.0C511.1 338.4 508.3 340.2 501.4 343.7C494.5 347.2 490.1 351.7 484.2 358.1C478.2 364.6 471.9 368.0 465.7 382.4Z" fill="#e2e2e2" filter="url(#b8)"/>
<path d="M479.2 389.4C473.6 402.5 465.1 433.0 461.8 447.3C458.5 461.6 459.1 465.7 459.1 475.0C459.1 484.3 460.5 494.7 461.8 503.0C463.1 511.3 465.0 518.8 467.0 524.6C469.0 530.4 471.6 534.8 474.0 537.9C476.4 541.0 478.4 542.3 481.3 543.3C484.2 544.3 486.5 544.8 491.3 543.8C496.1 542.8 504.7 540.1 509.9 537.2C515.1 534.3 519.8 530.0 522.5 526.5C525.2 523.0 525.3 522.4 526.0 516.1C526.7 509.8 523.5 497.9 526.8 488.7C530.1 479.5 524.0 474.7 545.6 461.0C567.2 447.3 634.2 418.5 656.5 406.6C678.8 394.7 672.2 395.8 679.1 389.4C686.0 383.0 700.7 373.8 697.9 368.0C695.1 362.2 674.1 357.5 662.3 354.7C650.4 351.9 649.2 351.5 626.8 351.0C604.4 350.5 547.4 350.8 527.7 351.9C508.0 352.9 514.0 354.5 508.6 357.3C503.2 360.1 500.0 363.1 495.1 368.5C490.2 373.9 484.8 376.3 479.2 389.4Z" fill="#e7e7e7" filter="url(#b8)"/>
<path d="M473.0 612.0C473.0 608.5 479.5 604.3 484.0 601.0C488.5 597.7 494.7 594.7 500.0 592.0C505.3 589.3 510.5 585.7 516.0 585.0C521.5 584.3 528.0 585.7 533.0 588.0C538.0 590.3 543.0 595.0 546.0 599.0C549.0 603.0 549.3 607.2 551.0 612.0C552.7 616.8 556.8 622.8 556.0 628.0C555.2 633.2 550.3 639.3 546.0 643.0C541.7 646.7 535.2 650.3 530.0 650.0C524.8 649.7 520.0 644.3 515.0 641.0C510.0 637.7 505.2 633.2 500.0 630.0C494.8 626.8 488.5 625.0 484.0 622.0C479.5 619.0 473.0 615.5 473.0 612.0Z" fill="#999999" filter="url(#b2)"/>
<path d="M486.0 612.0C485.7 608.0 495.0 603.3 500.0 600.0C505.0 596.7 510.8 593.0 516.0 592.0C521.2 591.0 526.8 592.0 531.0 594.0C535.2 596.0 538.5 599.7 541.0 604.0C543.5 608.3 545.3 615.0 546.0 620.0C546.7 625.0 547.3 630.2 545.0 634.0C542.7 637.8 536.7 642.7 532.0 643.0C527.3 643.3 522.0 639.2 517.0 636.0C512.0 632.8 507.2 628.0 502.0 624.0C496.8 620.0 486.3 616.0 486.0 612.0Z" fill="#c7c7c7" filter="url(#b2)"/>
<path d="M508.0 612.0C509.3 608.3 517.3 604.7 522.0 604.0C526.7 603.3 532.5 605.0 536.0 608.0C539.5 611.0 542.7 617.3 543.0 622.0C543.3 626.7 540.8 633.7 538.0 636.0C535.2 638.3 530.0 637.7 526.0 636.0C522.0 634.3 517.0 630.0 514.0 626.0C511.0 622.0 506.7 615.7 508.0 612.0Z" fill="#d5d5d5" filter="url(#b2)"/>
<path d="M364.0 668.0C364.2 664.7 370.7 662.7 375.0 660.0C379.3 657.3 384.5 653.7 390.0 652.0C395.5 650.3 402.3 649.5 408.0 650.0C413.7 650.5 419.7 652.0 424.0 655.0C428.3 658.0 433.0 663.2 434.0 668.0C435.0 672.8 433.0 679.7 430.0 684.0C427.0 688.3 421.3 691.8 416.0 694.0C410.7 696.2 403.3 697.7 398.0 697.0C392.7 696.3 388.0 692.8 384.0 690.0C380.0 687.2 377.3 683.7 374.0 680.0C370.7 676.3 363.8 671.3 364.0 668.0Z" fill="#949494" filter="url(#b2)"/>
<path d="M382.0 676.0C381.8 671.7 387.7 665.3 392.0 662.0C396.3 658.7 403.0 656.0 408.0 656.0C413.0 656.0 418.5 659.0 422.0 662.0C425.5 665.0 428.7 670.0 429.0 674.0C429.3 678.0 427.5 683.0 424.0 686.0C420.5 689.0 413.2 691.7 408.0 692.0C402.8 692.3 397.3 690.7 393.0 688.0C388.7 685.3 382.2 680.3 382.0 676.0Z" fill="#c7c7c7" filter="url(#b2)"/>
<path d="M394.0 680.0C392.7 676.3 399.7 668.0 404.0 666.0C408.3 664.0 416.7 665.7 420.0 668.0C423.3 670.3 425.3 676.7 424.0 680.0C422.7 683.3 417.0 688.0 412.0 688.0C407.0 688.0 395.3 683.7 394.0 680.0Z" fill="#d5d5d5" filter="url(#b2)"/>
<path d="M341.1 145.7C341.4 146.7 341.3 148.0 340.9 149.1C340.5 150.2 339.7 151.4 338.6 152.4C337.6 153.4 336.2 154.3 334.8 154.9C333.3 155.6 331.6 156.0 330.0 156.2C328.5 156.4 326.8 156.3 325.4 155.9C324.0 155.6 322.7 155.0 321.8 154.2C320.8 153.4 320.2 152.4 319.9 151.3C319.6 150.3 319.7 149.0 320.1 147.9C320.5 146.8 321.3 145.6 322.4 144.6C323.4 143.6 324.8 142.7 326.2 142.1C327.7 141.4 329.4 141.0 331.0 140.8C332.5 140.6 334.2 140.7 335.6 141.1C337.0 141.4 338.3 142.0 339.2 142.8C340.2 143.6 340.8 144.6 341.1 145.7Z" fill="#9e9e9e" filter="url(#b15)"/>
<path d="M338.7 146.3C338.9 147.1 338.8 148.0 338.5 148.8C338.2 149.7 337.5 150.6 336.7 151.3C335.9 152.0 334.8 152.7 333.7 153.2C332.6 153.7 331.3 154.0 330.1 154.2C328.9 154.3 327.6 154.3 326.5 154.0C325.4 153.8 324.4 153.3 323.7 152.8C323.0 152.2 322.5 151.5 322.3 150.7C322.1 149.9 322.2 149.0 322.5 148.2C322.8 147.3 323.5 146.4 324.3 145.7C325.1 145.0 326.2 144.3 327.3 143.8C328.4 143.3 329.7 143.0 330.9 142.8C332.1 142.7 333.4 142.7 334.5 143.0C335.6 143.2 336.6 143.7 337.3 144.2C338.0 144.8 338.5 145.5 338.7 146.3Z" fill="#d5d5d5" filter="url(#b15)"/>
<path d="M423.5 209.2C423.9 210.0 423.7 211.1 423.2 212.3C422.6 213.4 421.4 214.8 420.0 216.0C418.6 217.3 416.7 218.7 414.7 219.8C412.7 220.9 410.4 222.0 408.2 222.8C406.1 223.6 403.8 224.2 401.9 224.5C400.1 224.7 398.3 224.7 397.0 224.5C395.8 224.2 394.9 223.5 394.5 222.8C394.1 222.0 394.3 220.9 394.8 219.7C395.4 218.6 396.6 217.2 398.0 216.0C399.4 214.7 401.3 213.3 403.3 212.2C405.3 211.1 407.6 210.0 409.8 209.2C411.9 208.4 414.2 207.8 416.1 207.5C417.9 207.3 419.7 207.3 421.0 207.5C422.2 207.8 423.1 208.5 423.5 209.2Z" fill="#8c8c8c" filter="url(#b2)"/>
<path d="M423.0 206.4C423.2 206.9 423.1 207.6 422.7 208.4C422.3 209.1 421.5 210.1 420.5 210.9C419.6 211.8 418.2 212.7 416.9 213.5C415.5 214.3 413.9 215.0 412.4 215.6C411.0 216.1 409.4 216.5 408.1 216.7C406.8 216.9 405.6 216.9 404.8 216.8C403.9 216.6 403.3 216.2 403.0 215.6C402.8 215.1 402.9 214.4 403.3 213.6C403.7 212.9 404.5 211.9 405.5 211.1C406.4 210.2 407.8 209.3 409.1 208.5C410.5 207.7 412.1 207.0 413.6 206.4C415.0 205.9 416.6 205.5 417.9 205.3C419.2 205.1 420.4 205.1 421.2 205.2C422.1 205.4 422.7 205.8 423.0 206.4Z" fill="#c2c2c2" filter="url(#b15)"/>
<path d="M327.0 246.5C327.0 246.9 326.9 247.4 326.7 247.8C326.4 248.2 326.1 248.6 325.7 248.8C325.3 249.1 324.8 249.3 324.3 249.4C323.8 249.5 323.2 249.5 322.7 249.4C322.2 249.3 321.7 249.1 321.3 248.8C320.9 248.6 320.6 248.2 320.3 247.8C320.1 247.4 320.0 246.9 320.0 246.5C320.0 246.1 320.1 245.6 320.3 245.2C320.6 244.8 320.9 244.4 321.3 244.2C321.7 243.9 322.2 243.7 322.7 243.6C323.2 243.5 323.8 243.5 324.3 243.6C324.8 243.7 325.3 243.9 325.7 244.2C326.1 244.4 326.4 244.8 326.7 245.2C326.9 245.6 327.0 246.1 327.0 246.5Z" fill="#b8b8b8" filter="url(#b1)"/>
<path d="M296.5 432.8C296.5 433.4 296.4 434.0 296.2 434.5C296.0 435.1 295.7 435.6 295.4 435.9C295.0 436.3 294.6 436.6 294.2 436.7C293.7 436.8 293.3 436.8 292.8 436.7C292.4 436.6 292.0 436.3 291.6 435.9C291.3 435.6 291.0 435.1 290.8 434.5C290.6 434.0 290.5 433.4 290.5 432.8C290.5 432.2 290.6 431.6 290.8 431.1C291.0 430.5 291.3 430.0 291.6 429.7C292.0 429.3 292.4 429.0 292.8 428.9C293.3 428.8 293.7 428.8 294.2 428.9C294.6 429.0 295.0 429.3 295.4 429.7C295.7 430.0 296.0 430.5 296.2 431.1C296.4 431.6 296.5 432.2 296.5 432.8Z" fill="#c7c7c7" filter="url(#b1)"/>
<path d="M260.0 523.0C260.0 523.6 259.9 524.2 259.7 524.7C259.4 525.3 259.1 525.8 258.7 526.1C258.3 526.5 257.8 526.8 257.3 526.9C256.8 527.0 256.2 527.0 255.7 526.9C255.2 526.8 254.7 526.5 254.3 526.1C253.9 525.8 253.6 525.3 253.3 524.7C253.1 524.2 253.0 523.6 253.0 523.0C253.0 522.4 253.1 521.8 253.3 521.3C253.6 520.7 253.9 520.2 254.3 519.9C254.7 519.5 255.2 519.2 255.7 519.1C256.2 519.0 256.8 519.0 257.3 519.1C257.8 519.2 258.3 519.5 258.7 519.9C259.1 520.2 259.4 520.7 259.7 521.3C259.9 521.8 260.0 522.4 260.0 523.0Z" fill="#cccccc" filter="url(#b1)"/>
<path d="M394.4 536.7C394.3 538.6 393.4 540.6 392.0 542.2C390.6 543.8 388.4 545.2 386.0 546.2C383.7 547.2 380.7 547.8 377.8 548.0C375.0 548.2 371.7 547.9 369.0 547.2C366.2 546.6 363.3 545.4 361.2 544.0C359.0 542.7 357.2 540.8 356.1 539.0C355.0 537.3 354.4 535.1 354.6 533.3C354.7 531.4 355.6 529.4 357.0 527.8C358.4 526.2 360.6 524.8 363.0 523.8C365.3 522.8 368.3 522.2 371.2 522.0C374.0 521.8 377.3 522.1 380.0 522.8C382.8 523.4 385.7 524.6 387.8 526.0C390.0 527.3 391.8 529.2 392.9 531.0C394.0 532.7 394.6 534.9 394.4 536.7Z" fill="#9e9e9e" filter="url(#b2)"/>
<path d="M389.4 537.3C389.3 538.6 388.7 540.0 387.6 541.1C386.6 542.2 385.0 543.2 383.2 543.8C381.4 544.5 379.2 544.9 377.1 545.0C374.9 545.1 372.5 544.9 370.4 544.5C368.3 544.0 366.2 543.2 364.6 542.2C363.0 541.2 361.5 540.0 360.7 538.7C359.9 537.5 359.4 536.0 359.6 534.7C359.7 533.4 360.3 532.0 361.4 530.9C362.4 529.8 364.0 528.8 365.8 528.2C367.6 527.5 369.8 527.1 371.9 527.0C374.1 526.9 376.5 527.1 378.6 527.5C380.7 528.0 382.8 528.8 384.4 529.8C386.0 530.8 387.5 532.0 388.3 533.3C389.1 534.5 389.6 536.0 389.4 537.3Z" fill="#d5d5d5" filter="url(#b2)"/>
<path d="M432.0 557.3C431.3 558.3 430.3 559.1 429.1 559.5C428.0 560.0 426.5 560.2 425.0 560.1C423.6 559.9 421.9 559.5 420.5 558.8C419.1 558.1 417.6 557.1 416.5 556.0C415.4 554.9 414.4 553.5 413.8 552.2C413.2 550.9 412.9 549.4 412.9 548.2C412.9 546.9 413.3 545.6 414.0 544.7C414.7 543.7 415.7 542.9 416.9 542.5C418.0 542.0 419.5 541.8 421.0 541.9C422.4 542.1 424.1 542.5 425.5 543.2C426.9 543.9 428.4 544.9 429.5 546.0C430.6 547.1 431.6 548.5 432.2 549.8C432.8 551.1 433.1 552.6 433.1 553.8C433.1 555.1 432.7 556.4 432.0 557.3Z" fill="#9e9e9e" filter="url(#b15)"/>
<path d="M429.7 556.0C429.3 556.6 428.7 557.1 427.9 557.4C427.2 557.7 426.2 557.8 425.3 557.7C424.4 557.6 423.4 557.3 422.5 556.9C421.6 556.5 420.6 555.8 419.9 555.1C419.2 554.4 418.6 553.5 418.2 552.7C417.8 551.9 417.6 550.9 417.6 550.2C417.6 549.4 417.9 548.6 418.3 548.0C418.7 547.4 419.3 546.9 420.1 546.6C420.8 546.3 421.8 546.2 422.7 546.3C423.6 546.4 424.6 546.7 425.5 547.1C426.4 547.5 427.4 548.2 428.1 548.9C428.8 549.6 429.4 550.5 429.8 551.3C430.2 552.1 430.4 553.1 430.4 553.8C430.4 554.6 430.1 555.4 429.7 556.0Z" fill="#d2d2d2" filter="url(#b15)"/>
<path d="M600.0 606.0C600.0 609.0 599.2 612.4 597.8 615.1C596.4 617.8 594.2 620.5 591.7 622.4C589.2 624.3 586.0 625.8 582.9 626.5C579.8 627.1 576.2 627.1 573.1 626.5C570.0 625.8 566.8 624.3 564.3 622.4C561.8 620.5 559.6 617.8 558.2 615.1C556.8 612.4 556.0 609.0 556.0 606.0C556.0 603.0 556.8 599.6 558.2 596.9C559.6 594.2 561.8 591.5 564.3 589.6C566.8 587.7 570.0 586.2 573.1 585.5C576.2 584.9 579.8 584.9 582.9 585.5C586.0 586.2 589.2 587.7 591.7 589.6C594.2 591.5 596.4 594.2 597.8 596.9C599.2 599.6 600.0 603.0 600.0 606.0Z" fill="#9e9e9e" filter="url(#b2)"/>
<path d="M594.5 606.0C594.5 608.2 593.9 610.7 592.9 612.7C591.9 614.7 590.3 616.7 588.5 618.1C586.7 619.5 584.3 620.6 582.1 621.1C579.8 621.6 577.2 621.6 574.9 621.1C572.7 620.6 570.3 619.5 568.5 618.1C566.7 616.7 565.1 614.7 564.1 612.7C563.1 610.7 562.5 608.2 562.5 606.0C562.5 603.8 563.1 601.3 564.1 599.3C565.1 597.3 566.7 595.3 568.5 593.9C570.3 592.5 572.7 591.4 574.9 590.9C577.2 590.4 579.8 590.4 582.1 590.9C584.3 591.4 586.7 592.5 588.5 593.9C590.3 595.3 591.9 597.3 592.9 599.3C593.9 601.3 594.5 603.8 594.5 606.0Z" fill="#d5d5d5" filter="url(#b25)"/>
<path d="M609.0 550.0C609.6 551.0 609.9 552.3 609.8 553.6C609.7 554.8 609.3 556.2 608.6 557.5C607.9 558.7 606.7 560.0 605.5 561.0C604.3 562.0 602.8 562.9 601.3 563.5C599.8 564.0 598.1 564.3 596.7 564.3C595.2 564.3 593.8 564.0 592.7 563.5C591.5 562.9 590.6 562.0 590.0 561.0C589.4 560.0 589.1 558.7 589.2 557.4C589.3 556.2 589.7 554.8 590.4 553.5C591.1 552.3 592.3 551.0 593.5 550.0C594.7 549.0 596.2 548.1 597.7 547.5C599.2 547.0 600.9 546.7 602.3 546.7C603.8 546.7 605.2 547.0 606.3 547.5C607.5 548.1 608.4 549.0 609.0 550.0Z" fill="#a8a8a8" filter="url(#b15)"/>
<path d="M599.5 576.0C599.5 576.5 599.3 577.1 599.1 577.5C598.8 578.0 598.3 578.4 597.8 578.7C597.3 579.1 596.6 579.3 596.0 579.4C595.4 579.5 594.6 579.5 594.0 579.4C593.4 579.3 592.7 579.1 592.2 578.7C591.7 578.4 591.2 578.0 590.9 577.5C590.7 577.1 590.5 576.5 590.5 576.0C590.5 575.5 590.7 574.9 590.9 574.5C591.2 574.0 591.7 573.6 592.2 573.3C592.7 572.9 593.4 572.7 594.0 572.6C594.6 572.5 595.4 572.5 596.0 572.6C596.6 572.7 597.3 572.9 597.8 573.3C598.3 573.6 598.8 574.0 599.1 574.5C599.3 574.9 599.5 575.5 599.5 576.0Z" fill="#9e9e9e" filter="url(#b1)"/>
<path d="M447.0 632.0C448.2 629.5 453.2 627.7 456.0 630.0C458.8 632.3 461.7 640.7 464.0 646.0C466.3 651.3 468.0 657.0 470.0 662.0C472.0 667.0 476.0 672.5 476.0 676.0C476.0 679.5 472.3 683.0 470.0 683.0C467.7 683.0 464.5 679.8 462.0 676.0C459.5 672.2 457.2 665.2 455.0 660.0C452.8 654.8 450.3 649.7 449.0 645.0C447.7 640.3 445.8 634.5 447.0 632.0Z" fill="#999999" filter="url(#b2)"/>
<path d="M462.0 660.0C463.3 659.7 468.2 665.0 470.0 668.0C471.8 671.0 473.5 676.3 473.0 678.0C472.5 679.7 468.8 679.3 467.0 678.0C465.2 676.7 462.8 673.0 462.0 670.0C461.2 667.0 460.7 660.3 462.0 660.0Z" fill="#c7c7c7" filter="url(#b2)"/>
<path d="M440.9 698.9C441.0 699.7 440.8 700.6 440.4 701.4C440.0 702.2 439.2 703.1 438.3 703.8C437.4 704.4 436.1 705.0 434.9 705.4C433.7 705.8 432.2 706.1 431.0 706.1C429.7 706.2 428.3 706.0 427.2 705.7C426.1 705.4 425.1 704.9 424.4 704.3C423.7 703.7 423.3 702.8 423.1 702.1C423.0 701.3 423.2 700.4 423.6 699.6C424.0 698.8 424.8 697.9 425.7 697.2C426.6 696.6 427.9 696.0 429.1 695.6C430.3 695.2 431.8 694.9 433.0 694.9C434.3 694.8 435.7 695.0 436.8 695.3C437.9 695.6 438.9 696.1 439.6 696.7C440.3 697.3 440.7 698.2 440.9 698.9Z" fill="#a8a8a8" filter="url(#b15)"/>
<path d="M405.8 707.1C406.1 707.3 406.2 707.8 406.0 708.5C405.9 709.1 405.6 710.0 405.1 711.0C404.6 711.9 403.9 713.0 403.2 714.0C402.4 715.1 401.5 716.2 400.6 717.1C399.7 718.0 398.7 718.9 397.9 719.6C397.1 720.2 396.2 720.7 395.6 720.9C395.0 721.1 394.5 721.1 394.2 720.9C393.9 720.7 393.8 720.2 394.0 719.5C394.1 718.9 394.4 718.0 394.9 717.0C395.4 716.1 396.1 715.0 396.8 714.0C397.6 712.9 398.5 711.8 399.4 710.9C400.3 710.0 401.3 709.1 402.1 708.4C402.9 707.8 403.8 707.3 404.4 707.1C405.0 706.9 405.5 706.9 405.8 707.1Z" fill="#8f8f8f" filter="url(#b1)"/>
<path d="M388.9 713.0C388.9 713.4 388.8 713.9 388.7 714.3C388.5 714.7 388.2 715.1 388.0 715.3C387.7 715.6 387.3 715.8 387.0 715.9C386.6 716.0 386.2 716.0 385.8 715.9C385.5 715.8 385.1 715.6 384.8 715.3C384.6 715.1 384.3 714.7 384.1 714.3C384.0 713.9 383.9 713.4 383.9 713.0C383.9 712.6 384.0 712.1 384.1 711.7C384.3 711.3 384.6 710.9 384.8 710.7C385.1 710.4 385.5 710.2 385.8 710.1C386.2 710.0 386.6 710.0 387.0 710.1C387.3 710.2 387.7 710.4 388.0 710.7C388.2 710.9 388.5 711.3 388.7 711.7C388.8 712.1 388.9 712.6 388.9 713.0Z" fill="#b2b2b2" filter="url(#b08)"/>
<path d="M532.0 679.5C532.0 680.2 531.8 681.0 531.6 681.7C531.3 682.3 530.8 683.0 530.3 683.4C529.8 683.9 529.1 684.2 528.5 684.4C527.9 684.5 527.1 684.5 526.5 684.4C525.9 684.2 525.2 683.9 524.7 683.4C524.2 683.0 523.7 682.3 523.4 681.7C523.2 681.0 523.0 680.2 523.0 679.5C523.0 678.8 523.2 678.0 523.4 677.3C523.7 676.7 524.2 676.0 524.7 675.6C525.2 675.1 525.9 674.8 526.5 674.6C527.1 674.5 527.9 674.5 528.5 674.6C529.1 674.8 529.8 675.1 530.3 675.6C530.8 676.0 531.3 676.7 531.6 677.3C531.8 678.0 532.0 678.8 532.0 679.5Z" fill="#9e9e9e" filter="url(#b1)"/>
<path d="M340.0 728.0C343.0 726.7 347.2 727.2 350.0 730.0C352.8 732.8 356.0 739.2 357.0 745.0C358.0 750.8 357.3 759.5 356.0 765.0C354.7 770.5 351.7 777.2 349.0 778.0C346.3 778.8 342.2 774.7 340.0 770.0C337.8 765.3 337.3 755.3 336.0 750.0C334.7 744.7 331.3 741.7 332.0 738.0C332.7 734.3 337.0 729.3 340.0 728.0Z" fill="#6b6b6b" filter="url(#b3)"/>
<path d="M350.5 729.4C350.3 730.6 350.0 731.8 349.6 732.8C349.3 733.8 348.9 734.8 348.4 735.4C348.0 736.1 347.6 736.6 347.2 736.8C346.8 737.0 346.4 736.9 346.1 736.6C345.8 736.3 345.5 735.6 345.4 734.9C345.2 734.1 345.2 733.1 345.2 732.0C345.2 731.0 345.3 729.7 345.5 728.6C345.7 727.4 346.0 726.2 346.4 725.2C346.7 724.2 347.1 723.2 347.6 722.6C348.0 721.9 348.4 721.4 348.8 721.2C349.2 721.0 349.6 721.1 349.9 721.4C350.2 721.7 350.5 722.4 350.6 723.1C350.8 723.9 350.8 724.9 350.8 726.0C350.8 727.0 350.7 728.3 350.5 729.4Z" fill="#999999" filter="url(#b1)"/>
<path d="M774.4 807.3C774.2 808.4 773.8 809.6 773.4 810.6C772.9 811.6 772.3 812.5 771.7 813.1C771.1 813.8 770.3 814.2 769.6 814.4C769.0 814.5 768.2 814.4 767.7 814.0C767.1 813.6 766.5 813.0 766.2 812.2C765.8 811.4 765.5 810.3 765.4 809.2C765.3 808.1 765.4 806.9 765.6 805.7C765.8 804.6 766.2 803.4 766.6 802.4C767.1 801.4 767.7 800.5 768.3 799.9C768.9 799.2 769.7 798.8 770.4 798.6C771.0 798.5 771.8 798.6 772.3 799.0C772.9 799.4 773.5 800.0 773.8 800.8C774.2 801.6 774.5 802.7 774.6 803.8C774.7 804.9 774.6 806.1 774.4 807.3Z" fill="#a8a8a8" filter="url(#b15)"/>
<path d="M798.0 829.0C793.7 826.7 803.2 821.5 806.0 818.0C808.8 814.5 812.3 811.8 815.0 808.0C817.7 804.2 819.8 798.3 822.0 795.0C824.2 791.7 826.3 787.2 828.0 788.0C829.7 788.8 831.3 792.7 832.0 800.0C832.7 807.3 837.7 827.2 832.0 832.0C826.3 836.8 802.3 831.3 798.0 829.0Z" fill="#9e9e9e" filter="url(#b25)"/>
</g>
</defs>
<rect x="0" y="0" width="1792" height="1690" fill="#fff"/>
<rect x="99.7" y="101.7" width="728.1" height="726.1" fill="#000"/>
<g clip-path="url(#cpL)">
<g clip-path="url(#sw)">
<g filter="url(#noise)">
<rect x="90" y="90" width="760" height="760" fill="#3a3a3a"/>
<path d="M590.0 690.0C621.7 676.7 657.5 664.2 700.0 655.0C742.5 645.8 820.8 603.3 845.0 635.0C869.2 666.7 922.5 810.0 845.0 845.0C767.5 880.0 447.5 854.2 380.0 845.0C312.5 835.8 418.3 808.3 440.0 790.0C461.7 771.7 485.0 751.7 510.0 735.0C535.0 718.3 558.3 703.3 590.0 690.0Z" fill="#323232" filter="url(#b16)"/>
<path d="M450.0 585.0C464.2 575.0 495.0 592.2 520.0 590.0C545.0 587.8 575.0 571.0 600.0 572.0C625.0 573.0 649.2 589.3 670.0 596.0C690.8 602.7 720.0 604.3 725.0 612.0C730.0 619.7 708.8 633.3 700.0 642.0C691.2 650.7 682.0 654.3 672.0 664.0C662.0 673.7 652.0 689.8 640.0 700.0C628.0 710.2 616.7 717.5 600.0 725.0C583.3 732.5 558.3 739.2 540.0 745.0C521.7 750.8 504.2 765.0 490.0 760.0C475.8 755.0 464.2 733.3 455.0 715.0C445.8 696.7 435.8 671.7 435.0 650.0C434.2 628.3 435.8 595.0 450.0 585.0Z" fill="#4c4c4c" filter="url(#b12)"/>
<path d="M610.0 585.0C627.5 578.0 670.3 588.8 680.0 598.0C689.7 607.2 678.0 626.3 668.0 640.0C658.0 653.7 637.2 668.0 620.0 680.0C602.8 692.0 579.2 709.5 565.0 712.0C550.8 714.5 533.3 707.0 535.0 695.0C536.7 683.0 562.5 658.3 575.0 640.0C587.5 621.7 592.5 592.0 610.0 585.0Z" fill="#5c5c5c" filter="url(#b10)"/>
<path d="M300.0 330.0C312.5 305.0 338.3 298.3 345.0 330.0C351.7 361.7 349.2 471.7 340.0 520.0C330.8 568.3 305.0 603.3 290.0 620.0C275.0 636.7 253.3 643.3 250.0 620.0C246.7 596.7 261.7 528.3 270.0 480.0C278.3 431.7 287.5 355.0 300.0 330.0Z" fill="#3e3e3e" filter="url(#b16)"/>
<g filter="url(#rough)"><use href="#cloudsL"/></g>
</g>
</g>
<g>
<path d="M383.4 459.6L381.1 462.1L380.7 465.3L379.7 468.5L380.5 471.7L379.3 475.0L379.8 478.2L379.7 481.6L381.2 484.7L381.1 488.2L383.2 491.1L384.9 494.2L386.9 497.1L388.5 500.7L391.3 502.8L394.4 504.1L397.4 505.5L400.8 506.0L404.4 506.2L407.3 507.5L410.4 508.8L412.4 511.4L414.0 514.3L415.2 517.5L416.7 520.2L421.1 521.0L423.4 523.5L425.7 526.1L425.3 529.9L426.7 532.8L427.2 536.0L428.6 538.9L429.8 541.9L431.8 544.4L433.4 547.3L436.0 549.3L438.6 551.3L441.7 552.4L444.1 555.1L447.0 556.5L450.1 557.2L453.3 557.8L456.5 558.5L459.0 560.7L462.1 561.7L464.8 563.5L468.1 564.1L471.4 564.1L474.7 564.0L477.8 563.6L480.9 563.6L483.9 562.9L486.8 561.9L489.6 560.2L492.3 558.5L495.5 558.1L499.1 559.0L502.8 559.7L505.8 558.7L508.7 557.3L511.7 556.0L514.6 554.6L517.4 552.9L520.0 550.6L523.2 550.2L526.7 550.4L529.9 550.0L532.5 547.8L535.1 545.7L538.2 545.0L541.3 544.2L544.4 543.2L547.1 541.5L550.0 540.3L552.5 538.2L555.5 536.9L559.0 536.1L560.4 532.8L562.3 530.1L563.9 527.3L566.8 525.6L568.8 523.1L570.7 520.6L574.0 519.2L576.9 517.6L578.8 515.1L581.2 513.5L583.9 513.2L585.9 514.9L587.7 515.0L589.2 516.9L591.8 518.1L592.7 521.4L596.2 521.9L599.2 523.3L602.6 524.6L604.0 527.6L605.8 530.1L608.0 532.5L611.6 534.3L614.0 537.0L615.8 540.1L615.7 543.6L614.6 547.0L614.7 550.3L615.8 553.2L618.0 555.4L620.7 556.7L623.1 559.0L626.1 560.0L628.9 561.6L631.7 563.8L634.9 564.6L637.9 566.3L641.4 565.4L644.6 565.9L647.9 565.5L651.0 566.0L654.2 567.5L657.5 568.2L660.8 567.1L664.0 566.2L667.1 564.8L670.3 564.3L673.6 562.6L676.8 563.0L680.1 562.5L683.3 562.5L686.6 562.4L689.7 564.4L693.1 565.0L696.5 566.5L699.2 569.5L697.8 573.4L697.1 576.7L697.8 580.9L701.9 582.3L705.5 581.9L708.8 581.2L712.0 580.8L715.5 580.7L718.5 579.3L721.1 576.7L722.6 573.6L723.0 570.4L725.6 568.1L726.9 565.2L729.0 562.6L729.3 559.3L730.8 556.4L731.9 553.4L732.3 550.2L733.7 547.2L733.6 543.7L735.2 540.8L736.4 537.4L739.7 535.6L742.7 534.0L745.6 532.5L748.7 531.4L751.3 529.6L754.2 528.6L756.8 526.8L760.1 526.1L763.1 525.0L765.8 523.3L767.4 520.8L769.1 518.6L770.4 516.1L771.5 513.0L770.9 509.8L770.8 506.6L769.1 503.7L768.6 500.5L767.6 497.4L768.1 494.2L767.5 491.1L768.4 487.9L768.0 484.7L768.0 481.5L765.7 478.1L766.0 474.8L765.4 470.9L768.2 467.8L771.1 464.6L775.3 465.2L778.7 465.1L781.9 466.0L785.2 466.2L788.7 465.6L792.1 466.5L795.6 468.5L796.4 472.6L796.1 476.2L795.9 479.8L794.4 482.7L792.4 485.1L789.8 487.6L790.3 490.7L791.6 493.4L793.8 495.3L795.6 498.0L798.7 499.3L801.7 500.5L804.8 501.9L807.1 504.5L809.1 507.5L809.4 511.2L808.6 514.6L805.3 517.3L805.0 520.0L803.8 522.6L804.2 525.9L803.1 528.7L803.0 532.1L802.5 535.2L800.3 537.3L797.4 538.8L795.0 540.7L792.3 542.7L789.9 545.4L787.4 548.4L786.7 552.6L787.7 556.5L788.6 559.8L788.9 563.1L787.9 566.6L789.0 569.7L790.7 572.7L793.6 575.2L793.7 578.5L795.2 581.3L795.2 585.0L798.1 586.9L799.6 590.7L803.1 591.8L806.0 594.5L808.3 594.4L809.5 595.8L811.7 597.7L813.6 600.2L815.3 602.9L817.7 605.2L819.9 607.7L822.2 610.0L824.8 611.6L827.2 612.5L827.6 609.8L828.9 607.7L827.8 604.3L829.4 601.7L828.9 598.4L831.2 595.7L830.7 592.5L831.4 589.4L831.6 586.2L832.1 583.0L832.4 579.9L832.9 576.8L834.5 573.6L836.5 570.5L838.1 567.4L838.0 564.2L836.0 560.9L836.3 557.7L838.1 554.6L839.8 551.4L839.5 548.2L839.0 545.0L838.7 541.8L838.6 538.6L837.6 535.3L838.5 532.1L838.0 528.9L837.4 525.7L837.1 522.5L837.2 519.3L837.8 516.1L837.1 512.9L836.6 509.7L837.1 506.5L837.5 503.3L838.2 500.1L838.2 496.9L837.6 493.7L836.9 490.5L836.6 487.3L838.5 484.1L838.7 480.9L838.5 477.7L837.4 474.5L838.3 471.3L840.2 468.1L841.6 465.0L840.9 461.7L839.7 458.5L840.3 455.3L842.0 452.2L841.3 448.9L840.4 445.7L839.5 442.5L840.6 439.3L840.4 436.1L840.3 432.9L838.8 429.7L838.6 426.5L838.2 423.3L838.5 420.1L837.8 416.9L836.9 413.7L835.8 410.5L834.2 407.3L834.1 404.1L836.2 400.9L836.8 397.7L836.7 394.5L835.6 391.3L836.0 388.1L836.1 384.9L836.3 381.7L836.7 378.5L836.0 375.3L836.0 372.1L834.9 368.9L836.0 365.7L834.8 362.5L835.9 359.3L835.3 356.1L836.7 352.9L836.9 349.7L838.6 346.5L839.5 343.3L839.3 340.1L839.5 336.9L838.6 333.7L839.9 330.5L839.1 327.3L839.4 324.1L838.3 320.9L838.9 317.7L839.4 314.5L840.9 311.3L840.0 308.1L839.5 304.9L839.3 301.7L841.2 298.5L842.3 295.3L842.3 292.1L841.3 288.9L841.3 285.7L840.7 282.5L840.0 279.3L837.7 276.1L836.3 273.0L836.0 269.8L836.8 266.5L837.4 263.3L837.9 260.1L837.9 256.9L837.8 253.7L837.9 250.5L837.2 247.3L837.1 244.1L837.0 240.9L836.7 237.8L837.7 234.5L838.0 231.3L838.7 228.1L839.0 224.8L838.8 221.7L839.0 218.4L839.2 215.1L838.7 212.0L837.9 208.8L837.0 205.7L837.7 202.4L837.5 199.1L836.8 195.9L835.1 192.9L834.9 189.7L833.7 186.6L832.0 183.7L830.0 181.4L828.2 180.4L825.5 180.9L823.2 183.2L821.1 185.8L819.4 188.6L818.4 191.7L817.8 194.9L817.3 198.2L815.8 201.0L813.7 203.6L812.9 206.8L811.0 209.4L811.4 213.1L809.6 215.8L808.9 219.0L805.9 221.1L804.6 224.0L802.2 226.1L800.3 228.4L797.3 229.1L795.2 231.8L792.3 233.3L789.5 235.9L786.2 235.8L783.0 236.5L779.6 234.8L776.3 234.3L773.1 233.7L769.9 234.4L766.8 235.4L763.6 235.5L760.4 235.9L757.0 234.8L753.9 236.1L750.7 236.2L747.7 237.8L744.5 237.7L741.3 237.6L738.1 237.8L735.0 238.2L731.8 237.9L728.8 237.5L725.7 237.1L722.2 238.7L719.0 238.4L715.9 237.2L713.0 235.7L710.8 232.7L708.6 230.3L706.9 227.7L704.4 227.1L701.9 226.4L701.0 224.3L700.6 221.5L701.9 218.8L702.9 215.6L704.5 212.7L707.5 211.1L710.2 209.4L713.1 208.0L715.2 205.2L717.9 203.4L721.1 202.7L724.4 202.1L727.4 201.2L730.1 199.2L732.8 197.4L735.5 195.8L738.7 195.0L741.5 193.5L744.4 192.2L747.4 190.9L750.8 190.0L753.7 188.5L755.9 186.0L757.9 183.3L760.2 181.0L762.4 178.5L765.5 176.3L767.6 172.3L767.5 167.2L763.6 164.3L759.7 163.1L755.9 162.4L752.2 162.8L749.8 165.7L747.7 168.3L745.7 171.0L743.0 172.7L740.1 174.2L737.1 175.6L733.3 176.2L730.6 178.3L727.2 179.8L725.7 182.8L724.8 186.1L723.9 189.5L722.9 193.1L720.1 195.3L716.3 195.6L714.9 192.1L715.0 188.7L712.9 186.0L712.7 182.6L710.0 180.5L708.6 176.7L705.1 175.1L701.6 174.2L698.3 174.3L695.1 173.9L692.2 173.1L689.0 173.8L685.8 173.5L682.4 175.4L679.3 174.2L675.9 175.7L672.8 174.6L669.6 175.2L666.4 174.6L663.4 173.1L660.2 173.0L657.1 172.3L654.3 171.5L651.9 170.2L650.2 168.0L648.8 165.4L645.6 163.2L642.2 163.7L641.0 167.1L638.4 169.5L638.3 172.9L637.8 176.1L635.4 178.6L634.0 181.5L632.2 184.1L631.4 187.2L630.0 190.1L627.7 192.1L625.4 194.1L622.1 193.5L619.3 194.4L616.1 194.0L613.0 195.9L609.7 195.5L606.6 196.6L603.3 197.2L601.7 200.3L599.7 202.7L600.4 206.3L600.0 209.3L600.1 212.5L598.3 215.4L596.7 218.3L596.8 221.7L594.8 224.7L592.9 227.6L589.8 229.4L586.9 230.9L583.8 231.5L580.6 231.6L577.3 230.6L574.1 230.3L570.8 230.2L567.7 231.3L564.4 230.7L561.2 230.1L557.9 230.1L554.7 230.4L551.5 231.4L548.2 231.9L544.5 233.5L542.7 237.9L546.3 240.3L549.6 241.1L553.0 241.2L556.1 242.0L558.8 244.0L561.7 245.7L564.8 247.4L568.1 247.3L571.4 248.2L574.6 246.1L577.8 245.8L581.6 247.2L579.5 250.9L578.1 254.1L574.9 255.7L572.5 257.8L570.1 260.0L567.4 262.0L564.3 263.1L561.0 263.5L558.2 265.5L555.1 266.3L552.0 267.2L548.6 266.6L545.8 268.0L542.6 268.8L540.2 271.0L538.0 273.3L537.3 276.5L536.5 279.5L536.3 282.7L534.4 285.6L534.5 288.9L532.0 291.6L531.0 294.4L528.9 296.4L528.1 299.4L526.1 301.9L522.9 302.6L519.7 302.6L516.6 302.4L513.7 303.4L510.7 304.9L507.6 304.7L504.5 304.3L501.7 303.3L498.3 304.0L495.1 303.3L491.9 302.7L489.4 300.6L486.3 299.6L483.6 298.0L480.4 296.9L477.3 295.8L473.9 295.0L471.3 293.1L470.0 289.5L467.5 287.6L464.7 285.8L462.3 288.1L460.6 289.9L459.4 292.3L456.5 294.3L453.8 296.8L453.2 300.0L453.7 303.4L455.4 306.3L457.0 308.9L458.7 311.5L460.3 314.2L461.6 317.2L463.7 319.8L464.1 323.4L464.1 327.1L461.4 329.3L458.5 330.7L455.3 331.0L452.1 330.5L448.9 331.2L445.8 332.1L442.8 333.5L440.4 333.0L443.4 333.9L446.6 335.4L449.9 333.5L453.1 333.7L456.3 332.8L459.4 334.3L462.6 334.2L465.7 335.4L468.5 336.4L471.2 337.2L473.3 339.8L473.4 343.6L472.4 347.0L469.4 349.0L467.1 351.4L464.7 353.6L464.0 357.1L462.6 360.2L460.2 362.6L457.5 364.7L454.2 365.9L451.1 367.1L448.3 368.7L445.5 370.2L442.3 371.3L439.3 372.9L437.4 375.7L436.0 378.7L434.8 381.7L431.9 383.9L431.9 387.3L431.4 390.5L431.8 393.8L429.4 396.7L428.0 399.8L427.3 402.9L427.9 406.2L427.3 409.4L426.6 412.5L426.2 415.7L425.5 418.8L426.0 422.1L424.8 425.1L423.8 428.1L421.7 431.0L421.3 434.3L421.6 437.5L422.0 440.6L421.9 443.6L421.1 446.2L419.4 448.5L417.7 451.4L415.1 453.9L412.0 455.4L408.7 455.7L405.3 455.0L402.4 456.3L399.1 456.5L395.8 457.9L392.5 457.5L389.4 457.8L386.9 458.2L384.3 458.4Z" fill="none" stroke="#fde725" stroke-width="2.8" stroke-linejoin="round"/>
<path d="M389.5 461.0L389.3 464.7L389.4 468.1L388.6 471.4L389.0 474.7L390.3 477.9L392.8 480.7L394.1 483.5L395.4 486.1L396.2 489.0L397.8 491.6L400.3 493.5L403.4 494.4L406.6 495.2L409.1 497.4L411.1 500.3L413.9 502.0L415.8 504.7L418.1 506.9L418.4 510.8L420.2 513.3L422.0 515.9L424.0 518.3L426.4 520.6L428.4 523.1L430.1 525.8L431.3 528.8L432.4 531.8L434.0 534.6L435.1 537.7L436.8 540.5L439.4 542.6L442.5 543.7L445.7 544.3L448.7 544.9L451.0 547.5L453.6 549.4L456.4 551.1L459.9 551.4L462.0 554.3L464.8 555.8L467.8 556.9L471.3 556.4L474.2 556.6L476.9 557.9L479.9 558.3L483.0 558.9L486.0 557.8L488.8 556.0L491.5 554.3L494.2 552.5L497.1 551.0L500.6 551.4L503.8 550.8L506.8 549.7L509.4 547.3L512.0 545.2L515.4 545.3L518.5 544.5L522.1 545.2L525.0 543.9L527.8 542.2L531.4 542.6L534.7 542.3L538.2 542.2L540.6 539.6L543.5 538.3L546.5 537.1L549.1 535.1L551.4 532.7L554.1 531.0L557.6 530.1L559.8 527.7L562.0 525.3L564.0 522.7L567.3 521.3L569.0 518.5L570.3 515.3L571.4 512.1L574.1 510.3L577.2 509.0L579.6 507.6L581.8 505.5L584.6 503.7L587.9 503.9L591.0 504.8L593.9 506.0L596.8 507.4L599.4 509.3L601.5 511.7L604.3 513.5L606.1 516.2L607.7 518.9L609.0 521.9L610.6 524.7L612.3 527.3L614.2 529.9L615.6 532.7L616.8 535.6L617.1 538.8L618.7 541.7L619.9 544.6L621.0 547.6L623.2 549.9L625.5 552.2L629.3 551.4L632.3 552.0L635.5 551.7L638.1 554.6L641.1 555.7L644.3 555.6L647.5 555.6L650.7 555.2L653.9 555.2L657.1 553.8L660.3 553.2L663.6 553.2L666.8 553.7L670.0 554.8L673.3 553.8L676.4 555.9L679.6 555.8L682.6 558.5L685.9 557.0L688.9 559.1L692.1 559.5L695.2 561.6L698.5 561.2L701.8 562.1L704.9 560.6L708.1 560.7L711.3 560.1L714.7 560.1L717.4 557.6L719.1 554.6L721.3 553.0L723.1 550.8L725.8 548.7L726.9 545.7L728.9 543.0L729.4 539.8L730.5 536.8L732.1 534.1L734.0 531.7L734.6 528.4L736.7 526.0L738.6 523.1L742.2 522.7L744.0 519.7L746.0 517.3L746.7 514.1L748.7 512.0L750.8 509.7L752.4 507.0L753.5 504.1L754.5 501.1L757.5 498.9L759.7 496.2L761.5 493.2L761.5 489.9L762.3 486.5L762.6 483.2L763.0 479.9L763.4 476.6L763.5 473.5L763.1 470.5L762.3 467.5L763.3 464.9L764.4 462.5L766.3 460.7L767.6 458.2L770.1 456.7L771.8 454.2L774.6 452.9L776.5 450.1L779.2 448.5L782.1 447.4L785.2 446.3L788.0 444.8L790.2 442.4L792.9 441.3L795.7 440.8L798.6 439.8L801.7 438.3L805.0 437.7L808.1 439.3L811.3 440.3L814.6 440.7L817.8 439.1L820.7 437.3L823.3 435.5L825.1 433.0L827.5 431.5L829.9 429.5L831.9 427.1L833.0 424.2L834.2 421.2L834.7 418.1L835.0 414.9L834.2 411.6L835.1 408.5L836.6 405.5L838.1 402.5L837.8 399.2L837.8 396.0L837.8 392.8L837.8 389.6L837.7 386.4L837.3 383.2L837.7 380.0L836.9 376.8L836.1 373.5L836.1 370.4L836.5 367.2L836.5 364.0L836.6 360.8L836.3 357.6L837.7 354.5L838.7 351.3L839.8 348.1L840.2 344.9L839.5 341.7L838.6 338.5L836.9 335.3L838.3 332.1L839.0 328.9L840.4 325.7L838.9 322.5L838.4 319.3L837.4 316.2L839.5 312.9L838.9 309.7L839.0 306.5L837.3 303.4L837.7 300.2L837.5 297.0L837.3 293.8L836.7 290.6L836.3 287.5L836.7 284.2L837.2 281.0L837.9 277.7L838.1 274.5L836.7 271.4L836.3 268.2L836.0 265.0L837.0 261.6L836.9 258.2L834.9 255.2L833.4 251.7L830.1 249.1L825.6 248.6L822.1 250.6L819.0 252.3L817.0 255.2L815.3 258.1L814.3 261.7L811.6 263.5L809.4 265.9L806.4 267.2L804.3 270.3L800.7 269.8L797.5 270.7L794.4 269.0L790.8 271.2L787.9 269.3L784.6 269.0L781.8 267.2L778.7 266.5L775.7 265.0L772.8 263.4L769.6 263.2L766.5 262.3L763.4 261.0L760.3 259.7L757.1 259.4L753.8 259.7L750.5 260.7L747.2 261.1L744.0 261.3L740.9 260.4L737.7 259.6L734.6 258.6L731.4 258.3L728.2 258.4L724.9 259.2L721.8 257.8L718.7 257.2L715.5 257.0L712.2 257.4L709.0 257.2L706.0 255.5L702.7 255.6L699.8 254.2L696.9 253.0L694.6 250.5L692.3 248.9L690.1 247.3L688.7 245.0L687.4 242.3L688.0 239.0L688.5 235.7L687.3 232.7L685.7 229.5L683.2 226.6L680.8 223.9L678.1 221.6L675.2 219.8L671.9 218.7L668.5 217.9L664.9 217.9L660.6 217.4L657.5 220.2L655.4 223.3L655.0 227.1L654.3 230.4L653.5 233.6L651.8 236.3L650.9 239.4L649.9 242.5L648.2 245.3L645.4 247.3L642.5 249.1L640.7 251.6L639.5 254.7L638.4 258.5L636.1 260.9L633.2 262.6L630.3 264.1L627.6 266.1L624.5 267.0L621.6 268.5L618.4 269.3L615.4 270.5L612.0 270.7L608.8 271.4L606.1 273.1L603.5 275.2L601.0 277.4L597.7 277.9L594.0 277.4L590.6 277.5L587.9 279.3L585.0 280.6L582.1 282.2L579.0 282.9L576.3 285.0L573.4 286.3L570.2 286.8L567.7 289.3L564.7 290.3L562.3 292.6L558.7 292.2L555.8 293.5L552.4 293.9L549.4 295.0L546.9 297.1L544.6 299.6L541.9 301.4L538.8 302.4L535.9 303.7L533.2 305.9L530.1 306.9L526.7 306.9L523.4 307.2L520.2 307.5L517.2 308.8L514.2 310.5L511.3 312.2L508.5 314.2L505.5 315.1L502.1 314.2L498.8 314.2L495.5 314.2L492.8 316.8L489.8 317.2L486.9 317.8L483.0 317.1L479.8 318.5L477.3 320.8L476.6 324.3L476.6 327.9L475.1 330.6L474.0 333.6L472.1 336.3L471.1 339.4L469.0 341.9L467.4 344.7L465.8 347.3L464.9 350.7L463.5 353.7L462.3 356.9L460.6 359.5L458.1 361.5L455.5 363.5L453.4 365.9L452.6 369.0L451.5 371.9L449.1 374.4L447.0 377.2L445.7 380.2L445.9 383.6L445.3 386.7L443.5 389.7L442.5 392.8L441.2 395.8L441.3 399.1L440.9 402.2L440.2 405.4L439.3 408.4L438.1 411.4L436.8 414.3L437.8 417.8L437.5 421.0L438.5 424.5L437.8 427.6L437.4 430.8L436.4 433.9L434.6 436.7L434.1 439.8L434.4 443.3L432.7 446.1L431.5 449.2L428.4 450.8L426.6 453.6L423.4 454.5L420.1 454.4L417.1 455.2L413.9 455.9L411.1 458.0L408.0 458.7L404.8 458.5L401.6 457.7L398.2 456.9L394.3 457.1L391.0 459.1Z" fill="none" stroke="#7ad151" stroke-width="2.8" stroke-linejoin="round"/>
<path d="M490.0 561.0L486.8 560.2L484.0 557.7L481.0 557.4L477.8 557.7L474.2 558.7L471.0 557.9L468.1 556.6L464.8 556.1L462.5 553.5L459.5 552.2L457.4 549.6L453.8 548.9L451.2 547.0L449.2 544.3L447.1 541.9L446.1 538.4L443.7 536.3L441.8 533.8L439.7 531.4L436.9 529.4L435.6 526.4L433.4 524.1L430.9 522.2L428.0 520.7L425.5 518.8L423.3 516.4L420.2 514.8L417.6 512.4L415.7 509.4L415.2 505.7L413.4 502.7L413.4 499.3L413.4 496.0L413.6 492.7L414.0 489.4L413.9 486.2L415.4 483.0L415.6 479.9L415.3 476.8L414.5 473.5L415.6 470.6L417.9 468.5L420.2 466.9L422.4 465.1L425.1 464.2L428.2 464.4L431.3 463.4L434.4 462.3L437.9 461.9L441.1 460.2L443.5 457.6L445.0 454.5L445.8 451.3L446.9 448.3L447.2 445.0L449.8 442.5L449.4 439.1L449.3 436.2L446.4 433.4L446.3 429.5L448.3 426.2L450.6 423.5L452.6 420.7L452.6 417.3L453.0 414.1L454.5 411.2L455.8 408.3L457.2 405.4L458.9 402.6L460.1 399.7L461.3 396.7L460.8 393.1L462.7 390.4L463.2 387.1L464.8 384.3L464.9 380.6L466.9 378.0L468.8 375.4L470.1 372.5L471.0 369.5L473.5 367.3L475.3 364.7L476.1 361.6L475.3 358.2L476.1 355.3L476.3 352.2L477.5 349.2L477.6 345.9L479.8 343.0L480.5 339.7L483.4 337.3L485.4 334.7L488.0 333.1L490.7 331.8L493.8 331.7L496.9 331.0L500.1 330.8L503.2 329.8L506.6 330.3L509.5 328.7L512.6 327.7L515.8 327.2L518.9 326.4L521.9 325.4L525.0 324.3L527.9 323.0L530.9 321.3L534.0 320.6L537.3 320.8L540.8 321.9L543.8 320.8L546.8 319.2L549.9 318.2L553.0 317.8L556.4 318.5L559.6 318.0L562.8 317.6L566.0 317.3L569.0 316.1L572.2 315.6L575.1 314.0L578.3 313.4L581.4 312.9L584.6 312.3L587.7 311.4L590.8 310.1L594.0 310.4L597.4 311.6L600.7 312.1L604.0 312.2L606.9 310.3L610.1 309.8L613.3 309.8L616.7 310.9L620.0 311.2L623.1 310.2L626.2 309.8L629.5 309.6L632.6 308.9L635.9 309.6L639.0 308.3L642.2 307.8L645.3 306.7L648.3 305.5L651.5 304.6L654.2 302.8L657.1 301.2L660.1 299.6L663.7 298.9L667.2 299.7L670.5 300.8L673.2 302.9L675.9 304.7L678.7 306.5L681.7 307.9L683.8 310.3L686.3 312.3L689.0 314.2L691.4 316.7L692.5 320.0L694.3 322.6L696.9 324.4L699.7 325.8L702.2 328.4L705.3 329.7L708.4 330.5L711.9 329.4L715.2 329.4L718.4 329.9L721.5 330.7L724.5 331.9L727.4 333.2L730.0 335.1L732.3 337.3L734.0 340.2L734.7 343.4L733.2 346.7L731.1 349.6L729.6 352.4L729.7 355.6L729.6 358.8L729.5 362.0L728.9 365.2L729.0 368.6L727.6 371.5L727.0 374.7L724.7 377.1L722.2 379.2L719.6 381.1L717.3 383.4L715.2 386.0L713.0 388.8L710.8 392.3L710.9 396.3L711.6 400.1L714.1 402.8L716.3 405.4L718.5 408.0L719.5 411.0L721.3 413.8L722.6 417.7L720.9 421.8L717.1 422.8L714.0 423.8L711.1 425.0L709.8 427.8L710.5 431.4L712.7 434.0L715.5 435.8L717.3 438.3L719.7 440.3L721.1 443.2L721.0 446.4L717.4 448.0L714.2 449.1L712.1 451.2L710.5 454.0L709.4 457.5L707.3 459.9L705.2 462.4L702.9 464.7L700.4 466.9L699.0 470.0L697.3 472.7L695.7 475.5L694.5 478.5L693.3 481.5L692.6 484.8L691.8 487.9L691.1 491.0L690.7 494.2L690.3 497.3L690.4 500.5L690.8 503.6L691.9 506.6L691.9 510.0L694.0 512.6L694.3 516.0L696.9 518.3L698.2 521.2L700.0 524.0L701.1 527.2L700.8 530.6L699.3 533.6L697.3 536.2L695.6 538.9L694.1 541.7L693.1 545.3L690.0 546.8L687.5 548.9L684.4 550.1L681.8 552.1L678.5 552.5L675.3 552.9L672.2 553.2L669.0 552.9L665.8 552.1L662.6 552.0L659.5 553.5L656.2 555.2L652.9 556.0L649.7 555.7L646.6 554.2L643.7 552.3L640.6 551.5L637.8 550.3L634.4 549.9L631.5 548.4L629.3 546.0L627.1 543.6L625.9 540.5L623.5 538.2L622.6 535.0L621.0 532.3L620.6 529.1L620.7 525.8L620.3 522.6L619.3 519.6L616.8 516.9L614.9 514.2L614.4 510.9L612.1 508.5L611.9 504.6L609.1 502.5L607.1 499.6L603.7 498.7L600.4 497.9L597.5 496.4L594.5 495.4L591.3 494.5L588.0 494.7L584.8 495.3L581.9 496.3L579.1 497.7L576.5 499.5L574.0 501.3L571.6 503.4L569.4 505.8L567.6 508.5L565.3 510.6L563.0 512.9L560.6 515.1L558.3 517.5L556.6 520.2L555.4 523.2L553.4 525.7L551.0 527.8L548.1 529.3L546.2 531.5L544.9 534.5L542.7 536.6L540.3 538.5L537.3 539.7L535.4 542.5L533.1 544.8L530.4 546.6L527.2 547.3L524.6 549.2L521.9 550.9L519.0 552.4L516.3 554.2L513.6 556.0L510.8 557.9L507.6 558.5L504.4 558.9L501.0 558.9L497.8 559.2L494.7 559.8L491.6 560.8Z" fill="none" stroke="#22a884" stroke-width="2.8" stroke-linejoin="round"/>
<path d="M461.0 411.4L462.8 408.7L463.5 405.6L465.4 403.1L467.3 400.5L469.9 398.4L471.4 395.6L472.9 392.8L475.0 390.4L476.7 387.7L478.4 385.1L480.0 382.4L481.5 379.5L483.6 377.1L484.9 374.1L486.9 371.6L488.8 369.0L491.3 366.9L493.7 364.8L496.0 362.4L498.6 360.3L501.5 358.9L504.6 357.9L507.4 356.1L510.2 354.5L513.4 353.8L517.1 354.4L520.7 354.7L524.3 354.9L526.8 352.8L529.3 350.5L531.6 347.6L534.6 346.5L537.7 345.5L541.0 345.2L543.8 343.7L546.9 342.9L549.7 341.1L552.6 339.8L555.1 337.2L558.2 336.2L561.4 335.8L564.6 335.2L567.8 334.9L570.9 334.0L574.4 334.6L577.6 334.0L580.8 334.0L583.9 333.0L586.8 331.4L589.8 330.5L592.9 329.8L596.0 328.9L599.1 328.0L602.2 327.6L605.3 326.8L608.3 325.1L611.3 323.6L614.4 322.1L617.7 321.8L620.9 321.6L624.3 322.0L627.6 321.4L630.9 322.4L634.3 323.1L637.2 325.0L640.5 325.8L643.5 327.4L645.8 329.7L648.6 331.3L650.8 333.8L653.6 335.3L655.8 337.7L659.2 338.5L661.9 340.3L664.7 341.9L666.9 344.3L670.5 345.0L673.5 346.3L676.4 348.0L678.2 351.0L681.0 352.8L684.0 354.5L686.5 356.9L688.2 360.0L689.5 363.3L690.8 366.8L691.4 370.4L690.7 373.9L691.8 377.3L690.1 380.4L689.2 383.6L686.6 386.0L685.1 388.7L683.2 391.3L681.4 394.0L680.2 397.0L677.7 399.4L676.5 402.5L677.3 406.4L678.3 409.8L678.3 412.9L676.7 415.9L676.2 419.1L674.4 421.8L672.2 423.9L669.4 425.2L667.0 427.4L664.5 429.8L661.5 430.9L658.4 432.1L655.3 432.7L652.5 434.7L649.1 434.7L646.2 436.1L642.8 435.9L639.8 437.0L636.1 435.3L633.3 437.4L630.1 437.8L627.3 439.6L624.0 439.7L621.2 441.4L618.4 443.0L615.6 444.0L613.1 445.2L611.2 447.2L611.8 450.2L612.2 453.7L611.1 457.6L607.5 459.7L604.0 460.6L600.6 461.2L598.1 463.3L596.4 466.6L593.6 468.1L590.6 469.3L586.9 469.3L584.9 472.3L582.1 473.8L579.8 476.3L576.8 477.5L574.5 479.8L571.5 481.1L568.1 481.7L565.2 483.0L562.5 484.8L560.9 488.4L557.5 488.9L554.4 489.9L551.1 489.8L548.2 491.1L545.0 491.5L541.4 490.8L538.0 492.7L535.9 496.1L535.7 499.8L535.6 503.3L536.6 506.4L538.1 509.3L538.8 512.4L538.1 515.6L537.0 519.0L536.9 522.2L538.0 525.2L539.2 528.1L538.6 530.8L536.8 532.9L536.0 535.4L534.9 538.3L533.3 541.2L530.7 543.1L527.8 544.5L525.0 546.0L522.0 547.1L519.1 548.3L515.8 548.5L513.2 550.7L510.2 551.9L507.3 553.6L503.9 553.1L500.8 553.7L497.3 552.7L494.0 552.7L490.8 552.5L487.9 554.3L484.8 555.0L481.8 555.8L478.7 555.7L475.5 557.0L472.2 557.3L468.6 557.7L465.9 555.4L463.4 553.2L460.9 551.1L458.1 549.5L455.8 547.3L453.1 545.5L450.8 543.3L448.3 541.2L446.1 538.8L443.3 536.7L441.6 533.9L440.3 530.9L438.8 528.0L436.6 525.5L435.5 522.5L435.7 518.8L434.7 515.8L434.4 512.4L432.0 509.7L431.9 506.3L432.3 502.8L434.4 500.0L436.7 497.7L439.0 495.4L441.3 493.1L443.9 490.9L446.0 488.9L448.3 487.4L451.6 486.1L453.7 483.7L455.5 481.0L456.6 478.0L458.9 475.6L461.3 473.3L463.0 470.5L464.5 467.7L464.6 464.1L465.8 461.1L467.2 458.3L469.7 455.9L470.8 452.8L470.7 449.4L470.3 446.0L471.4 443.1L471.9 440.1L473.4 437.0L472.6 433.8L472.7 430.6L470.2 427.9L469.9 424.8L469.7 421.6L469.5 418.0L467.0 415.1L463.9 413.8L462.1 413.6L461.6 412.0Z" fill="none" stroke="#2a788e" stroke-width="2.8" stroke-linejoin="round"/>
<path d="M700.1 330.0L701.5 327.2L703.4 324.5L706.5 323.5L709.3 322.1L712.9 322.6L715.7 321.3L718.7 320.6L721.5 318.6L724.6 317.7L727.7 317.0L731.0 317.5L734.1 316.8L737.3 316.4L740.4 316.4L743.5 316.7L746.6 316.7L749.9 315.6L753.2 315.2L756.3 316.1L759.2 317.5L762.1 319.5L765.3 319.8L768.3 321.0L771.7 320.7L774.6 322.4L777.6 324.1L780.9 325.0L784.2 325.1L787.6 323.4L790.9 322.5L794.0 321.3L797.2 320.9L800.1 319.6L803.0 318.0L805.6 316.0L808.5 314.8L811.5 313.6L814.7 312.9L817.4 311.2L820.2 309.5L823.1 308.0L826.3 306.8L829.9 306.9L833.4 308.2L834.6 311.7L834.4 315.2L834.4 318.4L834.7 321.4L836.0 324.3L837.6 327.2L838.2 330.3L838.2 333.5L837.3 336.8L837.3 339.9L837.3 343.1L838.4 346.2L839.7 349.4L841.2 352.6L841.6 355.8L841.5 359.1L840.6 362.2L841.5 365.5L841.6 368.7L843.2 372.1L841.7 375.2L841.7 378.4L840.3 381.6L841.6 385.0L840.2 388.1L840.1 391.4L838.6 394.5L837.3 397.5L835.8 400.5L833.6 403.1L831.8 405.8L829.2 408.0L826.0 409.1L822.7 409.6L819.5 408.9L816.3 408.6L813.1 408.5L809.9 408.8L806.8 409.1L803.5 408.5L800.8 410.2L798.1 411.8L795.6 413.8L792.6 415.1L790.2 417.2L788.0 419.6L786.3 422.3L783.6 424.1L781.9 426.9L779.5 429.1L777.2 431.3L774.2 433.0L771.4 434.9L770.1 438.0L768.5 440.8L767.0 443.7L764.5 446.0L762.8 448.8L761.1 451.6L761.8 455.4L761.8 458.9L762.3 462.6L760.9 465.6L758.9 468.3L756.0 470.4L753.3 472.6L751.1 475.1L748.8 477.5L747.9 480.6L745.9 483.2L745.1 486.3L742.8 488.6L742.3 492.0L740.0 494.3L737.8 496.3L735.6 497.8L733.3 498.1L730.6 498.3L727.6 497.6L724.4 496.4L722.0 494.2L720.2 491.5L717.9 489.1L717.1 485.9L715.3 483.1L713.3 480.1L712.5 476.5L714.2 473.3L718.1 470.9L717.9 467.6L718.0 464.3L717.3 460.6L719.3 457.9L720.0 454.8L720.9 451.8L721.6 448.7L722.3 445.8L723.2 442.8L723.7 439.8L724.4 436.7L723.4 433.6L723.1 430.5L721.5 427.6L721.3 424.3L719.9 421.5L719.9 418.0L717.4 415.5L716.9 412.3L715.0 409.5L714.9 406.2L713.0 403.0L712.3 399.4L713.1 395.7L715.2 392.7L717.9 390.3L719.1 387.1L720.4 384.0L722.4 381.5L724.9 379.7L727.7 377.9L728.8 375.2L728.7 372.3L728.7 369.4L728.2 366.3L727.2 363.1L724.0 361.5L722.3 358.9L720.3 356.4L718.3 353.8L715.5 352.1L714.0 349.1L712.3 346.3L710.7 343.4L708.0 341.6L705.7 339.5L702.7 337.8L700.7 335.1L699.6 332.0Z" fill="none" stroke="#22a884" stroke-width="2.8" stroke-linejoin="round"/>
<path d="M505.3 492.2L507.5 490.2L510.3 489.2L513.3 488.6L516.3 488.7L518.9 490.0L521.1 491.7L523.2 493.8L525.9 495.4L528.0 497.7L530.8 499.5L532.9 502.0L535.0 504.5L536.3 507.6L536.7 511.0L536.8 514.4L535.4 517.5L533.8 520.5L532.1 523.3L529.8 525.8L527.1 527.7L524.1 529.1L521.1 530.5L517.7 530.9L514.6 529.5L512.6 527.0L510.9 524.4L509.3 521.8L507.7 519.0L508.4 515.7L509.4 512.6L511.0 510.1L510.7 507.3L510.4 504.2L508.3 501.8L507.2 498.8L505.6 496.0L505.2 492.7Z" fill="none" stroke="#414487" stroke-width="2.4" stroke-linejoin="round"/>
<path d="M511.8 501.2L515.0 501.5L518.1 502.0L521.2 502.2L524.0 503.4L525.9 505.9L526.6 509.0L526.9 512.0L526.2 514.9L523.7 516.9L520.9 518.3L518.0 519.7" fill="none" stroke="#414487" stroke-width="2.4" stroke-linejoin="round"/>
<path d="M780.1 492.2L782.7 490.4L785.7 489.1L788.7 490.4L790.9 491.3L792.4 493.2L794.1 495.7L794.3 498.8L793.6 501.9L794.5 504.9L793.9 507.8L793.2 510.8L791.3 513.5L791.5 516.8L791.0 519.9L790.4 523.0L787.9 524.5L784.8 523.1L781.9 521.1L780.5 517.9L779.6 514.6L779.1 511.4L777.0 508.4L776.7 505.1L776.8 501.8L778.0 498.5L778.8 495.3L780.0 492.4Z" fill="none" stroke="#fde725" stroke-width="2.8" stroke-linejoin="round"/>
<path d="M796.9 484.5L800.6 482.9L804.3 482.7L807.7 483.6L811.0 484.2L814.2 485.2L816.8 487.5L819.7 489.2L822.3 491.4L824.7 493.9L825.1 497.4L824.9 500.7L824.8 503.8L824.2 506.8L825.1 510.0L825.3 513.1L825.4 516.3L824.3 519.4L823.1 522.4L822.4 525.5L822.7 528.8L822.3 531.9L822.3 535.2L820.6 538.1L819.5 541.0L818.7 544.1L817.9 547.1L818.2 550.6L816.0 553.0L814.6 555.5L812.0 555.5L809.1 555.5L807.0 553.2L804.9 551.0L802.6 548.5L801.5 545.3L801.6 541.9L802.6 538.7L803.3 535.6L802.9 532.3L803.2 529.1L803.3 526.0L804.2 523.1L803.2 520.4L803.0 517.8L802.0 515.2L800.8 512.2L798.1 510.2L795.2 507.6L793.5 504.2L792.9 500.8L793.2 497.3L793.8 493.9L794.3 490.5L795.6 487.2Z" fill="none" stroke="#fde725" stroke-width="2.8" stroke-linejoin="round"/>
<path d="M767.9 523.9L769.0 520.8L772.1 519.4L775.3 519.7L778.5 520.6L780.2 523.5L781.1 526.7L780.9 530.0L781.0 533.2L781.2 536.4L781.1 539.6L781.6 542.8L781.3 546.0L781.3 549.3L780.8 552.5L780.4 555.7L779.3 558.8L777.8 561.7L776.4 564.5L773.8 566.1L770.7 565.5L769.8 562.5L769.4 559.5L769.0 556.5L767.9 553.4L767.8 550.3L767.7 547.1L768.0 543.9L767.7 540.7L767.8 537.5L767.3 534.3L767.2 531.1L767.8 528.0L768.0 524.8Z" fill="none" stroke="#fde725" stroke-width="2.8" stroke-linejoin="round"/>
<path d="M789.0 569.6L791.4 568.1L794.1 567.0L797.1 564.9L800.3 564.4L803.6 564.8L806.7 565.9L809.8 566.8L813.0 567.1L816.3 567.4L819.2 569.0L821.7 571.2L823.4 573.8L824.4 576.1L825.6 578.4L826.8 581.3L828.4 584.7L828.2 588.3L826.1 591.7L822.2 592.5L818.7 592.3L815.3 592.5L812.1 591.6L809.3 589.7L806.4 588.3L803.4 587.3L799.9 587.8L797.1 586.0L793.6 586.0L791.1 583.6L789.2 580.9L788.8 577.6L789.2 574.5L788.4 571.9L789.3 569.3Z" fill="none" stroke="#fde725" stroke-width="2.8" stroke-linejoin="round"/>
<path d="M772.1 327.4L775.2 326.0L778.5 325.0L781.9 325.2L785.2 325.8L788.4 325.6L791.6 324.8L794.8 324.7L798.0 325.4L801.2 325.7L804.4 326.2L807.6 326.3L810.8 327.0L813.9 327.8L816.9 328.8L820.0 329.3L823.4 329.1L826.2 330.6L828.5 332.7L829.5 335.7L830.0 338.8L830.4 342.0L829.6 345.1L829.0 348.1L827.4 350.7L826.0 353.4L823.4 354.9L820.2 355.1L817.0 354.7L813.9 353.8L810.8 353.3L807.6 353.1L804.3 353.5L801.1 353.2L798.1 352.0L794.9 351.8L791.7 351.9L788.4 351.9L785.2 351.7L781.5 352.4L777.9 351.1L774.8 348.6L773.1 345.3L771.6 342.2L770.1 339.0L769.4 335.5L768.4 331.4L770.4 328.0Z" fill="none" stroke="#fde725" stroke-width="2.8" stroke-linejoin="round"/>
<path d="M799.7 402.4L801.1 400.4L803.3 398.5L806.4 398.7L809.5 398.7L812.6 399.6L815.6 399.7L818.9 399.5L821.9 400.3L825.2 401.2L828.5 403.0L830.0 406.4L830.1 410.0L830.0 413.3L830.7 416.7L830.1 420.0L828.4 423.0L825.9 425.2L823.3 426.5L820.4 427.5L817.1 428.7L813.8 428.4L810.6 427.0L808.3 424.4L806.7 421.6L806.0 418.4L804.0 415.9L802.5 413.2L800.1 410.8L799.3 407.7L799.2 404.5L800.0 401.4Z" fill="none" stroke="#fde725" stroke-width="2.8" stroke-linejoin="round"/>
<path d="M640.2 540.8L642.9 541.1L645.9 541.8L649.1 542.6L651.8 544.5L653.4 547.5L655.5 549.8L657.5 552.2L659.6 554.6L660.6 557.5L661.2 560.3L660.5 562.7L658.1 564.2L655.3 566.2L652.1 566.7L648.7 567.2L645.7 565.6L642.9 563.9L640.5 561.8L638.1 559.7L636.4 557.0L635.8 553.9L636.0 550.7L636.3 547.5L637.2 544.5L638.5 541.6Z" fill="none" stroke="#fde725" stroke-width="2.8" stroke-linejoin="round"/>
<path d="M704.9 571.9L707.1 569.8L709.9 568.2L713.1 567.8L716.5 567.5L718.8 570.1L721.2 572.5L722.2 575.7L723.3 579.2L721.7 582.5L719.3 585.2L716.2 587.1L712.2 587.8L709.5 584.9L708.0 581.8L706.8 578.8L705.3 576.0L704.8 572.8Z" fill="none" stroke="#fde725" stroke-width="2.8" stroke-linejoin="round"/>
<path d="M771.2 549.2L774.2 547.1L777.5 546.2L780.8 545.7L784.2 545.4L787.6 545.9L791.0 546.7L793.9 548.6L796.8 550.7L798.6 554.2L797.8 558.1L795.1 560.9L791.8 562.4L788.3 562.6L785.0 562.7L781.7 562.6L778.4 562.0L775.3 560.5L773.1 557.8L771.7 554.8L770.6 551.6Z" fill="none" stroke="#7ad151" stroke-width="2.8" stroke-linejoin="round"/>
<path d="M735.3 330.2L736.9 327.4L739.4 325.5L742.0 323.4L745.0 322.0L748.1 321.1L751.4 321.3L754.7 321.8L757.9 321.3L761.1 321.0L764.4 319.8L767.4 321.7L770.5 322.8L773.2 324.6L776.4 324.8L778.8 326.8L782.1 327.5L784.5 329.5L787.9 330.3L790.1 332.7L793.6 333.3L796.1 335.5L799.4 336.1L801.2 339.0L803.5 341.1L806.0 343.9L809.2 345.1L812.4 344.9L815.8 344.4L818.8 345.7L821.9 347.3L822.6 350.9L824.4 353.6L824.2 357.0L826.7 359.6L828.1 362.7L829.1 365.8L829.2 369.1L828.8 372.4L829.6 375.5L829.9 378.7L829.8 382.0L828.2 385.3L827.3 388.5L827.7 391.7L828.6 394.8L829.4 398.0L830.7 401.2L831.7 404.4L832.3 407.6L832.4 410.8L833.5 414.0L834.3 417.2L835.1 420.5L834.2 423.7L833.7 426.9L832.2 430.1L830.8 433.3L829.6 436.4L827.8 439.6L828.9 442.8L828.8 446.0L828.7 449.2L827.1 452.3L826.7 455.5L827.3 458.8L826.9 461.9L826.5 465.1L825.9 468.2L824.5 471.0L823.1 473.3L821.3 474.5L818.9 474.2L815.8 473.3L813.3 471.3L810.1 470.0L808.3 467.2L806.0 465.1L803.2 463.8L800.3 463.5L797.5 463.5L794.3 463.2L791.4 464.5L788.9 466.8L786.0 468.1L782.3 467.7L778.9 467.5L776.0 468.4L773.1 469.6L770.0 469.8L766.9 469.0L764.1 467.4L761.4 465.8L759.1 463.5L756.6 461.7L753.9 459.9L750.9 458.1L748.8 455.5L747.4 452.4L746.6 449.0L745.4 445.7L745.9 442.3L747.1 439.1L748.3 436.0L749.1 432.9L749.4 429.7L750.8 426.8L750.5 423.5L751.3 420.4L750.9 417.3L751.3 414.2L750.2 411.2L750.0 408.0L749.4 404.8L748.6 401.7L746.4 399.2L745.5 396.1L744.5 393.0L745.1 389.4L743.8 386.5L742.9 383.6L740.2 381.0L739.2 377.9L739.9 374.5L739.2 371.4L737.6 368.5L735.2 365.7L734.8 362.5L734.3 359.3L734.7 356.0L734.6 352.8L734.7 349.5L733.3 346.5L732.5 343.3L733.0 340.0L733.8 336.9L735.1 334.0L735.6 330.9Z" fill="none" stroke="#7ad151" stroke-width="2.8" stroke-linejoin="round"/>
<path d="M705.1 469.6L706.9 466.6L709.8 464.8L713.2 464.4L716.0 463.0L719.1 461.9L722.3 461.2L725.4 462.2L728.6 462.9L731.5 464.4L734.3 466.2L736.8 468.4L738.6 471.1L740.0 474.1L740.5 477.2L740.5 480.0L740.8 482.8L739.7 485.7L739.3 489.0L737.6 491.7L736.7 494.9L735.2 497.9L734.8 501.5L735.5 505.0L737.5 507.8L739.8 510.1L741.9 512.6L743.6 515.2L744.7 518.1L744.6 521.2L742.7 523.8L740.2 525.8L737.7 527.7L735.3 529.8L732.2 530.8L729.2 531.5L726.3 530.4L723.7 529.2L721.0 528.0L718.4 526.5L714.9 525.6L713.1 522.9L710.6 520.2L710.9 516.7L710.9 513.3L713.1 510.5L714.0 507.4L715.0 504.3L715.5 501.2L716.2 498.0L716.8 494.7L716.1 491.5L714.8 488.4L713.0 485.7L711.3 482.9L710.1 480.0L708.5 477.2L706.8 474.5L705.8 471.5Z" fill="none" stroke="#7ad151" stroke-width="2.8" stroke-linejoin="round"/>
<path d="M610.8 470.5L612.3 468.0L615.1 466.6L617.9 465.1L621.0 464.7L624.2 464.1L627.4 463.9L630.5 464.9L633.4 466.2L636.1 467.8L638.5 470.0L640.4 472.6L640.1 475.8L639.6 479.0L637.8 481.8L636.2 484.7L633.5 486.6L630.6 487.9L627.5 488.8L624.3 489.4L621.0 489.6L617.9 488.4L615.8 485.9L614.6 482.9L613.0 480.1L612.0 477.2L610.5 474.4L610.2 471.3Z" fill="none" stroke="#22a884" stroke-width="2.8" stroke-linejoin="round"/>
<path d="M678.5 451.1L681.3 448.4L684.8 447.5L688.1 447.1L691.3 446.6L694.5 446.4L697.6 447.0L700.6 447.2L703.5 448.1L706.8 448.3L709.4 450.2L712.0 451.8L713.7 454.3L715.5 456.6L715.5 459.6L714.5 462.4L713.1 465.2L711.8 468.1L710.0 470.8L707.5 472.9L704.0 472.1L700.9 472.8L697.8 472.2L694.6 472.5L691.8 470.8L688.7 470.2L686.0 468.5L684.0 466.0L683.3 462.7L681.8 459.9L680.1 457.2L678.2 454.1Z" fill="none" stroke="#22a884" stroke-width="2.8" stroke-linejoin="round"/>
<path d="M519.8 507.8L522.5 506.0L525.6 505.3L528.7 504.9L531.8 505.3L534.9 506.2L537.1 508.7L539.2 511.2L540.8 514.0L542.4 516.8L543.5 519.9L544.3 523.1L544.6 526.5L543.2 530.0L540.5 532.4L536.6 533.5L533.5 531.1L531.7 528.4L529.8 525.8L527.3 524.0L524.2 523.8L520.8 523.6L519.1 520.6L518.6 517.4L518.4 514.1L518.5 510.8Z" fill="none" stroke="#414487" stroke-width="2.2" stroke-linejoin="round"/>
<path d="M497.6 511.8L499.8 509.3L502.9 508.1L505.9 508.3L508.3 510.3L510.2 513.0L511.4 516.6L509.3 519.7L506.6 522.2L503.2 521.7L501.0 519.3L499.7 516.3L498.4 513.5Z" fill="none" stroke="#414487" stroke-width="2.2" stroke-linejoin="round"/>
<path d="M523.9 487.9L526.6 486.2L529.7 485.6L533.0 485.4L535.6 487.3L537.2 490.1L538.0 493.1L536.5 495.6L533.7 497.0L531.0 497.0L528.9 495.7L526.7 493.7L524.5 491.2L523.6 488.2Z" fill="none" stroke="#414487" stroke-width="2.2" stroke-linejoin="round"/>
<path d="M340.1 145.7L339.6 148.4L337.7 150.1L335.5 151.4L333.5 153.4L330.9 154.8L328.0 155.3L325.2 154.5L322.6 153.5L320.7 151.6L320.6 148.8L321.7 146.1L323.9 144.0L326.6 142.6L329.5 141.6L332.6 141.4L335.5 142.0L337.8 143.5L339.7 145.5Z" fill="none" stroke="#fde725" stroke-width="2.8" stroke-linejoin="round"/>
<path d="M424.9 208.8L424.2 212.7L422.1 215.7L419.5 217.8L416.8 219.8L413.8 221.0L410.5 221.5L407.4 222.5L404.4 223.5L401.4 224.5L398.1 225.1L395.0 223.9L393.7 220.7L395.7 217.7L398.1 215.5L400.8 213.8L403.3 211.7L405.8 209.5L408.9 208.4L412.1 207.4L415.3 206.6L418.7 205.9L422.3 206.5Z" fill="none" stroke="#fde725" stroke-width="2.8" stroke-linejoin="round"/>
<path d="M327.8 246.8L326.0 250.2L321.7 250.8L318.3 247.5L319.8 242.8L324.4 242.2L327.4 244.6Z" fill="none" stroke="#fde725" stroke-width="2.8" stroke-linejoin="round"/>
<path d="M294.8 432.7L295.3 435.5L292.6 436.7L291.6 433.9L292.1 431.6L293.4 431.1L294.5 431.2Z" fill="none" stroke="#fde725" stroke-width="2.8" stroke-linejoin="round"/>
<path d="M260.3 523.1L259.5 526.6L255.9 527.7L253.4 525.2L253.3 522.0L254.8 519.2L258.0 519.4L260.2 521.6Z" fill="none" stroke="#fde725" stroke-width="2.8" stroke-linejoin="round"/>
<path d="M393.5 536.6L393.6 539.8L391.9 542.6L389.2 544.3L386.6 546.3L383.7 547.9L380.4 548.4L377.2 548.7L373.9 549.2L370.6 549.0L367.3 548.2L364.1 547.1L361.1 545.6L358.1 543.8L356.4 540.7L354.2 538.0L353.4 534.5L354.2 531.0L355.9 528.0L358.6 526.1L361.1 523.8L364.1 522.5L367.4 522.3L370.7 522.4L373.8 523.1L376.8 524.1L379.8 524.5L382.6 525.4L385.8 525.6L388.5 527.3L390.5 529.5L391.5 532.3L392.3 534.8Z" fill="none" stroke="#fde725" stroke-width="2.8" stroke-linejoin="round"/>
<path d="M431.8 557.1L429.5 559.1L426.5 559.6L423.2 560.1L420.1 559.1L416.8 557.9L414.4 555.5L413.0 552.3L412.6 548.9L413.3 545.7L414.9 542.6L418.2 541.5L421.5 542.2L424.4 543.2L427.0 545.0L429.5 546.7L431.1 549.3L432.4 552.0L433.0 555.1Z" fill="none" stroke="#fde725" stroke-width="2.8" stroke-linejoin="round"/>
<path d="M598.9 605.9L597.0 608.7L596.8 611.6L596.2 614.4L595.8 617.8L593.4 619.9L591.6 622.5L588.5 623.6L586.0 625.7L583.0 626.9L579.8 627.4L576.5 628.5L573.2 627.3L569.9 626.7L567.0 625.2L564.1 623.4L561.6 621.3L559.5 618.7L558.1 615.7L556.6 612.8L555.7 609.6L554.2 606.3L554.6 602.9L554.9 599.4L556.9 596.4L558.5 593.4L561.4 591.4L563.6 589.0L566.6 587.5L569.7 586.5L572.9 586.1L576.1 587.2L579.0 587.7L581.8 588.2L584.8 587.8L587.7 588.8L590.4 590.1L592.6 592.2L594.6 594.4L596.0 597.0L598.1 599.3L600.0 602.1L599.8 605.4Z" fill="none" stroke="#fde725" stroke-width="2.8" stroke-linejoin="round"/>
<path d="M609.3 549.9L610.3 553.1L608.9 556.1L607.3 558.7L604.7 560.4L602.2 562.1L599.1 561.9L596.5 562.4L594.3 561.4L592.4 560.5L591.2 558.7L590.9 556.3L591.6 553.6L593.3 551.2L595.4 548.9L598.0 546.7L601.3 546.4L604.5 546.8L607.4 548.2Z" fill="none" stroke="#fde725" stroke-width="2.8" stroke-linejoin="round"/>
<path d="M600.6 576.1L598.4 579.3L594.9 581.1L590.9 579.7L589.0 575.7L591.8 572.6L595.3 571.7L598.6 573.1Z" fill="none" stroke="#fde725" stroke-width="2.8" stroke-linejoin="round"/>
<path d="M447.2 632.2L449.6 630.4L452.4 629.8L455.1 630.2L456.7 632.6L457.7 635.4L458.8 638.3L460.4 641.1L462.3 643.8L464.3 646.4L466.2 649.1L467.5 652.0L468.7 655.0L470.2 657.9L471.0 661.0L472.6 663.7L473.4 666.8L474.7 669.7L475.7 672.9L476.6 676.1L475.2 679.2L473.4 682.0L470.3 683.2L466.7 682.9L464.4 680.2L462.2 677.8L460.8 674.8L459.8 671.7L459.4 668.4L457.8 665.6L456.0 662.9L454.1 660.2L452.8 657.3L451.5 654.4L450.0 651.5L449.5 648.2L449.3 645.0L448.5 641.9L448.2 638.7L447.4 635.7L447.5 632.6Z" fill="none" stroke="#fde725" stroke-width="2.8" stroke-linejoin="round"/>
<path d="M440.9 698.9L440.2 702.0L437.8 704.3L434.8 705.3L431.8 706.7L428.4 706.6L425.1 705.6L424.0 702.5L424.3 700.0L426.4 698.3L428.8 696.6L431.8 696.6L434.6 696.4L437.3 696.8L440.1 697.9Z" fill="none" stroke="#fde725" stroke-width="2.8" stroke-linejoin="round"/>
<path d="M405.5 707.1L406.0 710.3L404.2 713.1L402.4 715.8L399.7 717.7L397.2 719.6L394.9 720.3L395.3 718.4L397.0 716.1L398.9 713.7L400.8 711.3L403.0 709.3L405.5 707.8Z" fill="none" stroke="#fde725" stroke-width="2.8" stroke-linejoin="round"/>
<path d="M387.8 712.7L386.7 714.1L385.5 714.3L385.2 712.4L386.3 710.7L387.8 712.5Z" fill="none" stroke="#fde725" stroke-width="2.8" stroke-linejoin="round"/>
<path d="M531.0 679.3L530.3 681.9L528.6 684.4L525.7 683.5L523.8 681.4L523.9 678.6L525.1 676.2L527.5 675.5L529.9 676.2L530.6 679.0Z" fill="none" stroke="#fde725" stroke-width="2.8" stroke-linejoin="round"/>
<path d="M350.7 729.5L350.3 732.7L349.4 736.4L345.3 737.5L344.0 733.5L344.5 730.1L345.3 726.9L346.0 723.6L348.4 720.6L351.4 722.6L351.0 726.2L350.4 729.4Z" fill="none" stroke="#fde725" stroke-width="2.8" stroke-linejoin="round"/>
<path d="M773.6 807.1L772.6 809.9L771.2 812.4L769.0 814.2L766.5 812.7L765.9 809.6L766.0 806.6L766.4 803.5L767.5 800.5L770.1 798.3L773.2 799.5L773.8 802.6L773.7 805.7Z" fill="none" stroke="#fde725" stroke-width="2.8" stroke-linejoin="round"/>
<path d="M796.6 830.2L796.0 826.0L799.1 823.6L802.1 822.2L804.7 820.3L806.6 817.6L808.5 815.0L810.3 812.3L811.7 809.4L813.4 806.8L815.7 804.7L817.2 801.9L818.5 799.0L820.5 796.4L822.9 794.1L824.6 791.4L826.3 788.7L828.9 788.8L829.6 791.9L830.4 794.9L830.7 798.0L831.3 801.1L832.7 804.2L833.6 807.3L834.2 810.4L833.5 813.7L834.9 816.8L835.2 820.0L836.6 823.3L836.0 826.7L835.3 830.3L832.5 832.9L829.2 834.4L825.9 835.3L822.5 835.1L819.2 835.1L816.1 833.7L812.8 834.0L809.7 833.0L806.3 833.3L803.1 832.7L800.0 831.6Z" fill="none" stroke="#fde725" stroke-width="2.8" stroke-linejoin="round"/>
<path d="M468.6 611.6L471.1 607.1L473.6 603.8L477.5 603.0L480.6 601.6L483.7 600.5L486.8 599.3L489.8 598.1L492.3 596.1L495.5 595.3L498.4 594.0L501.0 592.0L503.6 590.1L506.8 589.2L510.1 588.9L512.9 588.0L515.4 585.8L518.5 585.9L521.7 585.0L524.9 585.3L527.9 586.4L530.5 588.5L532.8 590.7L535.7 591.6L538.6 592.8L541.5 594.3L544.9 595.5L547.3 597.9L548.6 601.1L548.9 604.5L550.5 607.4L552.5 610.1L552.7 613.3L553.4 616.5L553.2 620.0L553.5 623.1L553.6 625.8L554.2 628.5L553.6 631.4L553.0 634.5L551.0 637.0L549.7 640.1L546.8 641.8L544.6 644.1L542.1 646.0L539.2 647.5L536.3 648.8L533.3 650.1L530.0 650.4L526.7 649.9L524.6 647.0L521.9 645.5L520.2 642.5L517.1 641.1L514.8 638.9L511.4 638.1L508.8 636.3L506.8 633.6L504.3 631.6L500.9 630.8L497.5 630.4L494.9 628.7L492.6 626.1L489.6 624.9L486.2 624.5L482.8 623.8L479.7 622.5L476.6 621.2L473.5 619.4L470.9 616.1Z" fill="none" stroke="#fde725" stroke-width="2.8" stroke-linejoin="round"/>
<path d="M486.4 612.1L487.5 609.3L489.8 607.3L491.9 604.8L494.6 603.0L497.6 601.7L500.2 600.0L502.0 596.7L504.4 594.4L507.6 593.3L511.0 592.8L514.0 591.5L517.1 589.7L520.6 589.9L524.0 590.3L527.5 590.3L530.6 592.0L533.7 593.5L535.5 596.8L538.3 598.6L540.1 601.3L541.8 604.1L543.4 607.0L543.9 610.3L544.8 613.3L545.5 616.5L547.1 619.5L547.9 622.7L549.2 626.0L549.1 629.5L548.0 633.2L545.4 635.9L543.2 638.6L540.5 640.7L538.0 643.2L534.2 643.1L530.9 643.6L528.0 641.8L524.7 641.3L522.2 639.2L519.9 636.9L517.5 634.8L515.4 632.4L512.7 630.7L510.9 628.0L508.2 626.3L506.1 623.7L503.3 621.8L500.4 620.1L497.1 619.2L493.8 618.6L491.4 616.4L488.9 614.6L487.1 612.3Z" fill="none" stroke="#7ad151" stroke-width="2.6" stroke-linejoin="round"/>
<path d="M509.2 612.7L510.5 610.1L513.1 608.5L515.6 606.8L518.4 605.2L521.3 603.8L524.6 603.5L527.7 604.5L530.4 606.2L533.4 607.0L535.7 609.0L537.7 611.2L538.6 614.3L539.9 616.9L541.0 619.7L542.2 622.5L542.8 625.6L542.9 629.0L541.8 632.1L540.2 635.2L537.6 637.8L534.0 638.1L530.6 638.3L527.5 636.9L524.2 636.2L521.9 633.8L518.7 632.6L516.7 629.9L514.7 627.3L513.7 624.1L511.9 621.5L510.4 618.8L509.7 615.9L508.9 613.1Z" fill="none" stroke="#2a788e" stroke-width="2.6" stroke-linejoin="round"/>
<path d="M596.7 606.0L597.1 609.3L595.8 612.2L593.7 614.7L591.6 616.9L589.6 619.2L587.6 621.9L584.8 623.7L581.5 624.3L578.2 623.7L575.2 623.1L572.6 620.9L570.2 619.4L567.7 618.3L564.3 617.6L562.3 615.3L560.7 612.6L559.9 609.6L559.2 606.5L559.1 603.3L560.8 600.5L561.9 597.6L563.9 595.3L565.5 592.4L567.7 589.8L570.6 588.2L573.9 587.7L577.3 588.6L580.2 590.2L583.0 590.9L585.9 591.4L589.3 591.5L592.1 593.3L594.5 595.6L596.0 598.6L596.2 601.9L596.7 605.0Z" fill="none" stroke="#22a884" stroke-width="2.6" stroke-linejoin="round"/>
<path d="M364.1 668.0L365.4 665.1L368.2 663.4L370.6 661.1L372.9 658.8L375.7 657.3L379.0 656.6L381.8 655.0L384.2 652.5L387.1 650.7L390.5 650.2L393.8 650.2L397.1 650.4L400.4 650.7L403.5 650.7L406.7 651.1L409.9 650.6L413.0 651.2L416.1 651.6L418.9 653.4L421.8 654.5L425.0 655.2L427.6 657.2L430.1 659.4L432.2 661.9L434.1 664.7L434.9 668.1L434.3 671.4L434.6 674.7L433.5 677.8L432.2 680.8L430.2 683.4L428.1 685.7L426.1 688.2L423.5 690.1L420.8 691.9L417.4 692.1L414.5 693.2L411.3 693.3L408.5 694.7L405.5 695.8L402.4 696.4L399.2 697.4L396.2 696.4L393.1 695.6L390.8 693.1L388.3 691.3L385.5 689.7L382.8 688.1L380.4 686.1L378.6 683.5L376.5 681.1L374.4 678.6L371.4 677.0L368.2 675.7L366.1 673.3L364.1 670.5Z" fill="none" stroke="#fde725" stroke-width="2.8" stroke-linejoin="round"/>
<path d="M383.1 675.9L383.9 673.4L384.0 669.9L385.1 666.7L387.4 664.3L390.5 662.8L393.7 661.7L396.2 659.8L399.1 658.7L401.7 656.4L404.9 655.9L408.2 655.3L411.4 656.3L414.7 656.6L417.8 657.9L420.5 659.7L422.5 662.4L424.7 664.8L425.8 667.8L427.8 670.3L428.6 673.3L429.3 676.5L428.2 679.6L426.6 682.4L424.9 685.0L422.5 687.1L419.6 688.4L416.8 689.8L413.8 690.9L410.7 691.9L407.4 691.3L404.4 690.9L401.5 690.0L398.6 689.0L396.0 687.4L393.3 686.0L390.5 684.7L387.6 683.4L385.2 681.3L383.6 678.7Z" fill="none" stroke="#7ad151" stroke-width="2.6" stroke-linejoin="round"/>
<path d="M392.1 679.9L392.8 676.4L394.4 673.2L397.0 670.9L398.7 667.9L401.4 665.8L404.6 664.0L408.2 664.1L411.5 664.2L414.8 664.8L418.0 666.0L420.5 668.2L422.5 670.8L424.4 673.5L425.4 676.8L425.0 680.3L423.3 683.5L420.7 685.9L417.7 687.5L414.4 688.3L411.0 689.1L407.6 688.9L404.5 687.8L401.4 686.6L398.3 685.4L395.3 683.6L393.1 681.0Z" fill="none" stroke="#22a884" stroke-width="2.6" stroke-linejoin="round"/>
<path d="M389.7 537.3L389.2 540.3L387.2 542.7L384.6 544.7L381.6 546.0L378.3 546.4L375.1 545.9L372.1 544.9L369.2 543.8L366.2 543.2L363.6 541.6L361.1 539.8L360.4 537.0L359.4 534.5L360.2 531.7L362.0 529.1L364.6 527.1L367.9 527.1L371.0 526.4L374.1 527.1L377.1 527.7L379.7 529.4L382.6 529.8L385.5 530.7L388.0 532.4L389.1 535.0Z" fill="none" stroke="#22a884" stroke-width="2.6" stroke-linejoin="round"/>
<path d="M336.1 146.8L335.5 149.5L333.0 151.0L330.2 152.0L327.4 151.7L325.0 150.6L325.7 148.3L327.4 146.4L330.2 145.4L333.0 144.9L335.7 146.1Z" fill="none" stroke="#22a884" stroke-width="2.6" stroke-linejoin="round"/>
<text x="414" y="461" font-size="15" text-anchor="middle" fill="#7ad151" transform="rotate(-32 414 461)" dy="5">−42</text>
<text x="461" y="555" font-size="15" text-anchor="middle" fill="#22a884" transform="rotate(32 461 555)" dy="5">−54</text>
<text x="518" y="635" font-size="15" text-anchor="middle" fill="#fde725" transform="rotate(25 518 635)" dy="5">−31</text>
<text x="506" y="622" font-size="15" text-anchor="middle" fill="#7ad151" transform="rotate(28 506 622)" dy="5">−51</text>
<text x="565" y="615" font-size="15" text-anchor="middle" fill="#7ad151" transform="rotate(30 565 615)" dy="5">−42</text>
<text x="421" y="688" font-size="15" text-anchor="middle" fill="#fde725" transform="rotate(-30 421 688)" dy="5">−31</text>
<text x="392" y="658" font-size="15" text-anchor="middle" fill="#7ad151" transform="rotate(-20 392 658)" dy="5">42</text>
<text x="468" y="672" font-size="15" text-anchor="middle" fill="#fde725" transform="rotate(60 468 672)" dy="5">−31</text>
<text x="803" y="534" font-size="15" text-anchor="middle" fill="#fde725" transform="rotate(-22 803 534)" dy="5">−3</text>
</g>
<rect x="427" y="429.1" width="73.1" height="72.6" fill="#ff0000" fill-opacity="0.45"/>
<path d="M161.5 104.6C163.9 109.0 170.9 121.8 176.0 131.0C181.1 140.2 186.8 150.0 192.3 159.7C197.8 169.3 203.2 179.8 209.2 188.9C215.1 198.0 221.6 205.8 228.0 214.0C234.4 222.2 238.2 226.1 247.4 238.4C256.6 250.7 270.5 272.3 283.4 287.9C296.3 303.4 310.4 317.8 325.0 331.7C339.6 345.6 354.1 356.9 371.1 371.0C388.2 385.1 410.5 403.2 427.3 416.0C444.1 428.8 460.0 439.2 472.2 447.5C484.4 455.8 490.6 459.1 500.4 465.5C510.2 471.9 526.1 482.2 531.2 485.6" fill="none" stroke="#0000ff" stroke-width="2.67" stroke-linejoin="round" stroke-dasharray="2.67 4.4"/>
<path d="M509.5 448.6L515.3 454.4M509.5 454.4L515.3 448.6M514.5 451.4L520.3 457.2M514.5 457.2L520.3 451.4M519.6 454.2L525.4 460.0M519.6 460.0L525.4 454.2M524.6 456.9L530.4 462.7M524.6 462.7L530.4 456.9M529.7 459.7L535.5 465.5M529.7 465.5L535.5 459.7M534.7 462.5L540.5 468.3M534.7 468.3L540.5 462.5M539.8 465.3L545.6 471.1M539.8 471.1L545.6 465.3M544.8 468.0L550.6 473.8M544.8 473.8L550.6 468.0M549.9 470.8L555.7 476.6M549.9 476.6L555.7 470.8M554.9 473.6L560.7 479.4M554.9 479.4L560.7 473.6M560.0 476.4L565.8 482.2M560.0 482.2L565.8 476.4M565.0 479.1L570.8 484.9M565.0 484.9L570.8 479.1M570.1 481.9L575.9 487.7M570.1 487.7L575.9 481.9M575.1 484.7L580.9 490.5M575.1 490.5L580.9 484.7M473.1 458.1L478.9 463.9M473.1 463.9L478.9 458.1M478.2 461.4L484.0 467.2M478.2 467.2L484.0 461.4M483.4 464.7L489.2 470.5M483.4 470.5L489.2 464.7M488.5 468.0L494.3 473.8M488.5 473.8L494.3 468.0M493.7 471.2L499.5 477.0M493.7 477.0L499.5 471.2M498.8 474.5L504.6 480.3M498.8 480.3L504.6 474.5M504.0 477.8L509.8 483.6M504.0 483.6L509.8 477.8M509.1 481.1L514.9 486.9M509.1 486.9L514.9 481.1M653.8 521.7L659.6 527.5M653.8 527.5L659.6 521.7M659.0 524.6L664.8 530.4M659.0 530.4L664.8 524.6M664.2 527.4L670.0 533.2M664.2 533.2L670.0 527.4M669.4 530.3L675.2 536.1M669.4 536.1L675.2 530.3M674.5 533.2L680.3 539.0M674.5 539.0L680.3 533.2M679.7 536.1L685.5 541.9M679.7 541.9L685.5 536.1M684.9 538.9L690.7 544.7M684.9 544.7L690.7 538.9M690.1 541.8L695.9 547.6M690.1 547.6L695.9 541.8M695.3 544.7L701.1 550.5M695.3 550.5L701.1 544.7M700.5 547.5L706.3 553.3M700.5 553.3L706.3 547.5M705.7 550.4L711.5 556.2M705.7 556.2L711.5 550.4M710.8 553.3L716.6 559.1M710.8 559.1L716.6 553.3M716.0 556.2L721.8 562.0M716.0 562.0L721.8 556.2M721.2 559.0L727.0 564.8M721.2 564.8L727.0 559.0M726.4 561.9L732.2 567.7M726.4 567.7L732.2 561.9M726.4 561.9L732.2 567.7M726.4 567.7L732.2 561.9M731.4 564.6L737.2 570.4M731.4 570.4L737.2 564.6M736.4 567.3L742.2 573.1M736.4 573.1L742.2 567.3M741.5 570.0L747.3 575.8M741.5 575.8L747.3 570.0M746.5 572.8L752.3 578.6M746.5 578.6L752.3 572.8M751.5 575.5L757.3 581.3M751.5 581.3L757.3 575.5M756.5 578.2L762.3 584.0M756.5 584.0L762.3 578.2M761.6 580.9L767.4 586.7M761.6 586.7L767.4 580.9M766.6 583.6L772.4 589.4M766.6 589.4L772.4 583.6M771.6 586.3L777.4 592.1M771.6 592.1L777.4 586.3M776.6 589.0L782.4 594.8M776.6 594.8L782.4 589.0M781.6 591.8L787.4 597.6M781.6 597.6L787.4 591.8M786.7 594.5L792.5 600.3M786.7 600.3L792.5 594.5M791.7 597.2L797.5 603.0M791.7 603.0L797.5 597.2M796.7 599.9L802.5 605.7M796.7 605.7L802.5 599.9M575.1 485.1L580.9 490.9M575.1 490.9L580.9 485.1M580.6 488.1L586.4 493.9M580.6 493.9L586.4 488.1M586.1 491.1L591.9 496.9M586.1 496.9L591.9 491.1M591.6 494.1L597.4 499.9M591.6 499.9L597.4 494.1M597.1 497.1L602.9 502.9M597.1 502.9L602.9 497.1" stroke="#00bfbf" stroke-width="2.3" fill="none"/>
<path d="M477.6 462.9L516.4 484.3L515.4 453.5L523.1 458.2L578.0 487.6L594.1 495.0L623.6 509.1L660.0 527.0L728.2 567.1L734.9 567.1L750.0 574.9L799.6 603.3L826.5 593.6" fill="none" stroke="#008000" stroke-width="2.7" stroke-linejoin="round"/>
<path d="M475.6 472.2L549.2 500.1L622.9 514.4L709.2 558.1L760.0 587.1L826.5 619.8" fill="none" stroke="#0000ff" stroke-width="2.2" stroke-linejoin="round"/>
<circle cx="475.6" cy="472.2" r="4" fill="#0000ff"/>
<circle cx="549.2" cy="500.1" r="4" fill="#0000ff"/>
<circle cx="622.9" cy="514.4" r="4" fill="#0000ff"/>
<circle cx="709.2" cy="558.1" r="4" fill="#0000ff"/>
<circle cx="760" cy="587.1" r="4" fill="#0000ff"/>
<rect x="513.1" y="489.7" width="10" height="10" fill="#bf00bf"/>
<rect x="606.5" y="493.5" width="10" height="10" fill="#bf00bf"/>
<rect x="766.7" y="603.7" width="10" height="10" fill="#bf00bf"/>
<rect x="750.0" y="581.0" width="10" height="10" fill="#bf00bf"/>
<rect x="807.4" y="617.3" width="10" height="10" fill="#bf00bf"/>
<rect x="814.7" y="625.4" width="10" height="10" fill="#bf00bf"/>
<path d="M709.2 558.1L760.0 587.1L826.5 619.8" fill="none" stroke="#0000ff" stroke-width="2.2" stroke-linejoin="round"/>
<circle cx="760" cy="587.1" r="4" fill="#0000ff"/>
<path d="M462.6 465.3L477.6 448.1L513.7 471.6L503.0 477.6L512.4 485.6L512.4 492.3L536.5 497.0L538.9 466.9L523.1 458.2L578.0 487.6L607.5 507.1L623.6 509.1L660.0 527.1L681.3 543.6L722.6 564.8L724.8 569.3L748.3 581.0L749.9 573.8L795.7 600.5L780.6 612.3L814.1 619.5L826.5 612.5" fill="none" stroke="#ff0000" stroke-width="3.3" stroke-linejoin="round"/>
<path d="M484.3 453.5L480.9 460.2" fill="none" stroke="#ff0000" stroke-width="3.6" stroke-linejoin="round"/>
<path d="M495.0 462.5L489.6 471.6" fill="none" stroke="#ff0000" stroke-width="4.5" stroke-linejoin="round"/>
<path d="M507.0 468.0L502.0 476.0" fill="none" stroke="#ff0000" stroke-width="5" stroke-linejoin="round"/>
<path d="M642.0 508.1L650.6 516.7M642.0 516.7L650.6 508.1" stroke="#ff0000" stroke-width="3.2" fill="none"/>
<path d="M192.3 101.7V827.8M338.0 101.7V827.8M483.9 101.7V827.8M628.6 101.7V827.8M774.2 101.7V827.8M99.7 187.0H827.8M99.7 332.3H827.8M99.7 477.8H827.8M99.7 623.3H827.8M99.7 768.8H827.8" fill="none" stroke="#fff" stroke-width="2.13" stroke-dasharray="2.13 3.39"/>
</g>
<rect x="482.3" y="108.4" width="339.9" height="186.8" rx="4" ry="4" fill="#fff" fill-opacity="0.8" stroke="#cccccc" stroke-opacity="0.8" stroke-width="2"/>
<text x="533.0" y="127.4" font-size="16.2" text-anchor="start" fill="#000" textLength="175.5" lengthAdjust="spacingAndGlyphs">AMSU Locations NONE</text>
<rect x="500.6" y="117.3" width="9.8" height="9.8" fill="#bf00bf"/>
<text x="533.0" y="150.2" font-size="16.2" text-anchor="start" fill="#000" textLength="212.0" lengthAdjust="spacingAndGlyphs">ARCHER Locations [1330Z]</text>
<rect x="500.6" y="140.2" width="9.8" height="9.8" fill="#bf00bf"/>
<text x="533.0" y="173.1" font-size="16.2" text-anchor="start" fill="#000" textLength="280.5" lengthAdjust="spacingAndGlyphs">SATCON Locations [1810Z 41 1002]</text>
<path d="M501.3 163.7L509.7 172.1M501.3 172.1L509.7 163.7" stroke="#00bfbf" stroke-width="2.8" fill="none"/>
<text x="533.0" y="196.0" font-size="16.2" text-anchor="start" fill="#000" textLength="254.5" lengthAdjust="spacingAndGlyphs">ADT Tracks [1810Z 39.0 1001.3]</text>
<line x1="488.3" y1="190.8" x2="521.6" y2="190.8" stroke="#008000" stroke-width="2.8"/>
<text x="533.0" y="218.8" font-size="16.2" text-anchor="start" fill="#000" textLength="243.5" lengthAdjust="spacingAndGlyphs">JTWC/NHC Forecast [19/1200Z]</text>
<line x1="489.5" y1="213.6" x2="521.6" y2="213.6" stroke="#0000ff" stroke-width="2.8" stroke-dasharray="2.8 4.6"/>
<text x="533.0" y="241.7" font-size="16.2" text-anchor="start" fill="#000" textLength="227.0" lengthAdjust="spacingAndGlyphs">JTWC/NHC Tracks [19/1800Z]</text>
<line x1="488.3" y1="236.5" x2="521.6" y2="236.5" stroke="#0000ff" stroke-width="2.4"/>
<circle cx="505" cy="236.5" r="4" fill="#0000ff"/>
<text x="533.0" y="264.5" font-size="16.2" text-anchor="start" fill="#000" textLength="233.5" lengthAdjust="spacingAndGlyphs">MESOSCALE/TARGET Location</text>
<path d="M500.9 254.7L510.1 263.9M500.9 263.9L510.1 254.7" stroke="#ff0000" stroke-width="3.2" fill="none"/>
<text x="533.0" y="287.4" font-size="16.2" text-anchor="start" fill="#000" textLength="119.0" lengthAdjust="spacingAndGlyphs">Floater Locater</text>
<line x1="488.3" y1="282.2" x2="521.6" y2="282.2" stroke="#ff0000" stroke-width="3.6"/>
<rect x="97.4" y="803.9" width="314.6" height="27" rx="4.5" ry="4.5" fill="#000"/>
<text x="102.2" y="821.8" font-size="17.76" text-anchor="start" fill="#fff" font-weight="bold" textLength="303.5" lengthAdjust="spacingAndGlyphs">Copyright © 2020-2025 Dapiya</text>
<rect x="99.7" y="101.7" width="728.1" height="726.1" fill="none" stroke="#000" stroke-width="3"/>
<rect x="835.3" y="101.5" width="14.4" height="727.5" fill="url(#cbL)" stroke="#000" stroke-width="1"/>
<g transform="translate(874.7 0)">
<rect x="99.7" y="101.7" width="728.1" height="726.1" fill="#fff"/>
<g clip-path="url(#cpL)">
<g filter="url(#cmap)">
<g clip-path="url(#sw)">
<g filter="url(#noiseR)">
<rect x="90" y="90" width="760" height="760" fill="#4c4c4c"/>
<path d="M340.0 135.0C381.7 123.0 553.3 121.3 600.0 128.0C646.7 134.7 633.3 160.5 620.0 175.0C606.7 189.5 553.3 205.0 520.0 215.0C486.7 225.0 448.3 237.5 420.0 235.0C391.7 232.5 363.3 216.7 350.0 200.0C336.7 183.3 298.3 147.0 340.0 135.0Z" fill="#343434" filter="url(#b16)"/>
<path d="M270.0 470.0C280.8 451.7 311.7 448.3 330.0 450.0C348.3 451.7 373.0 464.2 380.0 480.0C387.0 495.8 382.0 527.5 372.0 545.0C362.0 562.5 337.8 582.5 320.0 585.0C302.2 587.5 273.3 579.2 265.0 560.0C256.7 540.8 259.2 488.3 270.0 470.0Z" fill="#363636" filter="url(#b16)"/>
<path d="M240.0 560.0C256.7 536.7 310.0 546.7 330.0 560.0C350.0 573.3 365.0 616.7 360.0 640.0C355.0 663.3 321.7 690.0 300.0 700.0C278.3 710.0 240.0 723.3 230.0 700.0C220.0 676.7 223.3 583.3 240.0 560.0Z" fill="#404040" filter="url(#b20)"/>
<path d="M500.0 800.0C505.0 787.5 536.7 765.8 560.0 750.0C583.3 734.2 616.7 715.0 640.0 705.0C663.3 695.0 690.0 688.3 700.0 690.0C710.0 691.7 715.0 701.7 700.0 715.0C685.0 728.3 638.3 751.7 610.0 770.0C581.7 788.3 548.3 820.0 530.0 825.0C511.7 830.0 495.0 812.5 500.0 800.0Z" fill="#3e3e3e" filter="url(#b14)"/>
<path d="M330.0 240.0C350.0 225.0 436.7 220.0 460.0 230.0C483.3 240.0 480.0 283.3 470.0 300.0C460.0 316.7 421.7 326.7 400.0 330.0C378.3 333.3 351.7 335.0 340.0 320.0C328.3 305.0 310.0 255.0 330.0 240.0Z" fill="#414141" filter="url(#b16)"/>
<path d="M700.0 640.0C724.2 616.7 820.8 565.8 845.0 600.0C869.2 634.2 879.2 804.2 845.0 845.0C810.8 885.8 664.2 862.5 640.0 845.0C615.8 827.5 690.0 774.2 700.0 740.0C710.0 705.8 675.8 663.3 700.0 640.0Z" fill="#5e5e5e" filter="url(#b20)"/>
<path d="M310.0 150.0C317.5 128.3 332.5 140.0 335.0 170.0C337.5 200.0 332.5 278.3 325.0 330.0C317.5 381.7 298.3 455.0 290.0 480.0C281.7 505.0 275.0 510.0 275.0 480.0C275.0 450.0 284.2 355.0 290.0 300.0C295.8 245.0 302.5 171.7 310.0 150.0Z" fill="#595959" filter="url(#b10)"/>
<path d="M420.0 590.0C443.3 585.0 496.7 588.3 520.0 600.0C543.3 611.7 566.7 640.0 560.0 660.0C553.3 680.0 506.7 708.3 480.0 720.0C453.3 731.7 421.7 733.3 400.0 730.0C378.3 726.7 353.3 716.7 350.0 700.0C346.7 683.3 368.3 648.3 380.0 630.0C391.7 611.7 396.7 595.0 420.0 590.0Z" fill="#575757" filter="url(#b16)"/>
<path d="M600.0 590.0C623.3 580.0 736.7 595.0 760.0 610.0C783.3 625.0 763.3 670.0 740.0 680.0C716.7 690.0 643.3 685.0 620.0 670.0C596.7 655.0 576.7 600.0 600.0 590.0Z" fill="#5e5e5e" filter="url(#b14)"/>
<path d="M230.0 720.0C266.7 702.5 378.3 719.2 420.0 740.0C461.7 760.8 516.7 827.5 480.0 845.0C443.3 862.5 241.7 865.8 200.0 845.0C158.3 824.2 193.3 737.5 230.0 720.0Z" fill="#545454" filter="url(#b20)"/>
<g filter="url(#rough)"><use href="#cloudsR"/></g>
</g>
</g>
</g>
<path d="M192.3 101.7V827.8M338.0 101.7V827.8M483.9 101.7V827.8M628.6 101.7V827.8M774.2 101.7V827.8M99.7 187.0H827.8M99.7 332.3H827.8M99.7 477.8H827.8M99.7 623.3H827.8M99.7 768.8H827.8" fill="none" stroke="#fff" stroke-width="2.13" stroke-dasharray="2.13 3.39"/>
</g>
<rect x="99.7" y="101.7" width="728.1" height="726.1" fill="none" stroke="#000" stroke-width="3"/>
</g>
<rect x="1710.4" y="101.5" width="14.2" height="727.5" fill="url(#cbR)" stroke="#000" stroke-width="1"/>
<rect x="99.7" y="903.9" width="750.0" height="749.0000000000001" fill="#fff"/>
<polyline points="131.1,1261.1 163.8,1261.1 196.5,1204.2 229.2,1204.2 261.9,1147.4 294.5,1147.4 327.2,1147.4 359.9,1090.5 392.6,1090.5 425.3,1090.5 458.0,1033.7 490.7,1033.7 523.4,976.8 556.1,920.0 588.8,920.0 621.4,920.0 654.1,920.0 686.8,920.0 719.5,920.0 752.2,920.0 784.9,920.0 817.6,920.0" fill="none" stroke="#0000ff" stroke-width="5.33" stroke-linejoin="round" stroke-linecap="butt"/>
<rect x="108.6" y="911.8" width="214.7" height="35.9" rx="4" ry="4" fill="#fff" fill-opacity="0.8" stroke="#cccccc" stroke-opacity="0.8" stroke-width="2.67"/>
<line x1="114.0" y1="928.6" x2="158.2" y2="928.6" stroke="#0000ff" stroke-width="5.33"/>
<text x="171.5" y="936.6" font-size="19.14" text-anchor="start" fill="#000" textLength="143.0" lengthAdjust="spacingAndGlyphs">Wind[max=45]</text>
<polyline points="131.1,919.9 163.8,919.9 196.5,962.6 229.2,962.6 261.9,1005.2 294.5,1005.2 327.2,1047.8 359.9,1090.4 392.6,1133.0 425.3,1133.0 458.0,1133.0 490.7,1133.0 523.4,1175.7 556.1,1218.3 588.8,1260.9 621.4,1260.9 654.1,1260.9 686.8,1260.9 719.5,1260.9 752.2,1260.9 784.9,1260.9 817.6,1260.9" fill="none" stroke="#1f77b4" stroke-width="5.33" stroke-linejoin="round" stroke-linecap="butt"/>
<rect x="609.0" y="911.8" width="232.5" height="35.9" rx="4" ry="4" fill="#fff" fill-opacity="0.8" stroke="#cccccc" stroke-opacity="0.8" stroke-width="2.67"/>
<line x1="614.2" y1="928.6" x2="656.9" y2="928.6" stroke="#1f77b4" stroke-width="5.33"/>
<text x="671.3" y="936.6" font-size="19.14" text-anchor="start" fill="#000" textLength="160.5" lengthAdjust="spacingAndGlyphs">Pres.[min=1004]</text>
<polyline points="131.1,1636.1 163.8,1636.1 196.5,1636.1 229.2,1636.1 261.9,1636.1 294.5,1636.1 327.2,1636.1 359.9,1636.1 392.6,1636.1 425.3,1636.1 458.0,1636.1 490.7,1616.3 523.4,1590.4 556.1,1557.6 588.8,1524.9 621.4,1492.1 654.1,1459.3 686.8,1426.6 719.5,1393.8 752.2,1361.0 784.9,1328.3 817.6,1295.5" fill="none" stroke="#008000" stroke-width="5.33" stroke-linejoin="round" stroke-linecap="butt"/>
<rect x="108.6" y="1286.9" width="236.0" height="36.4" rx="4" ry="4" fill="#fff" fill-opacity="0.8" stroke="#cccccc" stroke-opacity="0.8" stroke-width="2.67"/>
<line x1="114.0" y1="1303.6" x2="158.2" y2="1303.6" stroke="#008000" stroke-width="5.33"/>
<text x="170.0" y="1310.6" font-size="19.14" text-anchor="start" fill="#000" textLength="164.5" lengthAdjust="spacingAndGlyphs">ACE[max=2.105]</text>
<rect x="99.7" y="903.9" width="750.0" height="374.7" fill="none" stroke="#000" stroke-width="3"/>
<rect x="99.7" y="1278.6" width="750.0" height="374.3" fill="none" stroke="#000" stroke-width="3"/>
<path d="M87.5 920.0H98.2M87.5 976.9H98.2M87.5 1033.7H98.2M87.5 1090.5H98.2M87.5 1147.4H98.2M87.5 1204.2H98.2M87.5 1261.1H98.2M851.2 920.0H861.9M851.2 962.6H861.9M851.2 1005.3H861.9M851.2 1047.9H861.9M851.2 1090.6H861.9M851.2 1133.2H861.9M851.2 1175.8H861.9M851.2 1218.5H861.9M851.2 1261.1H861.9M87.5 1312.5H98.2M87.5 1393.4H98.2M87.5 1474.3H98.2M87.5 1555.2H98.2M87.5 1636.1H98.2" stroke="#000" stroke-width="3" fill="none"/>
<clipPath id="cw"><rect x="974.6" y="903.4" width="750.2" height="749.2"/></clipPath>
<g clip-path="url(#cw)" shape-rendering="crispEdges">
<rect x="974.6" y="903.4" width="750.2" height="749.2" fill="#a0a0a0"/>
<polygon points="1164.0,904.9 1160.0,949.2 1171.8,949.2 1170.7,963.4 1201.9,962.9 1194.8,1009.5 1227.0,1009.1 1222.7,1039.8 1238.1,1039.8 1233.8,1071.1 1249.0,1071.1 1239.3,1132.6 1206.2,1133.8 1201.9,1164.6 1184.9,1165.0 1182.5,1180.7 1165.9,1181.1 1160.0,1226.1 1110.3,1228.0 1105.6,1258.8 1057.0,1260.4 1050.7,1306.7 969.5,1307.9 969.6,1308.0 969.6,898.4 1164.0,898.4" fill="#6e6e6e"/>
<polygon points="1002.6,904.9 1000.7,917.9 1015.6,917.9 1012.1,951.1 1042.8,951.1 1041.7,966.9 1057.0,966.9 1054.7,982.3 1070.1,982.3 1065.8,1013.1 1049.2,1013.1 1044.7,1043.8 1059.9,1043.8 1058.9,1059.2 1074.1,1059.2 1067.0,1105.9 1049.9,1105.9 1045.7,1136.6 1029.1,1136.6 1022.0,1183.5 988.9,1184.7 987.9,1199.6 969.5,1199.6 969.5,899.5 1003.1,899.5" fill="#3c3c3c"/>
<polygon points="1421.7,904.9 1418.8,926.7 1434.0,926.7 1429.9,957.9 1444.9,957.9 1435.1,1019.5 1450.8,1019.5 1441.3,1081.7 1456.0,1081.7 1452.0,1112.0 1467.1,1112.0 1462.6,1143.7 1445.8,1144.4 1444.1,1158.6 1460.0,1158.6 1453.1,1204.8 1468.0,1204.8 1466.2,1219.7 1482.0,1219.7 1471.8,1281.7 1486.7,1281.7 1485.8,1296.7 1500.9,1296.7 1499.1,1312.1 1515.1,1312.1 1509.7,1342.9 1477.3,1344.1 1475.6,1358.8 1442.2,1360.2 1440.6,1375.8 1391.4,1376.5 1389.7,1391.9 1357.8,1392.6 1351.8,1423.8 1335.1,1424.3 1333.5,1438.5 1252.3,1440.9 1250.7,1456.5 1218.0,1457.5 1215.6,1472.6 1199.1,1473.1 1195.0,1503.8 1210.2,1503.8 1206.2,1533.2 1173.0,1535.1 1166.6,1580.5 1135.1,1581.5 1135.9,1567.0 1104.9,1566.6 1106.7,1552.1 1058.2,1552.8 1054.7,1582.9 1070.1,1582.9 1063.0,1629.8 1045.9,1630.2 1044.7,1644.7 1059.9,1644.7 1058.0,1658.2 1729.8,1657.6 1729.8,898.4 1422.5,898.4" fill="#000"/>
<polygon points="1333.5,1438.5 1349.3,1438.5 1347.0,1454.6 1330.9,1454.6" fill="#a0a0a0"/>
<polygon points="1486.0,910.1 1502.4,910.1 1500.0,926.0 1483.9,926.0" fill="#a0a0a0"/>
<polygon points="1721.1,952.0 1728.2,952.0 1728.2,982.8 1716.8,982.8" fill="#fff"/>
<polygon points="1709.9,1013.8 1728.2,1013.8 1728.2,1122.0 1693.1,1122.7 1694.3,1107.3 1679.2,1106.8 1691.0,1030.1 1708.8,1029.6" fill="#fff"/>
<polygon points="1728.2,1353.6 1686.3,1353.6 1687.2,1339.1 1671.4,1339.1 1669.7,1354.7 1652.4,1355.2 1650.5,1370.6 1634.2,1371.1 1631.8,1386.7 1615.0,1387.2 1605.8,1448.7 1492.0,1451.1 1486.7,1481.8 1470.7,1482.3 1465.9,1512.6 1481.3,1512.6 1479.6,1528.5 1463.6,1528.9 1461.2,1544.1 1428.0,1545.0 1425.7,1560.7 1409.1,1561.1 1405.1,1590.7 1420.0,1590.7 1415.7,1622.0 1351.1,1623.4 1349.9,1638.5 1364.9,1638.5 1362.5,1658.2 1728.2,1658.2" fill="#fff"/>
<polygon points="1714.0,1568.9 1728.2,1568.9 1728.2,1658.2 1683.2,1658.2 1684.4,1646.8 1669.0,1646.3 1673.7,1616.0 1689.8,1616.0 1695.0,1584.8 1712.1,1584.8" fill="#888888"/>
<polygon points="1608.2,1525.6 1624.0,1525.6 1621.7,1541.0 1605.8,1541.0" fill="#000"/>
<polygon points="974.2,1046.2 980.1,1046.2 977.8,1060.4 974.2,1060.4" fill="#ddd"/>
<polygon points="974.2,904.2 1002.6,904.2 1002.6,905.9 974.2,905.9" fill="#fff"/>
</g>
<rect x="986.6" y="917.1" width="180.6" height="31.6" rx="4.5" ry="4.5" fill="#000"/>
<text x="993.4" y="939.0" font-size="21.22" text-anchor="start" fill="#fff" font-weight="bold" textLength="167.0" lengthAdjust="spacingAndGlyphs">WMG Count: 0</text>
<rect x="974.6" y="903.4" width="750.2" height="749.2" fill="none" stroke="#000" stroke-width="3"/>
<text x="98.6" y="51.0" font-size="26.96" text-anchor="start" fill="#000" textLength="472.5" lengthAdjust="spacingAndGlyphs">GOES-19 BAND14-DIAS MESOSCALE</text>
<text x="98.6" y="80.6" font-size="26.96" text-anchor="start" fill="#000" textLength="374.5" lengthAdjust="spacingAndGlyphs">Time: 2025/09/19 19:02:55Z</text>
<text x="1702.8" y="38.8" font-size="17.76" text-anchor="end" fill="#000" textLength="377.0" lengthAdjust="spacingAndGlyphs">[dmax, dmin](BAND14)=(-27.288, -77.985)</text>
<text x="1702.8" y="59.7" font-size="17.76" text-anchor="end" fill="#000" textLength="345.0" lengthAdjust="spacingAndGlyphs">[dmax, dmin](AWV)=(-48.534, -76.088)</text>
<text x="1702.8" y="80.6" font-size="17.76" text-anchor="end" fill="#000" textLength="272.0" lengthAdjust="spacingAndGlyphs">07L.GABRIELLE | 45kt, 1004mb</text>
<text x="844.5" y="93.6" font-size="16.4" text-anchor="start" fill="#000" textLength="19.5" lengthAdjust="spacingAndGlyphs">°C</text>
<text x="1719.8" y="93.6" font-size="16.4" text-anchor="start" fill="#000" textLength="19.5" lengthAdjust="spacingAndGlyphs">°C</text>
<text x="857.3" y="163.0" font-size="16.4" text-anchor="start" fill="#000" textLength="20.4" lengthAdjust="spacingAndGlyphs">40</text>
<text x="857.3" y="216.9" font-size="16.4" text-anchor="start" fill="#000" textLength="20.4" lengthAdjust="spacingAndGlyphs">30</text>
<text x="857.3" y="270.8" font-size="16.4" text-anchor="start" fill="#000" textLength="20.4" lengthAdjust="spacingAndGlyphs">20</text>
<text x="857.3" y="324.8" font-size="16.4" text-anchor="start" fill="#000" textLength="20.4" lengthAdjust="spacingAndGlyphs">10</text>
<text x="857.3" y="378.7" font-size="16.4" text-anchor="start" fill="#000" textLength="10.2" lengthAdjust="spacingAndGlyphs">0</text>
<text x="857.3" y="432.6" font-size="16.4" text-anchor="start" fill="#000" textLength="33.8" lengthAdjust="spacingAndGlyphs">−10</text>
<text x="857.3" y="486.5" font-size="16.4" text-anchor="start" fill="#000" textLength="33.8" lengthAdjust="spacingAndGlyphs">−20</text>
<text x="857.3" y="540.4" font-size="16.4" text-anchor="start" fill="#000" textLength="33.8" lengthAdjust="spacingAndGlyphs">−30</text>
<text x="857.3" y="594.4" font-size="16.4" text-anchor="start" fill="#000" textLength="33.8" lengthAdjust="spacingAndGlyphs">−40</text>
<text x="857.3" y="648.3" font-size="16.4" text-anchor="start" fill="#000" textLength="33.8" lengthAdjust="spacingAndGlyphs">−50</text>
<text x="857.3" y="702.2" font-size="16.4" text-anchor="start" fill="#000" textLength="33.8" lengthAdjust="spacingAndGlyphs">−60</text>
<text x="857.3" y="756.1" font-size="16.4" text-anchor="start" fill="#000" textLength="33.8" lengthAdjust="spacingAndGlyphs">−70</text>
<text x="857.3" y="810.0" font-size="16.4" text-anchor="start" fill="#000" textLength="33.8" lengthAdjust="spacingAndGlyphs">−80</text>
<text x="1731.8" y="156.7" font-size="16.4" text-anchor="start" fill="#000" textLength="20.4" lengthAdjust="spacingAndGlyphs">40</text>
<text x="1731.8" y="205.2" font-size="16.4" text-anchor="start" fill="#000" textLength="20.4" lengthAdjust="spacingAndGlyphs">30</text>
<text x="1731.8" y="253.7" font-size="16.4" text-anchor="start" fill="#000" textLength="20.4" lengthAdjust="spacingAndGlyphs">20</text>
<text x="1731.8" y="302.2" font-size="16.4" text-anchor="start" fill="#000" textLength="20.4" lengthAdjust="spacingAndGlyphs">10</text>
<text x="1731.8" y="350.7" font-size="16.4" text-anchor="start" fill="#000" textLength="10.2" lengthAdjust="spacingAndGlyphs">0</text>
<text x="1731.8" y="399.2" font-size="16.4" text-anchor="start" fill="#000" textLength="33.8" lengthAdjust="spacingAndGlyphs">−10</text>
<text x="1731.8" y="447.7" font-size="16.4" text-anchor="start" fill="#000" textLength="33.8" lengthAdjust="spacingAndGlyphs">−20</text>
<text x="1731.8" y="496.2" font-size="16.4" text-anchor="start" fill="#000" textLength="33.8" lengthAdjust="spacingAndGlyphs">−30</text>
<text x="1731.8" y="544.7" font-size="16.4" text-anchor="start" fill="#000" textLength="33.8" lengthAdjust="spacingAndGlyphs">−40</text>
<text x="1731.8" y="593.2" font-size="16.4" text-anchor="start" fill="#000" textLength="33.8" lengthAdjust="spacingAndGlyphs">−50</text>
<text x="1731.8" y="641.7" font-size="16.4" text-anchor="start" fill="#000" textLength="33.8" lengthAdjust="spacingAndGlyphs">−60</text>
<text x="1731.8" y="690.2" font-size="16.4" text-anchor="start" fill="#000" textLength="33.8" lengthAdjust="spacingAndGlyphs">−70</text>
<text x="1731.8" y="738.7" font-size="16.4" text-anchor="start" fill="#000" textLength="33.8" lengthAdjust="spacingAndGlyphs">−80</text>
<text x="1731.8" y="787.2" font-size="16.4" text-anchor="start" fill="#000" textLength="33.8" lengthAdjust="spacingAndGlyphs">−90</text>
<text x="92.3" y="191.9" font-size="13.66" text-anchor="end" fill="#000" textLength="33.8" lengthAdjust="spacingAndGlyphs">26°N</text>
<text x="92.3" y="337.2" font-size="13.66" text-anchor="end" fill="#000" textLength="33.8" lengthAdjust="spacingAndGlyphs">24°N</text>
<text x="92.3" y="482.7" font-size="13.66" text-anchor="end" fill="#000" textLength="33.8" lengthAdjust="spacingAndGlyphs">22°N</text>
<text x="92.3" y="628.2" font-size="13.66" text-anchor="end" fill="#000" textLength="33.8" lengthAdjust="spacingAndGlyphs">20°N</text>
<text x="92.3" y="773.7" font-size="13.66" text-anchor="end" fill="#000" textLength="33.8" lengthAdjust="spacingAndGlyphs">18°N</text>
<text x="192.3" y="850.9" font-size="13.66" text-anchor="middle" fill="#000" textLength="38.2" lengthAdjust="spacingAndGlyphs">60°W</text>
<text x="338.0" y="850.9" font-size="13.66" text-anchor="middle" fill="#000" textLength="38.2" lengthAdjust="spacingAndGlyphs">58°W</text>
<text x="483.9" y="850.9" font-size="13.66" text-anchor="middle" fill="#000" textLength="38.2" lengthAdjust="spacingAndGlyphs">56°W</text>
<text x="628.6" y="850.9" font-size="13.66" text-anchor="middle" fill="#000" textLength="38.2" lengthAdjust="spacingAndGlyphs">54°W</text>
<text x="774.2" y="850.9" font-size="13.66" text-anchor="middle" fill="#000" textLength="38.2" lengthAdjust="spacingAndGlyphs">52°W</text>
<text x="967.0" y="191.9" font-size="13.66" text-anchor="end" fill="#000" textLength="33.8" lengthAdjust="spacingAndGlyphs">26°N</text>
<text x="967.0" y="337.2" font-size="13.66" text-anchor="end" fill="#000" textLength="33.8" lengthAdjust="spacingAndGlyphs">24°N</text>
<text x="967.0" y="482.7" font-size="13.66" text-anchor="end" fill="#000" textLength="33.8" lengthAdjust="spacingAndGlyphs">22°N</text>
<text x="967.0" y="628.2" font-size="13.66" text-anchor="end" fill="#000" textLength="33.8" lengthAdjust="spacingAndGlyphs">20°N</text>
<text x="967.0" y="773.7" font-size="13.66" text-anchor="end" fill="#000" textLength="33.8" lengthAdjust="spacingAndGlyphs">18°N</text>
<text x="1067.0" y="850.9" font-size="13.66" text-anchor="middle" fill="#000" textLength="38.2" lengthAdjust="spacingAndGlyphs">60°W</text>
<text x="1212.7" y="850.9" font-size="13.66" text-anchor="middle" fill="#000" textLength="38.2" lengthAdjust="spacingAndGlyphs">58°W</text>
<text x="1358.6" y="850.9" font-size="13.66" text-anchor="middle" fill="#000" textLength="38.2" lengthAdjust="spacingAndGlyphs">56°W</text>
<text x="1503.3" y="850.9" font-size="13.66" text-anchor="middle" fill="#000" textLength="38.2" lengthAdjust="spacingAndGlyphs">54°W</text>
<text x="1648.9" y="850.9" font-size="13.66" text-anchor="middle" fill="#000" textLength="38.2" lengthAdjust="spacingAndGlyphs">52°W</text>
<text x="474.4" y="881.6" font-size="22.96" text-anchor="middle" fill="#000" textLength="318.0" lengthAdjust="spacingAndGlyphs">Wind / Pres. / ACE Diagnosis</text>
<text x="74.3" y="924.8" font-size="13.66" text-anchor="end" fill="#000" textLength="17.0" lengthAdjust="spacingAndGlyphs">45</text>
<text x="74.3" y="981.6" font-size="13.66" text-anchor="end" fill="#000" textLength="17.0" lengthAdjust="spacingAndGlyphs">40</text>
<text x="74.3" y="1038.5" font-size="13.66" text-anchor="end" fill="#000" textLength="17.0" lengthAdjust="spacingAndGlyphs">35</text>
<text x="74.3" y="1095.3" font-size="13.66" text-anchor="end" fill="#000" textLength="17.0" lengthAdjust="spacingAndGlyphs">30</text>
<text x="74.3" y="1152.2" font-size="13.66" text-anchor="end" fill="#000" textLength="17.0" lengthAdjust="spacingAndGlyphs">25</text>
<text x="74.3" y="1209.0" font-size="13.66" text-anchor="end" fill="#000" textLength="17.0" lengthAdjust="spacingAndGlyphs">20</text>
<text x="74.3" y="1265.9" font-size="13.66" text-anchor="end" fill="#000" textLength="17.0" lengthAdjust="spacingAndGlyphs">15</text>
<text x="874.7" y="924.8" font-size="13.66" text-anchor="start" fill="#000" textLength="33.9" lengthAdjust="spacingAndGlyphs">1012</text>
<text x="874.7" y="967.4" font-size="13.66" text-anchor="start" fill="#000" textLength="33.9" lengthAdjust="spacingAndGlyphs">1011</text>
<text x="874.7" y="1010.1" font-size="13.66" text-anchor="start" fill="#000" textLength="33.9" lengthAdjust="spacingAndGlyphs">1010</text>
<text x="874.7" y="1052.7" font-size="13.66" text-anchor="start" fill="#000" textLength="33.9" lengthAdjust="spacingAndGlyphs">1009</text>
<text x="874.7" y="1095.4" font-size="13.66" text-anchor="start" fill="#000" textLength="33.9" lengthAdjust="spacingAndGlyphs">1008</text>
<text x="874.7" y="1138.0" font-size="13.66" text-anchor="start" fill="#000" textLength="33.9" lengthAdjust="spacingAndGlyphs">1007</text>
<text x="874.7" y="1180.6" font-size="13.66" text-anchor="start" fill="#000" textLength="33.9" lengthAdjust="spacingAndGlyphs">1006</text>
<text x="874.7" y="1223.3" font-size="13.66" text-anchor="start" fill="#000" textLength="33.9" lengthAdjust="spacingAndGlyphs">1005</text>
<text x="874.7" y="1265.9" font-size="13.66" text-anchor="start" fill="#000" textLength="33.9" lengthAdjust="spacingAndGlyphs">1004</text>
<text x="74.3" y="1317.3" font-size="13.66" text-anchor="end" fill="#000" textLength="21.2" lengthAdjust="spacingAndGlyphs">2.0</text>
<text x="74.3" y="1398.2" font-size="13.66" text-anchor="end" fill="#000" textLength="21.2" lengthAdjust="spacingAndGlyphs">1.5</text>
<text x="74.3" y="1479.1" font-size="13.66" text-anchor="end" fill="#000" textLength="21.2" lengthAdjust="spacingAndGlyphs">1.0</text>
<text x="74.3" y="1560.0" font-size="13.66" text-anchor="end" fill="#000" textLength="21.2" lengthAdjust="spacingAndGlyphs">0.5</text>
<text x="74.3" y="1640.9" font-size="13.66" text-anchor="end" fill="#000" textLength="21.2" lengthAdjust="spacingAndGlyphs">0.0</text>
<text x="40.2" y="1091.8" font-size="13.66" text-anchor="middle" fill="#000" textLength="33.8" lengthAdjust="spacingAndGlyphs" transform="rotate(-90 40.2 1091.8)">Wind</text>
<text x="36.0" y="1466.0" font-size="13.66" text-anchor="middle" fill="#000" textLength="26.8" lengthAdjust="spacingAndGlyphs" transform="rotate(-90 36.0 1466.0)">ACE</text>
<text x="934.0" y="1092.5" font-size="13.66" text-anchor="middle" fill="#000" textLength="56.5" lengthAdjust="spacingAndGlyphs" transform="rotate(-90 934.0 1092.5)">Pressure</text>
</svg>
</body></html>
